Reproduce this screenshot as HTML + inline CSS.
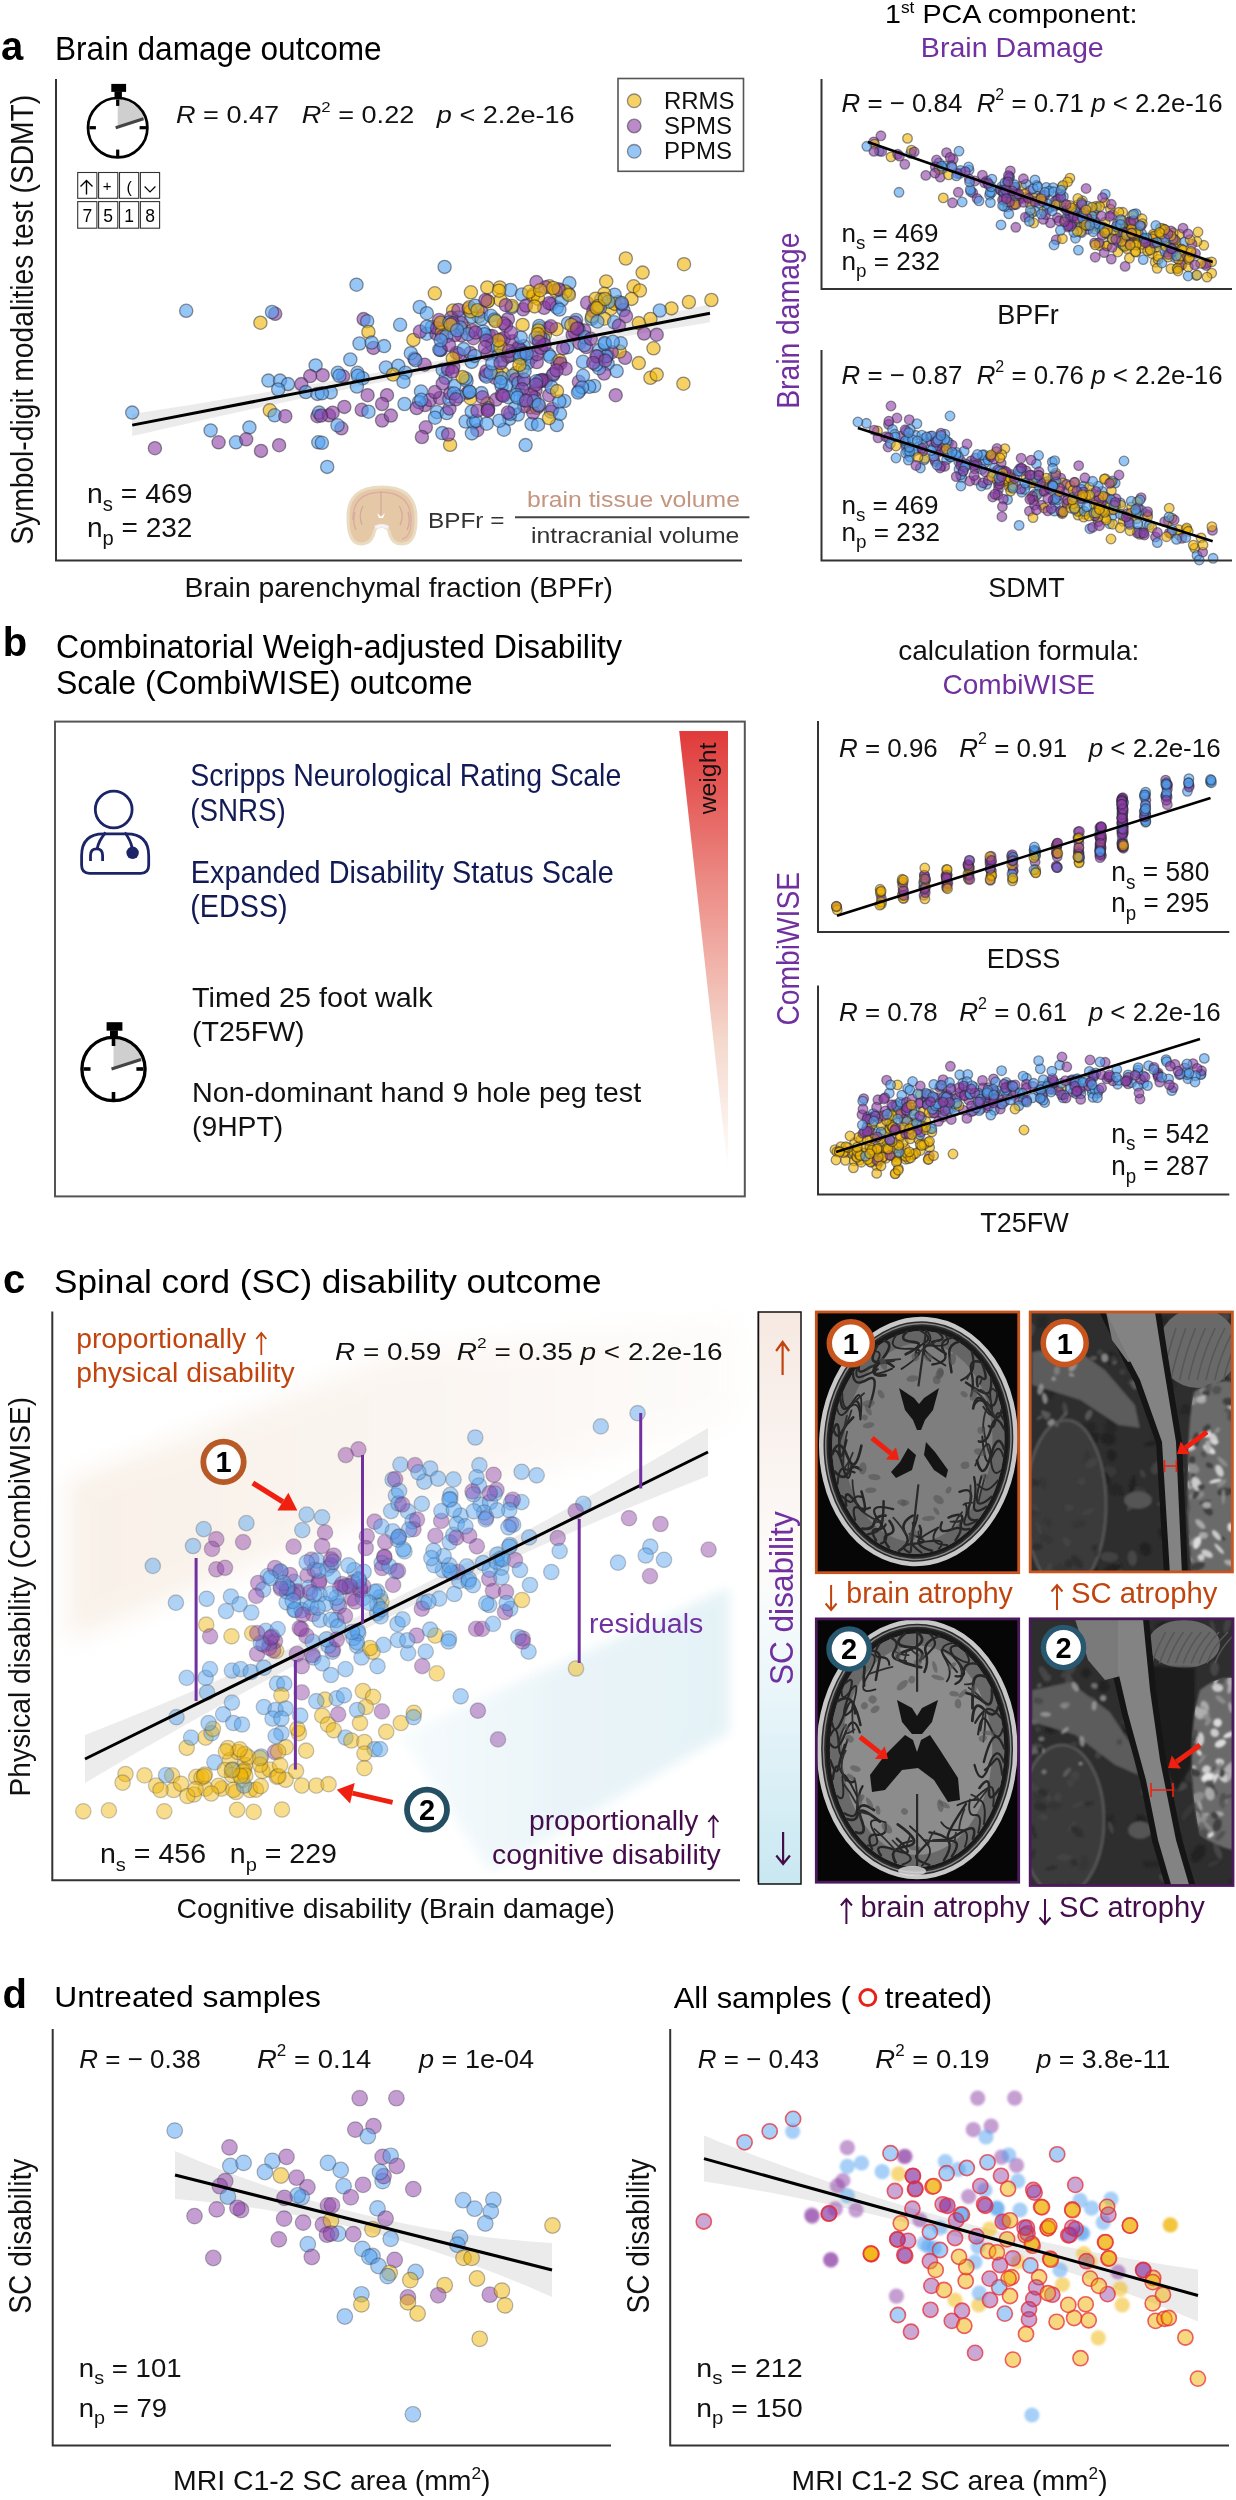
<!DOCTYPE html>
<html><head><meta charset="utf-8"><style>
html,body{margin:0;padding:0;background:#fff;}
svg{display:block;font-family:"Liberation Sans", sans-serif;}
text{white-space:pre;}
.dy{fill:rgba(240,180,0,.6);stroke:rgba(40,40,50,.5);stroke-width:1.3}
.dp{fill:rgba(140,60,165,.6);stroke:rgba(40,40,50,.5);stroke-width:1.3}
.db{fill:rgba(80,160,240,.6);stroke:rgba(40,40,50,.5);stroke-width:1.3}
.cy{fill:rgba(240,180,0,.45);stroke:rgba(60,60,70,.28);stroke-width:1.3}
.cp{fill:rgba(140,60,165,.45);stroke:rgba(60,60,70,.28);stroke-width:1.3}
.cb{fill:rgba(80,160,240,.45);stroke:rgba(60,60,70,.28);stroke-width:1.3}
.ey{fill:rgba(240,180,0,.5);stroke:rgba(50,50,60,.36);stroke-width:1.2}
.ep{fill:rgba(140,60,165,.5);stroke:rgba(50,50,60,.36);stroke-width:1.2}
.eb{fill:rgba(80,160,240,.5);stroke:rgba(50,50,60,.36);stroke-width:1.2}
.uy{fill:rgba(240,180,0,.5)}
.up{fill:rgba(140,60,165,.5)}
.ub{fill:rgba(80,160,240,.5)}
.ty{fill:rgba(240,175,0,.5);stroke:rgba(230,45,55,.75);stroke-width:1.6}
.tp{fill:rgba(140,60,165,.45);stroke:rgba(230,45,55,.75);stroke-width:1.6}
.tb{fill:rgba(80,160,240,.5);stroke:rgba(230,45,55,.75);stroke-width:1.6}
</style></head><body>
<svg width="1236" height="2500" viewBox="0 0 1236 2500">
<defs>
<filter id="blur12" x="-20%" y="-20%" width="140%" height="140%"><feGaussianBlur stdDeviation="12"/></filter>
<filter id="blur6" x="-20%" y="-20%" width="140%" height="140%"><feGaussianBlur stdDeviation="6"/></filter>
<filter id="blur1" x="-50%" y="-50%" width="200%" height="200%"><feGaussianBlur stdDeviation="1.3"/></filter>
<linearGradient id="beigeG" x1="0" y1="0" x2="1" y2="0"><stop offset="0" stop-color="#F3E3D3"/><stop offset="0.6" stop-color="#F8EEE6"/><stop offset="1" stop-color="#FDFAF8"/></linearGradient>
<linearGradient id="blueG" x1="0" y1="0" x2="1" y2="0"><stop offset="0" stop-color="#F4FAFC"/><stop offset="0.5" stop-color="#E3F1F6"/><stop offset="1" stop-color="#DCEEF4"/></linearGradient>
<linearGradient id="weightG" x1="0" y1="0" x2="0" y2="1"><stop offset="0" stop-color="#E03A3A"/><stop offset="0.35" stop-color="#EC8C86"/><stop offset="0.7" stop-color="#F5D8CC"/><stop offset="1" stop-color="#FFFFFF"/></linearGradient>
<linearGradient id="scbarG" x1="0" y1="0" x2="0" y2="1"><stop offset="0" stop-color="#F6E9E2"/><stop offset="0.45" stop-color="#FDFBFA"/><stop offset="0.55" stop-color="#F4FAFC"/><stop offset="1" stop-color="#C9E8F2"/></linearGradient>
</defs>
<path d="M68 1482 L400 1352 L740 1318 L740 1420 L400 1508 L68 1640 Z" fill="url(#beigeG)" filter="url(#blur12)" opacity="0.5"/>
<path d="M400 1735 L729 1588 L729 1732 L490 1872 Z" fill="url(#blueG)" filter="url(#blur6)" opacity="0.75"/>
<path d="M132.2 414.1 L151.5 411.1 L170.7 408.0 L190.0 404.9 L209.2 401.8 L228.5 398.6 L247.8 395.3 L267.0 392.0 L286.3 388.7 L305.5 385.3 L324.8 381.9 L344.1 378.4 L363.3 374.9 L382.6 371.4 L401.8 367.8 L421.1 364.1 L440.4 360.5 L459.6 356.7 L478.9 353.0 L498.1 349.1 L517.4 345.3 L536.7 341.4 L555.9 337.4 L575.2 333.4 L594.4 329.4 L613.7 325.3 L633.0 321.2 L652.2 317.0 L671.5 312.8 L690.7 308.5 L710.0 304.2 L710.0 322.2 L690.7 325.4 L671.5 328.5 L652.2 331.8 L633.0 335.1 L613.7 338.4 L594.4 341.8 L575.2 345.2 L555.9 348.7 L536.7 352.2 L517.4 355.7 L498.1 359.3 L478.9 363.0 L459.6 366.6 L440.4 370.4 L421.1 374.1 L401.8 378.0 L382.6 381.8 L363.3 385.7 L344.1 389.7 L324.8 393.7 L305.5 397.7 L286.3 401.8 L267.0 405.9 L247.8 410.1 L228.5 414.3 L209.2 418.6 L190.0 422.9 L170.7 427.3 L151.5 431.7 L132.2 436.1Z" fill="#e2e2e2" fill-opacity="0.7"/>
<circle class="db" cx="186.2" cy="310.8" r="6.6"/><circle class="dy" cx="260.4" cy="322.7" r="6.6"/><circle class="dp" cx="275.2" cy="313.8" r="6.6"/><circle class="db" cx="272.0" cy="312.0" r="6.6"/><circle class="db" cx="132.2" cy="412.6" r="6.6"/><circle class="dp" cx="154.9" cy="448.2" r="6.6"/><circle class="db" cx="210.6" cy="430.4" r="6.6"/><circle class="dp" cx="218.6" cy="442.3" r="6.6"/><circle class="db" cx="236.0" cy="442.3" r="6.6"/><circle class="db" cx="249.4" cy="427.4" r="6.6"/><circle class="dp" cx="246.2" cy="439.3" r="6.6"/><circle class="dp" cx="261.0" cy="450.9" r="6.6"/><circle class="dp" cx="279.1" cy="445.2" r="6.6"/><circle class="db" cx="318.3" cy="442.3" r="6.6"/><circle class="db" cx="327.2" cy="466.9" r="6.6"/><circle class="db" cx="268.4" cy="380.6" r="6.6"/><circle class="db" cx="280.0" cy="380.6" r="6.6"/><circle class="db" cx="288.0" cy="384.1" r="6.6"/><circle class="db" cx="278.2" cy="389.5" r="6.6"/><circle class="dy" cx="269.8" cy="410.3" r="6.6"/><circle class="db" cx="274.6" cy="415.3" r="6.6"/><circle class="dp" cx="285.3" cy="416.2" r="6.6"/><circle class="db" cx="315.6" cy="365.4" r="6.6"/><circle class="dp" cx="310.2" cy="376.1" r="6.6"/><circle class="dp" cx="322.7" cy="375.2" r="6.6"/><circle class="dp" cx="301.3" cy="384.1" r="6.6"/><circle class="db" cx="305.8" cy="392.1" r="6.6"/><circle class="db" cx="317.4" cy="393.9" r="6.6"/><circle class="dp" cx="317.4" cy="416.2" r="6.6"/><circle class="db" cx="319.1" cy="412.6" r="6.6"/><circle class="dp" cx="329.0" cy="415.3" r="6.6"/><circle class="db" cx="444.6" cy="266.9" r="6.6"/><circle class="db" cx="356.5" cy="284.7" r="6.6"/><circle class="dy" cx="434.8" cy="293.3" r="6.6"/><circle class="db" cx="419.7" cy="307.0" r="6.6"/><circle class="db" cx="426.8" cy="313.2" r="6.6"/><circle class="dy" cx="453.1" cy="310.5" r="6.6"/><circle class="dp" cx="363.6" cy="319.1" r="6.6"/><circle class="db" cx="367.2" cy="321.2" r="6.6"/><circle class="dy" cx="368.4" cy="331.9" r="6.6"/><circle class="db" cx="400.1" cy="324.8" r="6.6"/><circle class="dy" cx="449.0" cy="324.8" r="6.6"/><circle class="db" cx="359.5" cy="343.5" r="6.6"/><circle class="dp" cx="373.4" cy="347.9" r="6.6"/><circle class="db" cx="384.1" cy="346.1" r="6.6"/><circle class="db" cx="371.6" cy="342.6" r="6.6"/><circle class="db" cx="350.3" cy="359.5" r="6.6"/><circle class="dy" cx="413.4" cy="339.9" r="6.6"/><circle class="db" cx="426.8" cy="333.7" r="6.6"/><circle class="dy" cx="464.2" cy="328.3" r="6.6"/><circle class="dy" cx="487.3" cy="287.4" r="6.6"/><circle class="dy" cx="499.8" cy="287.4" r="6.6"/><circle class="db" cx="510.5" cy="290.0" r="6.6"/><circle class="db" cx="522.0" cy="294.5" r="6.6"/><circle class="dy" cx="533.6" cy="294.5" r="6.6"/><circle class="dp" cx="343.1" cy="376.4" r="6.6"/><circle class="db" cx="337.8" cy="372.8" r="6.6"/><circle class="db" cx="357.4" cy="372.8" r="6.6"/><circle class="db" cx="362.7" cy="378.2" r="6.6"/><circle class="db" cx="330.7" cy="392.4" r="6.6"/><circle class="db" cx="385.9" cy="367.5" r="6.6"/><circle class="db" cx="398.3" cy="365.7" r="6.6"/><circle class="dy" cx="393.0" cy="374.6" r="6.6"/><circle class="db" cx="405.4" cy="372.8" r="6.6"/><circle class="dp" cx="414.3" cy="358.6" r="6.6"/><circle class="db" cx="410.8" cy="353.2" r="6.6"/><circle class="dy" cx="625.8" cy="258.5" r="6.6"/><circle class="dy" cx="684.0" cy="264.2" r="6.6"/><circle class="dy" cx="642.6" cy="272.6" r="6.6"/><circle class="dy" cx="606.2" cy="281.4" r="6.6"/><circle class="dy" cx="711.4" cy="300.0" r="6.6"/><circle class="dy" cx="688.9" cy="302.0" r="6.6"/><circle class="dy" cx="671.4" cy="308.4" r="6.6"/><circle class="db" cx="659.8" cy="310.5" r="6.6"/><circle class="dy" cx="650.4" cy="318.9" r="6.6"/><circle class="dy" cx="638.8" cy="323.1" r="6.6"/><circle class="dp" cx="656.7" cy="334.7" r="6.6"/><circle class="dp" cx="644.1" cy="333.6" r="6.6"/><circle class="dy" cx="653.5" cy="348.3" r="6.6"/><circle class="dy" cx="638.8" cy="363.1" r="6.6"/><circle class="dy" cx="650.4" cy="377.8" r="6.6"/><circle class="dy" cx="656.7" cy="374.6" r="6.6"/><circle class="dy" cx="683.4" cy="383.7" r="6.6"/><circle class="dp" cx="615.7" cy="395.2" r="6.6"/><circle class="dp" cx="625.1" cy="357.8" r="6.6"/><circle class="dy" cx="619.5" cy="351.5" r="6.6"/><circle class="db" cx="525.6" cy="445.1" r="6.6"/><circle class="db" cx="556.8" cy="425.1" r="6.6"/><circle class="db" cx="531.5" cy="424.0" r="6.6"/><circle class="db" cx="509.4" cy="418.8" r="6.6"/><circle class="dy" cx="530.5" cy="407.2" r="6.6"/><circle class="db" cx="517.9" cy="414.6" r="6.6"/><circle class="dy" cx="549.4" cy="286.3" r="6.6"/><circle class="db" cx="569.4" cy="283.1" r="6.6"/><circle class="db" cx="568.3" cy="293.6" r="6.6"/><circle class="dy" cx="633.6" cy="286.3" r="6.6"/><circle class="dy" cx="639.9" cy="290.5" r="6.6"/><circle class="dy" cx="631.5" cy="298.9" r="6.6"/><circle class="dy" cx="618.8" cy="302.1" r="6.6"/><circle class="db" cx="614.6" cy="294.7" r="6.6"/><circle class="db" cx="339.4" cy="375.8" r="6.6"/><circle class="db" cx="357.9" cy="375.8" r="6.6"/><circle class="db" cx="356.9" cy="386.5" r="6.6"/><circle class="db" cx="321.9" cy="393.3" r="6.6"/><circle class="dp" cx="367.6" cy="395.2" r="6.6"/><circle class="dp" cx="387.0" cy="395.2" r="6.6"/><circle class="dp" cx="382.1" cy="404.0" r="6.6"/><circle class="dp" cx="361.7" cy="409.8" r="6.6"/><circle class="db" cx="368.5" cy="411.7" r="6.6"/><circle class="dp" cx="344.3" cy="406.9" r="6.6"/><circle class="dp" cx="332.6" cy="412.7" r="6.6"/><circle class="dp" cx="321.0" cy="415.6" r="6.6"/><circle class="dp" cx="341.4" cy="428.3" r="6.6"/><circle class="db" cx="337.5" cy="425.3" r="6.6"/><circle class="dp" cx="382.1" cy="420.5" r="6.6"/><circle class="dp" cx="390.9" cy="415.6" r="6.6"/><circle class="db" cx="321.9" cy="442.8" r="6.6"/><circle class="db" cx="404.5" cy="404.0" r="6.6"/><circle class="db" cx="403.5" cy="381.7" r="6.6"/><circle class="db" cx="421.0" cy="391.4" r="6.6"/><circle class="dp" cx="425.8" cy="427.3" r="6.6"/><circle class="dp" cx="421.9" cy="437.0" r="6.6"/><circle class="db" cx="442.3" cy="433.1" r="6.6"/><circle class="dy" cx="450.1" cy="444.8" r="6.6"/><circle class="dp" cx="477.3" cy="430.2" r="6.6"/><circle class="db" cx="465.6" cy="421.5" r="6.6"/><circle class="db" cx="473.4" cy="422.4" r="6.6"/><circle class="dy" cx="470.5" cy="398.2" r="6.6"/><circle class="db" cx="501.6" cy="386.5" r="6.6"/><circle class="db" cx="508.3" cy="397.2" r="6.6"/><circle class="db" cx="518.1" cy="389.4" r="6.6"/><circle class="dp" cx="539.4" cy="381.7" r="6.6"/><circle class="dp" cx="549.1" cy="395.2" r="6.6"/><circle class="dp" cx="535.5" cy="390.4" r="6.6"/><circle class="db" cx="551.0" cy="411.7" r="6.6"/><circle class="dy" cx="502.5" cy="372.9" r="6.6"/><circle class="dy" cx="516.1" cy="372.9" r="6.6"/><circle class="dp" cx="425.0" cy="405.0" r="6.6"/><circle class="dp" cx="430.0" cy="400.0" r="6.6"/><circle class="dp" cx="440.0" cy="398.0" r="6.6"/><circle class="dp" cx="435.0" cy="392.0" r="6.6"/><circle class="db" cx="419.0" cy="402.0" r="6.6"/><circle class="db" cx="437.0" cy="412.0" r="6.6"/><circle class="dp" cx="453.3" cy="367.1" r="6.6"/><circle class="dp" cx="543.0" cy="380.1" r="6.6"/><circle class="db" cx="458.5" cy="317.5" r="6.6"/><circle class="db" cx="510.2" cy="413.8" r="6.6"/><circle class="dp" cx="551.6" cy="304.1" r="6.6"/><circle class="db" cx="607.7" cy="363.7" r="6.6"/><circle class="db" cx="559.5" cy="290.2" r="6.6"/><circle class="dy" cx="539.8" cy="328.2" r="6.6"/><circle class="db" cx="607.1" cy="355.6" r="6.6"/><circle class="db" cx="620.7" cy="343.2" r="6.6"/><circle class="db" cx="503.9" cy="429.7" r="6.6"/><circle class="dp" cx="448.2" cy="434.5" r="6.6"/><circle class="dp" cx="548.5" cy="328.2" r="6.6"/><circle class="dp" cx="489.5" cy="336.1" r="6.6"/><circle class="db" cx="538.1" cy="424.7" r="6.6"/><circle class="db" cx="435.0" cy="417.7" r="6.6"/><circle class="db" cx="616.7" cy="371.1" r="6.6"/><circle class="db" cx="446.7" cy="413.1" r="6.6"/><circle class="dp" cx="416.7" cy="408.1" r="6.6"/><circle class="db" cx="431.9" cy="327.0" r="6.6"/><circle class="dp" cx="545.6" cy="287.2" r="6.6"/><circle class="db" cx="476.1" cy="420.9" r="6.6"/><circle class="dy" cx="470.9" cy="292.3" r="6.6"/><circle class="dp" cx="494.9" cy="377.7" r="6.6"/><circle class="db" cx="471.9" cy="433.4" r="6.6"/><circle class="dp" cx="487.6" cy="353.7" r="6.6"/><circle class="db" cx="552.8" cy="375.3" r="6.6"/><circle class="db" cx="519.2" cy="349.0" r="6.6"/><circle class="db" cx="453.2" cy="328.2" r="6.6"/><circle class="dy" cx="522.7" cy="367.7" r="6.6"/><circle class="dy" cx="496.7" cy="372.8" r="6.6"/><circle class="dp" cx="545.9" cy="381.1" r="6.6"/><circle class="db" cx="548.7" cy="354.6" r="6.6"/><circle class="db" cx="481.4" cy="393.1" r="6.6"/><circle class="dp" cx="456.5" cy="353.0" r="6.6"/><circle class="dp" cx="473.4" cy="338.2" r="6.6"/><circle class="dp" cx="485.4" cy="375.3" r="6.6"/><circle class="dy" cx="487.4" cy="403.6" r="6.6"/><circle class="dp" cx="534.5" cy="397.6" r="6.6"/><circle class="dp" cx="449.5" cy="408.6" r="6.6"/><circle class="db" cx="440.9" cy="349.6" r="6.6"/><circle class="dp" cx="420.0" cy="331.5" r="6.6"/><circle class="db" cx="599.2" cy="350.1" r="6.6"/><circle class="dp" cx="436.5" cy="333.9" r="6.6"/><circle class="dp" cx="611.8" cy="352.2" r="6.6"/><circle class="dp" cx="424.6" cy="364.7" r="6.6"/><circle class="db" cx="440.0" cy="324.6" r="6.6"/><circle class="dp" cx="552.3" cy="409.0" r="6.6"/><circle class="db" cx="426.8" cy="326.7" r="6.6"/><circle class="dp" cx="461.4" cy="335.4" r="6.6"/><circle class="db" cx="497.8" cy="345.5" r="6.6"/><circle class="db" cx="449.4" cy="399.3" r="6.6"/><circle class="dp" cx="557.4" cy="363.0" r="6.6"/><circle class="dy" cx="478.6" cy="316.4" r="6.6"/><circle class="db" cx="539.2" cy="325.9" r="6.6"/><circle class="dp" cx="536.4" cy="282.1" r="6.6"/><circle class="dp" cx="437.1" cy="328.0" r="6.6"/><circle class="db" cx="523.6" cy="346.2" r="6.6"/><circle class="dy" cx="545.0" cy="334.6" r="6.6"/><circle class="db" cx="606.1" cy="356.4" r="6.6"/><circle class="dp" cx="481.2" cy="311.6" r="6.6"/><circle class="db" cx="595.1" cy="307.4" r="6.6"/><circle class="dy" cx="549.0" cy="418.0" r="6.6"/><circle class="dp" cx="461.5" cy="323.0" r="6.6"/><circle class="db" cx="498.6" cy="355.7" r="6.6"/><circle class="dy" cx="604.3" cy="293.8" r="6.6"/><circle class="dp" cx="472.4" cy="330.3" r="6.6"/><circle class="dp" cx="553.5" cy="373.9" r="6.6"/><circle class="dy" cx="441.8" cy="332.6" r="6.6"/><circle class="dp" cx="531.1" cy="394.6" r="6.6"/><circle class="db" cx="486.5" cy="376.7" r="6.6"/><circle class="db" cx="488.2" cy="408.2" r="6.6"/><circle class="dp" cx="500.7" cy="339.6" r="6.6"/><circle class="db" cx="567.2" cy="347.3" r="6.6"/><circle class="dp" cx="507.9" cy="319.2" r="6.6"/><circle class="dy" cx="565.3" cy="291.5" r="6.6"/><circle class="db" cx="499.3" cy="420.7" r="6.6"/><circle class="db" cx="486.7" cy="423.7" r="6.6"/><circle class="dp" cx="459.2" cy="354.3" r="6.6"/><circle class="db" cx="594.2" cy="386.0" r="6.6"/><circle class="db" cx="589.2" cy="386.8" r="6.6"/><circle class="dy" cx="533.1" cy="296.5" r="6.6"/><circle class="dy" cx="610.7" cy="308.7" r="6.6"/><circle class="db" cx="601.2" cy="299.4" r="6.6"/><circle class="db" cx="560.0" cy="413.8" r="6.6"/><circle class="dy" cx="536.9" cy="407.8" r="6.6"/><circle class="db" cx="583.0" cy="361.8" r="6.6"/><circle class="db" cx="421.2" cy="399.8" r="6.6"/><circle class="dp" cx="533.2" cy="412.5" r="6.6"/><circle class="dp" cx="439.0" cy="320.0" r="6.6"/><circle class="dp" cx="579.6" cy="343.0" r="6.6"/><circle class="dp" cx="492.2" cy="336.0" r="6.6"/><circle class="db" cx="415.4" cy="360.0" r="6.6"/><circle class="dp" cx="496.1" cy="399.6" r="6.6"/><circle class="db" cx="564.3" cy="401.0" r="6.6"/><circle class="db" cx="521.7" cy="357.4" r="6.6"/><circle class="dy" cx="614.9" cy="303.9" r="6.6"/><circle class="db" cx="521.7" cy="350.9" r="6.6"/><circle class="dy" cx="440.6" cy="322.8" r="6.6"/><circle class="dy" cx="538.5" cy="330.4" r="6.6"/><circle class="dp" cx="467.5" cy="392.9" r="6.6"/><circle class="dp" cx="604.1" cy="373.5" r="6.6"/><circle class="dp" cx="512.5" cy="341.2" r="6.6"/><circle class="db" cx="483.3" cy="331.5" r="6.6"/><circle class="db" cx="512.5" cy="375.8" r="6.6"/><circle class="db" cx="531.5" cy="357.0" r="6.6"/><circle class="db" cx="604.9" cy="344.0" r="6.6"/><circle class="dp" cx="451.3" cy="317.6" r="6.6"/><circle class="dy" cx="604.2" cy="318.7" r="6.6"/><circle class="dp" cx="458.4" cy="309.9" r="6.6"/><circle class="dp" cx="482.5" cy="397.3" r="6.6"/><circle class="dp" cx="515.8" cy="379.5" r="6.6"/><circle class="dp" cx="450.3" cy="393.2" r="6.6"/><circle class="db" cx="502.6" cy="360.0" r="6.6"/><circle class="dp" cx="518.4" cy="347.7" r="6.6"/><circle class="dy" cx="509.4" cy="355.3" r="6.6"/><circle class="dp" cx="486.4" cy="371.2" r="6.6"/><circle class="db" cx="506.1" cy="385.2" r="6.6"/><circle class="db" cx="490.5" cy="372.5" r="6.6"/><circle class="db" cx="591.6" cy="318.8" r="6.6"/><circle class="dy" cx="538.2" cy="298.8" r="6.6"/><circle class="db" cx="501.7" cy="378.1" r="6.6"/><circle class="dp" cx="544.1" cy="307.8" r="6.6"/><circle class="db" cx="556.9" cy="307.5" r="6.6"/><circle class="db" cx="561.8" cy="300.1" r="6.6"/><circle class="db" cx="460.0" cy="327.4" r="6.6"/><circle class="db" cx="550.3" cy="356.7" r="6.6"/><circle class="dy" cx="522.6" cy="324.9" r="6.6"/><circle class="db" cx="445.6" cy="377.8" r="6.6"/><circle class="dp" cx="539.5" cy="380.9" r="6.6"/><circle class="db" cx="484.6" cy="334.2" r="6.6"/><circle class="dp" cx="440.3" cy="350.1" r="6.6"/><circle class="dp" cx="584.2" cy="330.4" r="6.6"/><circle class="db" cx="511.9" cy="354.9" r="6.6"/><circle class="dp" cx="501.9" cy="394.9" r="6.6"/><circle class="db" cx="454.3" cy="386.0" r="6.6"/><circle class="dp" cx="468.6" cy="308.8" r="6.6"/><circle class="db" cx="579.2" cy="390.9" r="6.6"/><circle class="dp" cx="549.2" cy="303.2" r="6.6"/><circle class="dp" cx="470.3" cy="353.1" r="6.6"/><circle class="db" cx="472.0" cy="316.8" r="6.6"/><circle class="dp" cx="507.9" cy="356.4" r="6.6"/><circle class="db" cx="568.0" cy="323.2" r="6.6"/><circle class="db" cx="527.8" cy="362.8" r="6.6"/><circle class="dp" cx="563.1" cy="348.4" r="6.6"/><circle class="dp" cx="523.2" cy="309.3" r="6.6"/><circle class="db" cx="439.3" cy="349.6" r="6.6"/><circle class="db" cx="520.0" cy="358.1" r="6.6"/><circle class="db" cx="608.6" cy="301.8" r="6.6"/><circle class="dy" cx="555.4" cy="290.6" r="6.6"/><circle class="dp" cx="538.7" cy="405.8" r="6.6"/><circle class="db" cx="458.6" cy="396.4" r="6.6"/><circle class="db" cx="578.5" cy="329.0" r="6.6"/><circle class="db" cx="518.5" cy="383.1" r="6.6"/><circle class="db" cx="463.8" cy="349.1" r="6.6"/><circle class="db" cx="538.4" cy="339.3" r="6.6"/><circle class="db" cx="492.3" cy="344.8" r="6.6"/><circle class="db" cx="511.5" cy="307.7" r="6.6"/><circle class="dp" cx="574.5" cy="332.1" r="6.6"/><circle class="dp" cx="536.8" cy="362.1" r="6.6"/><circle class="dp" cx="587.1" cy="302.8" r="6.6"/><circle class="dy" cx="470.7" cy="311.4" r="6.6"/><circle class="dy" cx="511.9" cy="306.0" r="6.6"/><circle class="dy" cx="529.1" cy="291.8" r="6.6"/><circle class="db" cx="520.7" cy="337.4" r="6.6"/><circle class="dp" cx="442.1" cy="336.8" r="6.6"/><circle class="dp" cx="526.0" cy="305.6" r="6.6"/><circle class="dy" cx="500.6" cy="300.2" r="6.6"/><circle class="db" cx="576.1" cy="320.0" r="6.6"/><circle class="dp" cx="524.1" cy="406.2" r="6.6"/><circle class="db" cx="481.5" cy="318.8" r="6.6"/><circle class="dy" cx="556.6" cy="329.2" r="6.6"/><circle class="db" cx="442.7" cy="369.7" r="6.6"/><circle class="db" cx="471.7" cy="411.6" r="6.6"/><circle class="db" cx="492.3" cy="363.5" r="6.6"/><circle class="db" cx="449.4" cy="322.4" r="6.6"/><circle class="dp" cx="454.7" cy="335.1" r="6.6"/><circle class="db" cx="466.6" cy="380.9" r="6.6"/><circle class="db" cx="597.5" cy="356.5" r="6.6"/><circle class="dp" cx="503.8" cy="338.3" r="6.6"/><circle class="dp" cx="586.3" cy="347.0" r="6.6"/><circle class="db" cx="465.6" cy="378.4" r="6.6"/><circle class="dp" cx="572.7" cy="334.7" r="6.6"/><circle class="dy" cx="462.5" cy="377.1" r="6.6"/><circle class="db" cx="524.5" cy="383.4" r="6.6"/><circle class="db" cx="599.0" cy="368.2" r="6.6"/><circle class="db" cx="604.7" cy="342.9" r="6.6"/><circle class="dp" cx="577.1" cy="327.7" r="6.6"/><circle class="db" cx="446.3" cy="336.3" r="6.6"/><circle class="dy" cx="452.8" cy="358.5" r="6.6"/><circle class="dp" cx="448.0" cy="369.0" r="6.6"/><circle class="dy" cx="559.6" cy="360.7" r="6.6"/><circle class="dp" cx="477.5" cy="410.7" r="6.6"/><circle class="db" cx="543.4" cy="339.0" r="6.6"/><circle class="db" cx="551.7" cy="387.3" r="6.6"/><circle class="dy" cx="469.3" cy="307.3" r="6.6"/><circle class="dy" cx="595.5" cy="298.7" r="6.6"/><circle class="db" cx="623.4" cy="310.1" r="6.6"/><circle class="dp" cx="449.0" cy="344.9" r="6.6"/><circle class="db" cx="596.2" cy="364.6" r="6.6"/><circle class="dp" cx="500.5" cy="363.0" r="6.6"/><circle class="db" cx="454.0" cy="393.4" r="6.6"/><circle class="dp" cx="593.3" cy="311.0" r="6.6"/><circle class="dp" cx="523.9" cy="379.4" r="6.6"/><circle class="dy" cx="500.5" cy="347.5" r="6.6"/><circle class="dp" cx="541.4" cy="380.3" r="6.6"/><circle class="dp" cx="560.4" cy="363.4" r="6.6"/><circle class="dy" cx="498.4" cy="340.4" r="6.6"/><circle class="db" cx="475.1" cy="305.7" r="6.6"/><circle class="db" cx="514.9" cy="408.2" r="6.6"/><circle class="db" cx="585.1" cy="337.3" r="6.6"/><circle class="db" cx="614.2" cy="322.3" r="6.6"/><circle class="dp" cx="575.0" cy="322.6" r="6.6"/><circle class="dp" cx="558.6" cy="289.3" r="6.6"/><circle class="dp" cx="486.6" cy="340.6" r="6.6"/><circle class="dp" cx="578.9" cy="381.8" r="6.6"/><circle class="dp" cx="452.5" cy="323.2" r="6.6"/><circle class="db" cx="583.0" cy="375.8" r="6.6"/><circle class="dp" cx="505.8" cy="305.1" r="6.6"/><circle class="dp" cx="523.7" cy="352.9" r="6.6"/><circle class="dp" cx="503.2" cy="395.7" r="6.6"/><circle class="db" cx="523.7" cy="400.2" r="6.6"/><circle class="db" cx="490.9" cy="315.8" r="6.6"/><circle class="dp" cx="537.1" cy="354.2" r="6.6"/><circle class="db" cx="584.5" cy="345.0" r="6.6"/><circle class="dy" cx="499.0" cy="290.7" r="6.6"/><circle class="dy" cx="450.6" cy="324.8" r="6.6"/><circle class="dp" cx="590.8" cy="338.8" r="6.6"/><circle class="db" cx="440.7" cy="340.3" r="6.6"/><circle class="dy" cx="592.1" cy="316.4" r="6.6"/><circle class="db" cx="582.1" cy="387.4" r="6.6"/><circle class="dp" cx="596.5" cy="356.3" r="6.6"/><circle class="db" cx="559.3" cy="401.5" r="6.6"/><circle class="db" cx="524.6" cy="371.2" r="6.6"/><circle class="dp" cx="593.2" cy="362.9" r="6.6"/><circle class="dy" cx="534.6" cy="306.4" r="6.6"/><circle class="dp" cx="540.3" cy="337.5" r="6.6"/><circle class="dp" cx="522.1" cy="389.2" r="6.6"/><circle class="dp" cx="621.9" cy="304.3" r="6.6"/><circle class="db" cx="535.4" cy="338.0" r="6.6"/><circle class="dy" cx="553.3" cy="288.0" r="6.6"/><circle class="dp" cx="540.9" cy="347.9" r="6.6"/><circle class="dp" cx="452.3" cy="371.6" r="6.6"/><circle class="db" cx="533.9" cy="401.3" r="6.6"/><circle class="db" cx="559.4" cy="309.6" r="6.6"/><circle class="db" cx="467.9" cy="334.2" r="6.6"/><circle class="db" cx="494.6" cy="319.5" r="6.6"/><circle class="dp" cx="618.9" cy="325.6" r="6.6"/><circle class="dy" cx="487.8" cy="301.2" r="6.6"/><circle class="dy" cx="477.5" cy="310.2" r="6.6"/><circle class="db" cx="536.2" cy="381.3" r="6.6"/><circle class="dy" cx="557.0" cy="391.1" r="6.6"/><circle class="dp" cx="487.9" cy="409.9" r="6.6"/><circle class="dp" cx="485.0" cy="347.3" r="6.6"/><circle class="dy" cx="540.1" cy="290.2" r="6.6"/><circle class="db" cx="621.6" cy="302.9" r="6.6"/><circle class="dp" cx="565.6" cy="368.7" r="6.6"/><circle class="dp" cx="442.8" cy="383.5" r="6.6"/><circle class="db" cx="469.5" cy="391.8" r="6.6"/><circle class="dy" cx="537.9" cy="334.1" r="6.6"/><circle class="dy" cx="487.6" cy="301.2" r="6.6"/><circle class="db" cx="457.1" cy="330.2" r="6.6"/><circle class="dp" cx="626.0" cy="316.2" r="6.6"/><circle class="dy" cx="571.3" cy="325.0" r="6.6"/><circle class="db" cx="500.4" cy="382.0" r="6.6"/><circle class="dp" cx="544.6" cy="344.8" r="6.6"/><circle class="db" cx="519.6" cy="354.0" r="6.6"/><circle class="db" cx="471.7" cy="361.9" r="6.6"/><circle class="db" cx="600.0" cy="307.5" r="6.6"/><circle class="dy" cx="598.3" cy="306.0" r="6.6"/><circle class="dy" cx="604.8" cy="299.0" r="6.6"/><circle class="dp" cx="536.0" cy="384.4" r="6.6"/><circle class="dp" cx="539.0" cy="341.8" r="6.6"/><circle class="dp" cx="550.9" cy="326.3" r="6.6"/><circle class="dp" cx="506.0" cy="325.7" r="6.6"/><circle class="db" cx="597.4" cy="321.6" r="6.6"/><circle class="dp" cx="485.4" cy="300.1" r="6.6"/><circle class="dp" cx="577.0" cy="328.7" r="6.6"/><circle class="dp" cx="487.9" cy="410.7" r="6.6"/><circle class="db" cx="526.6" cy="353.6" r="6.6"/><circle class="dy" cx="519.4" cy="364.9" r="6.6"/><circle class="db" cx="516.2" cy="395.0" r="6.6"/><circle class="dp" cx="508.0" cy="412.5" r="6.6"/><circle class="db" cx="474.5" cy="355.9" r="6.6"/><circle class="db" cx="517.4" cy="397.6" r="6.6"/><circle class="dp" cx="503.6" cy="323.4" r="6.6"/><circle class="dp" cx="511.0" cy="332.8" r="6.6"/><circle class="dp" cx="605.3" cy="360.6" r="6.6"/><circle class="dp" cx="475.5" cy="332.6" r="6.6"/><circle class="dy" cx="495.5" cy="321.1" r="6.6"/><circle class="db" cx="538.7" cy="404.7" r="6.6"/><circle class="db" cx="578.0" cy="392.5" r="6.6"/><circle class="db" cx="612.8" cy="341.8" r="6.6"/><circle class="dp" cx="455.9" cy="399.3" r="6.6"/><circle class="dp" cx="526.1" cy="400.6" r="6.6"/><circle class="db" cx="469.6" cy="391.9" r="6.6"/><circle class="dy" cx="596.8" cy="308.1" r="6.6"/><circle class="dp" cx="509.0" cy="351.0" r="6.6"/><circle class="dp" cx="556.5" cy="370.4" r="6.6"/><circle class="dy" cx="568.9" cy="294.9" r="6.6"/>
<line x1="132.2" y1="425.1" x2="710" y2="313.2" stroke="#000" stroke-width="3"/>
<circle class="dy" cx="891.0" cy="156.9" r="4.8"/><circle class="dp" cx="904.8" cy="164.3" r="4.8"/><circle class="dp" cx="873.8" cy="141.9" r="4.8"/><circle class="dy" cx="874.5" cy="144.2" r="4.8"/><circle class="dp" cx="897.6" cy="154.3" r="4.8"/><circle class="db" cx="910.8" cy="153.3" r="4.8"/><circle class="dy" cx="907.5" cy="138.4" r="4.8"/><circle class="dp" cx="925.8" cy="175.4" r="4.8"/><circle class="db" cx="879.4" cy="151.1" r="4.8"/><circle class="dp" cx="881.7" cy="151.5" r="4.8"/><circle class="dy" cx="911.5" cy="150.2" r="4.8"/><circle class="dp" cx="873.9" cy="151.4" r="4.8"/><circle class="dp" cx="914.2" cy="151.9" r="4.8"/><circle class="dp" cx="899.5" cy="156.1" r="4.8"/><circle class="dp" cx="986.6" cy="181.0" r="4.8"/><circle class="db" cx="969.1" cy="170.1" r="4.8"/><circle class="dp" cx="982.4" cy="175.2" r="4.8"/><circle class="db" cx="962.2" cy="202.0" r="4.8"/><circle class="db" cx="944.9" cy="166.0" r="4.8"/><circle class="dp" cx="984.7" cy="182.8" r="4.8"/><circle class="db" cx="991.9" cy="179.1" r="4.8"/><circle class="dp" cx="972.7" cy="192.7" r="4.8"/><circle class="db" cx="989.6" cy="195.0" r="4.8"/><circle class="db" cx="938.9" cy="162.9" r="4.8"/><circle class="dp" cx="977.1" cy="198.5" r="4.8"/><circle class="db" cx="960.1" cy="173.3" r="4.8"/><circle class="dp" cx="936.5" cy="160.0" r="4.8"/><circle class="db" cx="938.8" cy="168.1" r="4.8"/><circle class="db" cx="943.4" cy="168.4" r="4.8"/><circle class="dp" cx="940.2" cy="177.1" r="4.8"/><circle class="db" cx="970.7" cy="191.5" r="4.8"/><circle class="dp" cx="953.1" cy="159.3" r="4.8"/><circle class="dp" cx="958.3" cy="192.3" r="4.8"/><circle class="dp" cx="946.5" cy="152.6" r="4.8"/><circle class="dp" cx="950.2" cy="157.4" r="4.8"/><circle class="dp" cx="935.3" cy="166.7" r="4.8"/><circle class="db" cx="959.0" cy="151.1" r="4.8"/><circle class="db" cx="968.5" cy="167.0" r="4.8"/><circle class="db" cx="979.0" cy="200.9" r="4.8"/><circle class="db" cx="991.8" cy="192.3" r="4.8"/><circle class="db" cx="960.5" cy="170.5" r="4.8"/><circle class="dy" cx="939.0" cy="169.5" r="4.8"/><circle class="dy" cx="948.6" cy="174.9" r="4.8"/><circle class="dp" cx="935.0" cy="173.1" r="4.8"/><circle class="db" cx="941.6" cy="166.2" r="4.8"/><circle class="dp" cx="974.9" cy="181.0" r="4.8"/><circle class="dp" cx="951.4" cy="165.6" r="4.8"/><circle class="db" cx="990.2" cy="192.3" r="4.8"/><circle class="dp" cx="965.3" cy="171.7" r="4.8"/><circle class="dp" cx="957.3" cy="173.5" r="4.8"/><circle class="db" cx="988.9" cy="185.2" r="4.8"/><circle class="dp" cx="969.3" cy="179.1" r="4.8"/><circle class="db" cx="970.3" cy="189.7" r="4.8"/><circle class="db" cx="991.1" cy="186.9" r="4.8"/><circle class="db" cx="952.0" cy="167.2" r="4.8"/><circle class="db" cx="969.6" cy="181.9" r="4.8"/><circle class="db" cx="956.4" cy="175.9" r="4.8"/><circle class="db" cx="990.4" cy="202.6" r="4.8"/><circle class="dp" cx="988.2" cy="183.4" r="4.8"/><circle class="dy" cx="1021.3" cy="186.1" r="4.8"/><circle class="db" cx="1001.7" cy="186.7" r="4.8"/><circle class="dp" cx="1057.4" cy="217.8" r="4.8"/><circle class="dp" cx="1056.2" cy="239.8" r="4.8"/><circle class="dp" cx="1013.2" cy="190.1" r="4.8"/><circle class="db" cx="1011.8" cy="197.2" r="4.8"/><circle class="dp" cx="1050.4" cy="222.9" r="4.8"/><circle class="db" cx="1039.2" cy="203.3" r="4.8"/><circle class="db" cx="1054.6" cy="201.7" r="4.8"/><circle class="db" cx="1045.0" cy="195.5" r="4.8"/><circle class="db" cx="1020.0" cy="196.0" r="4.8"/><circle class="db" cx="1058.3" cy="197.8" r="4.8"/><circle class="dy" cx="1043.5" cy="211.1" r="4.8"/><circle class="db" cx="1007.6" cy="207.0" r="4.8"/><circle class="db" cx="1008.8" cy="213.9" r="4.8"/><circle class="dp" cx="1058.8" cy="201.8" r="4.8"/><circle class="dy" cx="1007.9" cy="180.6" r="4.8"/><circle class="db" cx="1058.3" cy="198.8" r="4.8"/><circle class="db" cx="1026.0" cy="184.2" r="4.8"/><circle class="dp" cx="1049.6" cy="207.6" r="4.8"/><circle class="dp" cx="1014.4" cy="202.6" r="4.8"/><circle class="db" cx="1015.6" cy="187.3" r="4.8"/><circle class="dp" cx="1021.2" cy="198.7" r="4.8"/><circle class="db" cx="1035.0" cy="211.3" r="4.8"/><circle class="dp" cx="1030.1" cy="190.7" r="4.8"/><circle class="dy" cx="1031.4" cy="212.8" r="4.8"/><circle class="db" cx="1000.2" cy="189.7" r="4.8"/><circle class="dp" cx="1010.3" cy="170.9" r="4.8"/><circle class="dp" cx="1019.6" cy="198.2" r="4.8"/><circle class="dp" cx="1033.3" cy="200.9" r="4.8"/><circle class="dp" cx="1014.9" cy="187.1" r="4.8"/><circle class="db" cx="1046.3" cy="187.4" r="4.8"/><circle class="dp" cx="1054.7" cy="206.2" r="4.8"/><circle class="db" cx="1036.8" cy="185.2" r="4.8"/><circle class="dp" cx="1027.1" cy="196.8" r="4.8"/><circle class="db" cx="1028.7" cy="216.7" r="4.8"/><circle class="dp" cx="1056.5" cy="200.4" r="4.8"/><circle class="dy" cx="1033.6" cy="223.0" r="4.8"/><circle class="dp" cx="1007.3" cy="181.8" r="4.8"/><circle class="db" cx="1004.4" cy="189.8" r="4.8"/><circle class="db" cx="1047.0" cy="209.4" r="4.8"/><circle class="dy" cx="1009.3" cy="187.1" r="4.8"/><circle class="db" cx="1053.0" cy="187.7" r="4.8"/><circle class="dp" cx="1013.2" cy="205.1" r="4.8"/><circle class="db" cx="1059.4" cy="204.8" r="4.8"/><circle class="dp" cx="1009.7" cy="177.1" r="4.8"/><circle class="dp" cx="1011.7" cy="198.6" r="4.8"/><circle class="dp" cx="1043.3" cy="219.4" r="4.8"/><circle class="dp" cx="1001.1" cy="190.4" r="4.8"/><circle class="db" cx="1037.4" cy="196.2" r="4.8"/><circle class="db" cx="1047.3" cy="204.0" r="4.8"/><circle class="db" cx="1006.3" cy="189.8" r="4.8"/><circle class="dy" cx="1016.2" cy="197.3" r="4.8"/><circle class="dp" cx="1025.3" cy="217.2" r="4.8"/><circle class="db" cx="1009.0" cy="178.4" r="4.8"/><circle class="dy" cx="1034.2" cy="198.1" r="4.8"/><circle class="dp" cx="1041.3" cy="197.0" r="4.8"/><circle class="db" cx="1004.3" cy="206.5" r="4.8"/><circle class="db" cx="1005.0" cy="182.7" r="4.8"/><circle class="dp" cx="1004.0" cy="198.7" r="4.8"/><circle class="db" cx="1033.2" cy="188.6" r="4.8"/><circle class="dp" cx="1016.1" cy="204.5" r="4.8"/><circle class="dy" cx="1006.6" cy="201.8" r="4.8"/><circle class="dp" cx="1003.0" cy="192.4" r="4.8"/><circle class="dp" cx="1045.6" cy="214.5" r="4.8"/><circle class="dy" cx="1030.0" cy="203.6" r="4.8"/><circle class="dy" cx="1015.0" cy="204.0" r="4.8"/><circle class="dp" cx="1044.0" cy="195.3" r="4.8"/><circle class="dy" cx="1056.1" cy="204.8" r="4.8"/><circle class="db" cx="1049.1" cy="191.2" r="4.8"/><circle class="dp" cx="1023.6" cy="202.4" r="4.8"/><circle class="db" cx="1041.3" cy="214.1" r="4.8"/><circle class="dp" cx="1042.4" cy="201.4" r="4.8"/><circle class="dy" cx="1024.3" cy="193.9" r="4.8"/><circle class="db" cx="1004.2" cy="193.0" r="4.8"/><circle class="db" cx="1015.3" cy="196.1" r="4.8"/><circle class="db" cx="1052.2" cy="210.8" r="4.8"/><circle class="dp" cx="1016.9" cy="194.4" r="4.8"/><circle class="dp" cx="1009.5" cy="202.1" r="4.8"/><circle class="dp" cx="1015.8" cy="227.3" r="4.8"/><circle class="db" cx="1014.7" cy="184.8" r="4.8"/><circle class="dp" cx="1018.6" cy="194.0" r="4.8"/><circle class="dp" cx="1028.5" cy="198.3" r="4.8"/><circle class="dp" cx="1012.1" cy="190.9" r="4.8"/><circle class="dp" cx="1005.4" cy="189.8" r="4.8"/><circle class="dp" cx="1002.5" cy="199.8" r="4.8"/><circle class="dp" cx="1035.1" cy="201.7" r="4.8"/><circle class="db" cx="1045.0" cy="192.3" r="4.8"/><circle class="dp" cx="1023.4" cy="178.8" r="4.8"/><circle class="dp" cx="1059.1" cy="220.8" r="4.8"/><circle class="db" cx="1002.6" cy="205.7" r="4.8"/><circle class="db" cx="1053.5" cy="191.8" r="4.8"/><circle class="dp" cx="1008.4" cy="175.7" r="4.8"/><circle class="db" cx="1030.3" cy="210.4" r="4.8"/><circle class="db" cx="1035.0" cy="179.9" r="4.8"/><circle class="dy" cx="1041.0" cy="198.9" r="4.8"/><circle class="dp" cx="1008.0" cy="181.9" r="4.8"/><circle class="dp" cx="1006.3" cy="198.7" r="4.8"/><circle class="db" cx="1037.6" cy="186.8" r="4.8"/><circle class="db" cx="1029.4" cy="221.4" r="4.8"/><circle class="dp" cx="1095.2" cy="221.6" r="4.8"/><circle class="dy" cx="1106.2" cy="245.8" r="4.8"/><circle class="dy" cx="1065.2" cy="219.9" r="4.8"/><circle class="db" cx="1111.1" cy="232.9" r="4.8"/><circle class="dp" cx="1094.6" cy="242.9" r="4.8"/><circle class="dp" cx="1093.5" cy="210.8" r="4.8"/><circle class="dy" cx="1105.0" cy="202.6" r="4.8"/><circle class="dp" cx="1070.3" cy="211.8" r="4.8"/><circle class="dy" cx="1099.7" cy="245.7" r="4.8"/><circle class="db" cx="1064.2" cy="207.8" r="4.8"/><circle class="dy" cx="1107.3" cy="246.0" r="4.8"/><circle class="dy" cx="1096.2" cy="206.1" r="4.8"/><circle class="dy" cx="1122.6" cy="234.0" r="4.8"/><circle class="dp" cx="1128.5" cy="235.0" r="4.8"/><circle class="db" cx="1117.4" cy="227.7" r="4.8"/><circle class="db" cx="1091.5" cy="218.6" r="4.8"/><circle class="dp" cx="1074.7" cy="223.5" r="4.8"/><circle class="dy" cx="1069.9" cy="178.1" r="4.8"/><circle class="dp" cx="1117.4" cy="223.6" r="4.8"/><circle class="db" cx="1122.1" cy="227.5" r="4.8"/><circle class="dy" cx="1094.0" cy="210.9" r="4.8"/><circle class="dp" cx="1060.3" cy="193.6" r="4.8"/><circle class="dp" cx="1069.8" cy="213.0" r="4.8"/><circle class="db" cx="1082.1" cy="217.0" r="4.8"/><circle class="dy" cx="1118.7" cy="228.5" r="4.8"/><circle class="dy" cx="1124.8" cy="224.4" r="4.8"/><circle class="dp" cx="1086.1" cy="188.5" r="4.8"/><circle class="dp" cx="1129.9" cy="221.9" r="4.8"/><circle class="dy" cx="1079.3" cy="208.5" r="4.8"/><circle class="db" cx="1067.1" cy="217.1" r="4.8"/><circle class="dy" cx="1077.5" cy="205.0" r="4.8"/><circle class="db" cx="1095.8" cy="226.2" r="4.8"/><circle class="db" cx="1121.9" cy="242.9" r="4.8"/><circle class="dp" cx="1104.2" cy="252.6" r="4.8"/><circle class="dy" cx="1110.4" cy="209.1" r="4.8"/><circle class="dp" cx="1111.3" cy="204.3" r="4.8"/><circle class="dy" cx="1080.0" cy="222.9" r="4.8"/><circle class="dp" cx="1124.9" cy="242.4" r="4.8"/><circle class="db" cx="1080.8" cy="227.4" r="4.8"/><circle class="dp" cx="1128.3" cy="231.3" r="4.8"/><circle class="dp" cx="1099.0" cy="242.8" r="4.8"/><circle class="db" cx="1071.7" cy="217.9" r="4.8"/><circle class="dy" cx="1094.8" cy="229.0" r="4.8"/><circle class="dy" cx="1123.4" cy="246.2" r="4.8"/><circle class="dy" cx="1073.5" cy="213.2" r="4.8"/><circle class="dy" cx="1083.9" cy="225.8" r="4.8"/><circle class="db" cx="1099.9" cy="228.3" r="4.8"/><circle class="dp" cx="1112.5" cy="214.7" r="4.8"/><circle class="dp" cx="1086.4" cy="225.5" r="4.8"/><circle class="dy" cx="1064.3" cy="204.0" r="4.8"/><circle class="dp" cx="1095.2" cy="257.2" r="4.8"/><circle class="dy" cx="1120.4" cy="232.2" r="4.8"/><circle class="dp" cx="1088.0" cy="229.4" r="4.8"/><circle class="dy" cx="1126.8" cy="248.6" r="4.8"/><circle class="db" cx="1062.3" cy="186.5" r="4.8"/><circle class="dy" cx="1122.7" cy="212.3" r="4.8"/><circle class="db" cx="1087.4" cy="221.5" r="4.8"/><circle class="dy" cx="1117.8" cy="252.0" r="4.8"/><circle class="dy" cx="1067.6" cy="181.9" r="4.8"/><circle class="db" cx="1096.6" cy="207.7" r="4.8"/><circle class="db" cx="1105.3" cy="194.2" r="4.8"/><circle class="db" cx="1092.0" cy="216.2" r="4.8"/><circle class="db" cx="1076.3" cy="213.2" r="4.8"/><circle class="dy" cx="1105.2" cy="222.1" r="4.8"/><circle class="db" cx="1104.5" cy="231.2" r="4.8"/><circle class="dp" cx="1067.8" cy="227.0" r="4.8"/><circle class="dy" cx="1087.2" cy="225.6" r="4.8"/><circle class="dp" cx="1102.1" cy="235.3" r="4.8"/><circle class="dp" cx="1127.1" cy="232.9" r="4.8"/><circle class="dy" cx="1121.9" cy="220.2" r="4.8"/><circle class="db" cx="1127.2" cy="233.8" r="4.8"/><circle class="db" cx="1081.5" cy="232.6" r="4.8"/><circle class="dy" cx="1089.4" cy="221.3" r="4.8"/><circle class="dy" cx="1106.7" cy="234.0" r="4.8"/><circle class="dp" cx="1083.7" cy="212.5" r="4.8"/><circle class="db" cx="1107.8" cy="233.4" r="4.8"/><circle class="dy" cx="1095.3" cy="244.8" r="4.8"/><circle class="dy" cx="1127.9" cy="222.6" r="4.8"/><circle class="db" cx="1075.5" cy="238.2" r="4.8"/><circle class="dy" cx="1080.6" cy="231.6" r="4.8"/><circle class="dp" cx="1075.6" cy="209.4" r="4.8"/><circle class="dp" cx="1106.6" cy="232.5" r="4.8"/><circle class="db" cx="1074.9" cy="211.5" r="4.8"/><circle class="dp" cx="1069.9" cy="216.9" r="4.8"/><circle class="db" cx="1122.9" cy="232.3" r="4.8"/><circle class="dp" cx="1111.3" cy="259.1" r="4.8"/><circle class="db" cx="1073.0" cy="212.8" r="4.8"/><circle class="dp" cx="1112.2" cy="247.3" r="4.8"/><circle class="dp" cx="1086.2" cy="222.0" r="4.8"/><circle class="dp" cx="1071.8" cy="224.3" r="4.8"/><circle class="dy" cx="1126.9" cy="232.3" r="4.8"/><circle class="db" cx="1127.5" cy="235.8" r="4.8"/><circle class="dp" cx="1117.5" cy="241.5" r="4.8"/><circle class="db" cx="1063.4" cy="196.7" r="4.8"/><circle class="dp" cx="1073.5" cy="215.8" r="4.8"/><circle class="db" cx="1122.8" cy="244.8" r="4.8"/><circle class="dy" cx="1113.7" cy="230.2" r="4.8"/><circle class="dy" cx="1062.4" cy="238.7" r="4.8"/><circle class="db" cx="1112.3" cy="239.1" r="4.8"/><circle class="dp" cx="1083.7" cy="212.1" r="4.8"/><circle class="db" cx="1078.4" cy="250.1" r="4.8"/><circle class="db" cx="1082.2" cy="216.3" r="4.8"/><circle class="dp" cx="1124.2" cy="232.3" r="4.8"/><circle class="dp" cx="1126.0" cy="241.9" r="4.8"/><circle class="db" cx="1127.0" cy="233.7" r="4.8"/><circle class="dp" cx="1087.1" cy="218.1" r="4.8"/><circle class="dy" cx="1125.0" cy="246.2" r="4.8"/><circle class="db" cx="1116.2" cy="226.5" r="4.8"/><circle class="dp" cx="1102.5" cy="197.6" r="4.8"/><circle class="dy" cx="1082.4" cy="200.8" r="4.8"/><circle class="db" cx="1073.8" cy="232.3" r="4.8"/><circle class="dp" cx="1077.3" cy="218.2" r="4.8"/><circle class="db" cx="1082.8" cy="218.2" r="4.8"/><circle class="dy" cx="1121.8" cy="241.3" r="4.8"/><circle class="dp" cx="1066.7" cy="210.3" r="4.8"/><circle class="dp" cx="1109.7" cy="216.4" r="4.8"/><circle class="db" cx="1103.4" cy="227.3" r="4.8"/><circle class="dy" cx="1112.4" cy="238.9" r="4.8"/><circle class="dy" cx="1118.9" cy="212.3" r="4.8"/><circle class="dy" cx="1099.7" cy="206.6" r="4.8"/><circle class="dy" cx="1077.3" cy="231.2" r="4.8"/><circle class="dp" cx="1070.7" cy="226.3" r="4.8"/><circle class="db" cx="1087.7" cy="206.2" r="4.8"/><circle class="db" cx="1095.5" cy="224.1" r="4.8"/><circle class="dy" cx="1129.4" cy="258.2" r="4.8"/><circle class="db" cx="1093.2" cy="231.7" r="4.8"/><circle class="dy" cx="1062.8" cy="185.5" r="4.8"/><circle class="dp" cx="1068.3" cy="225.7" r="4.8"/><circle class="dp" cx="1125.1" cy="266.4" r="4.8"/><circle class="db" cx="1120.6" cy="219.6" r="4.8"/><circle class="dy" cx="1126.2" cy="235.2" r="4.8"/><circle class="dp" cx="1101.7" cy="216.2" r="4.8"/><circle class="dy" cx="1069.9" cy="205.5" r="4.8"/><circle class="dy" cx="1077.8" cy="198.5" r="4.8"/><circle class="dp" cx="1060.8" cy="197.2" r="4.8"/><circle class="dy" cx="1107.5" cy="230.1" r="4.8"/><circle class="dp" cx="1115.7" cy="239.3" r="4.8"/><circle class="dp" cx="1064.4" cy="221.6" r="4.8"/><circle class="dy" cx="1104.7" cy="232.7" r="4.8"/><circle class="dy" cx="1071.5" cy="208.0" r="4.8"/><circle class="db" cx="1081.5" cy="202.8" r="4.8"/><circle class="dp" cx="1081.9" cy="204.4" r="4.8"/><circle class="db" cx="1120.5" cy="224.5" r="4.8"/><circle class="dy" cx="1085.5" cy="225.0" r="4.8"/><circle class="db" cx="1060.4" cy="230.3" r="4.8"/><circle class="db" cx="1089.7" cy="225.2" r="4.8"/><circle class="dy" cx="1092.3" cy="207.1" r="4.8"/><circle class="db" cx="1061.0" cy="190.2" r="4.8"/><circle class="dp" cx="1066.2" cy="204.6" r="4.8"/><circle class="dy" cx="1086.0" cy="210.0" r="4.8"/><circle class="db" cx="1158.7" cy="242.9" r="4.8"/><circle class="db" cx="1136.0" cy="213.6" r="4.8"/><circle class="dy" cx="1140.9" cy="238.2" r="4.8"/><circle class="dy" cx="1181.9" cy="264.8" r="4.8"/><circle class="dy" cx="1180.9" cy="248.8" r="4.8"/><circle class="dy" cx="1179.7" cy="234.2" r="4.8"/><circle class="dy" cx="1173.2" cy="232.8" r="4.8"/><circle class="dy" cx="1152.2" cy="253.7" r="4.8"/><circle class="dy" cx="1142.0" cy="218.8" r="4.8"/><circle class="dy" cx="1158.5" cy="238.5" r="4.8"/><circle class="db" cx="1169.9" cy="251.1" r="4.8"/><circle class="dy" cx="1132.3" cy="215.3" r="4.8"/><circle class="dy" cx="1176.1" cy="241.5" r="4.8"/><circle class="dy" cx="1163.0" cy="228.6" r="4.8"/><circle class="dp" cx="1153.1" cy="236.0" r="4.8"/><circle class="dy" cx="1153.4" cy="234.2" r="4.8"/><circle class="dp" cx="1131.3" cy="222.6" r="4.8"/><circle class="db" cx="1156.9" cy="244.4" r="4.8"/><circle class="dy" cx="1155.2" cy="262.2" r="4.8"/><circle class="dy" cx="1156.0" cy="247.1" r="4.8"/><circle class="dy" cx="1135.0" cy="238.8" r="4.8"/><circle class="dy" cx="1158.1" cy="259.4" r="4.8"/><circle class="db" cx="1170.3" cy="251.5" r="4.8"/><circle class="dy" cx="1158.1" cy="256.3" r="4.8"/><circle class="dy" cx="1182.3" cy="256.1" r="4.8"/><circle class="db" cx="1177.1" cy="269.0" r="4.8"/><circle class="db" cx="1140.7" cy="236.4" r="4.8"/><circle class="dy" cx="1157.1" cy="268.3" r="4.8"/><circle class="db" cx="1173.4" cy="241.0" r="4.8"/><circle class="dy" cx="1133.6" cy="222.5" r="4.8"/><circle class="dy" cx="1179.3" cy="266.5" r="4.8"/><circle class="db" cx="1174.9" cy="257.5" r="4.8"/><circle class="dy" cx="1141.5" cy="248.3" r="4.8"/><circle class="dy" cx="1157.8" cy="241.4" r="4.8"/><circle class="db" cx="1138.9" cy="239.2" r="4.8"/><circle class="db" cx="1167.4" cy="251.9" r="4.8"/><circle class="dp" cx="1136.3" cy="230.9" r="4.8"/><circle class="dp" cx="1165.0" cy="229.8" r="4.8"/><circle class="db" cx="1161.9" cy="263.0" r="4.8"/><circle class="dy" cx="1135.8" cy="252.1" r="4.8"/><circle class="dy" cx="1173.9" cy="247.7" r="4.8"/><circle class="db" cx="1184.5" cy="242.1" r="4.8"/><circle class="dy" cx="1154.3" cy="236.3" r="4.8"/><circle class="dy" cx="1170.9" cy="268.6" r="4.8"/><circle class="db" cx="1165.2" cy="252.0" r="4.8"/><circle class="dy" cx="1162.2" cy="239.0" r="4.8"/><circle class="dy" cx="1131.9" cy="224.9" r="4.8"/><circle class="db" cx="1163.9" cy="231.8" r="4.8"/><circle class="dy" cx="1137.3" cy="241.6" r="4.8"/><circle class="dy" cx="1165.9" cy="246.5" r="4.8"/><circle class="dy" cx="1135.8" cy="235.3" r="4.8"/><circle class="dy" cx="1142.3" cy="223.6" r="4.8"/><circle class="dp" cx="1164.3" cy="237.1" r="4.8"/><circle class="dy" cx="1137.4" cy="244.0" r="4.8"/><circle class="dp" cx="1135.3" cy="231.5" r="4.8"/><circle class="dy" cx="1177.9" cy="252.3" r="4.8"/><circle class="dp" cx="1130.6" cy="221.4" r="4.8"/><circle class="dy" cx="1160.9" cy="233.7" r="4.8"/><circle class="dp" cx="1181.5" cy="265.0" r="4.8"/><circle class="dp" cx="1143.7" cy="240.9" r="4.8"/><circle class="dy" cx="1152.3" cy="238.9" r="4.8"/><circle class="dp" cx="1133.2" cy="234.6" r="4.8"/><circle class="dy" cx="1181.8" cy="249.3" r="4.8"/><circle class="dp" cx="1141.0" cy="225.9" r="4.8"/><circle class="dy" cx="1174.7" cy="239.7" r="4.8"/><circle class="db" cx="1147.0" cy="237.9" r="4.8"/><circle class="dp" cx="1173.1" cy="251.7" r="4.8"/><circle class="dp" cx="1130.3" cy="244.4" r="4.8"/><circle class="dp" cx="1170.8" cy="230.9" r="4.8"/><circle class="dy" cx="1142.4" cy="244.4" r="4.8"/><circle class="dp" cx="1148.5" cy="244.9" r="4.8"/><circle class="dy" cx="1168.2" cy="257.1" r="4.8"/><circle class="dy" cx="1160.5" cy="228.1" r="4.8"/><circle class="dp" cx="1173.4" cy="238.9" r="4.8"/><circle class="dy" cx="1183.1" cy="250.2" r="4.8"/><circle class="dy" cx="1178.4" cy="259.3" r="4.8"/><circle class="db" cx="1170.9" cy="248.3" r="4.8"/><circle class="dy" cx="1171.0" cy="235.9" r="4.8"/><circle class="db" cx="1143.2" cy="259.6" r="4.8"/><circle class="db" cx="1164.7" cy="239.0" r="4.8"/><circle class="db" cx="1155.8" cy="225.5" r="4.8"/><circle class="dp" cx="1168.4" cy="254.5" r="4.8"/><circle class="dy" cx="1161.4" cy="234.0" r="4.8"/><circle class="db" cx="1141.7" cy="233.7" r="4.8"/><circle class="dy" cx="1138.0" cy="232.6" r="4.8"/><circle class="dy" cx="1135.9" cy="245.1" r="4.8"/><circle class="dy" cx="1131.6" cy="228.9" r="4.8"/><circle class="dp" cx="1168.1" cy="234.0" r="4.8"/><circle class="dp" cx="1133.6" cy="220.6" r="4.8"/><circle class="db" cx="1150.0" cy="249.2" r="4.8"/><circle class="db" cx="1133.6" cy="214.2" r="4.8"/><circle class="dy" cx="1180.3" cy="256.0" r="4.8"/><circle class="dy" cx="1136.2" cy="233.3" r="4.8"/><circle class="db" cx="1176.6" cy="255.8" r="4.8"/><circle class="dy" cx="1164.7" cy="229.5" r="4.8"/><circle class="dy" cx="1135.5" cy="251.6" r="4.8"/><circle class="dy" cx="1147.6" cy="250.9" r="4.8"/><circle class="dp" cx="1131.2" cy="233.1" r="4.8"/><circle class="dy" cx="1150.2" cy="250.0" r="4.8"/><circle class="dp" cx="1183.0" cy="228.2" r="4.8"/><circle class="dy" cx="1131.7" cy="233.2" r="4.8"/><circle class="dp" cx="1154.0" cy="243.1" r="4.8"/><circle class="dy" cx="1159.6" cy="232.5" r="4.8"/><circle class="dy" cx="1177.4" cy="268.3" r="4.8"/><circle class="dy" cx="1130.1" cy="245.2" r="4.8"/><circle class="dp" cx="1171.9" cy="248.8" r="4.8"/><circle class="db" cx="1157.0" cy="242.4" r="4.8"/><circle class="db" cx="1140.1" cy="225.6" r="4.8"/><circle class="db" cx="1144.3" cy="238.5" r="4.8"/><circle class="dp" cx="1145.6" cy="242.7" r="4.8"/><circle class="dy" cx="1188.3" cy="267.0" r="4.8"/><circle class="dp" cx="1187.4" cy="256.4" r="4.8"/><circle class="dy" cx="1203.8" cy="245.3" r="4.8"/><circle class="dy" cx="1197.0" cy="241.5" r="4.8"/><circle class="dy" cx="1211.7" cy="273.2" r="4.8"/><circle class="dy" cx="1191.2" cy="252.8" r="4.8"/><circle class="db" cx="1196.4" cy="275.5" r="4.8"/><circle class="dp" cx="1192.0" cy="244.0" r="4.8"/><circle class="dy" cx="1207.6" cy="262.8" r="4.8"/><circle class="dp" cx="1195.5" cy="253.5" r="4.8"/><circle class="dp" cx="1204.9" cy="263.8" r="4.8"/><circle class="dy" cx="1190.1" cy="239.7" r="4.8"/><circle class="dy" cx="1188.8" cy="259.4" r="4.8"/><circle class="dy" cx="1211.6" cy="261.9" r="4.8"/><circle class="dp" cx="1206.1" cy="265.5" r="4.8"/><circle class="dy" cx="1189.6" cy="257.7" r="4.8"/><circle class="dy" cx="1200.7" cy="263.4" r="4.8"/><circle class="dp" cx="1194.8" cy="264.8" r="4.8"/><circle class="db" cx="1188.1" cy="276.0" r="4.8"/><circle class="dp" cx="1188.0" cy="234.0" r="4.8"/><circle class="dy" cx="1207.0" cy="277.1" r="4.8"/><circle class="dy" cx="1190.9" cy="251.5" r="4.8"/><circle class="dp" cx="880.9" cy="135.8" r="4.8"/><circle class="db" cx="866.8" cy="146.3" r="4.8"/><circle class="db" cx="899.0" cy="192.3" r="4.8"/><circle class="dy" cx="943.3" cy="197.9" r="4.8"/><circle class="dp" cx="952.5" cy="202.8" r="4.8"/><circle class="db" cx="1001.0" cy="224.9" r="4.8"/><circle class="db" cx="1054.0" cy="245.0" r="4.8"/><circle class="dy" cx="1198.0" cy="232.0" r="4.8"/><circle class="dy" cx="1197.0" cy="275.0" r="4.8"/><circle class="dy" cx="1178.0" cy="271.0" r="4.8"/>
<line x1="867.8" y1="142" x2="1212.7" y2="261.9" stroke="#000" stroke-width="2.6"/>
<circle class="dy" cx="877.5" cy="430.9" r="4.8"/><circle class="dp" cx="878.0" cy="437.8" r="4.8"/><circle class="dp" cx="888.5" cy="424.3" r="4.8"/><circle class="db" cx="866.4" cy="423.3" r="4.8"/><circle class="dp" cx="900.9" cy="436.1" r="4.8"/><circle class="dp" cx="885.8" cy="436.8" r="4.8"/><circle class="db" cx="892.5" cy="429.5" r="4.8"/><circle class="db" cx="894.8" cy="434.3" r="4.8"/><circle class="dp" cx="888.9" cy="421.1" r="4.8"/><circle class="dp" cx="874.1" cy="430.2" r="4.8"/><circle class="db" cx="895.2" cy="436.9" r="4.8"/><circle class="dp" cx="888.3" cy="437.6" r="4.8"/><circle class="dp" cx="888.0" cy="447.0" r="4.8"/><circle class="db" cx="890.4" cy="443.5" r="4.8"/><circle class="dp" cx="971.1" cy="460.9" r="4.8"/><circle class="db" cx="946.6" cy="459.6" r="4.8"/><circle class="db" cx="918.7" cy="446.8" r="4.8"/><circle class="db" cx="984.9" cy="463.0" r="4.8"/><circle class="db" cx="951.0" cy="457.0" r="4.8"/><circle class="db" cx="948.5" cy="442.4" r="4.8"/><circle class="db" cx="939.9" cy="436.8" r="4.8"/><circle class="db" cx="922.9" cy="443.9" r="4.8"/><circle class="db" cx="915.4" cy="435.3" r="4.8"/><circle class="dp" cx="935.2" cy="461.6" r="4.8"/><circle class="dp" cx="906.1" cy="446.7" r="4.8"/><circle class="dp" cx="940.7" cy="450.8" r="4.8"/><circle class="db" cx="924.1" cy="438.5" r="4.8"/><circle class="db" cx="984.9" cy="460.2" r="4.8"/><circle class="dp" cx="938.3" cy="452.2" r="4.8"/><circle class="db" cx="916.0" cy="450.1" r="4.8"/><circle class="db" cx="944.9" cy="434.1" r="4.8"/><circle class="db" cx="924.2" cy="460.0" r="4.8"/><circle class="db" cx="974.6" cy="462.7" r="4.8"/><circle class="dp" cx="944.8" cy="451.5" r="4.8"/><circle class="dp" cx="975.9" cy="480.1" r="4.8"/><circle class="dp" cx="977.3" cy="464.8" r="4.8"/><circle class="dp" cx="941.2" cy="466.1" r="4.8"/><circle class="dp" cx="905.2" cy="441.3" r="4.8"/><circle class="dp" cx="930.7" cy="441.6" r="4.8"/><circle class="dp" cx="941.4" cy="443.1" r="4.8"/><circle class="db" cx="983.9" cy="454.8" r="4.8"/><circle class="db" cx="909.9" cy="456.8" r="4.8"/><circle class="db" cx="916.9" cy="423.7" r="4.8"/><circle class="db" cx="958.8" cy="462.0" r="4.8"/><circle class="dp" cx="960.8" cy="460.9" r="4.8"/><circle class="db" cx="913.6" cy="451.2" r="4.8"/><circle class="dp" cx="934.4" cy="459.2" r="4.8"/><circle class="db" cx="981.8" cy="469.4" r="4.8"/><circle class="db" cx="956.7" cy="452.5" r="4.8"/><circle class="db" cx="961.8" cy="477.7" r="4.8"/><circle class="db" cx="921.8" cy="435.2" r="4.8"/><circle class="db" cx="950.1" cy="456.7" r="4.8"/><circle class="dp" cx="952.2" cy="445.2" r="4.8"/><circle class="dy" cx="924.9" cy="458.3" r="4.8"/><circle class="dp" cx="944.7" cy="466.4" r="4.8"/><circle class="db" cx="946.8" cy="441.4" r="4.8"/><circle class="db" cx="905.6" cy="443.3" r="4.8"/><circle class="db" cx="944.8" cy="439.3" r="4.8"/><circle class="dp" cx="936.9" cy="446.3" r="4.8"/><circle class="db" cx="986.7" cy="484.3" r="4.8"/><circle class="db" cx="907.4" cy="451.5" r="4.8"/><circle class="db" cx="963.0" cy="471.3" r="4.8"/><circle class="dp" cx="948.4" cy="452.3" r="4.8"/><circle class="db" cx="981.3" cy="486.0" r="4.8"/><circle class="db" cx="933.8" cy="456.2" r="4.8"/><circle class="db" cx="936.1" cy="438.4" r="4.8"/><circle class="dp" cx="922.9" cy="451.0" r="4.8"/><circle class="dp" cx="940.9" cy="433.2" r="4.8"/><circle class="dp" cx="975.4" cy="458.0" r="4.8"/><circle class="db" cx="947.8" cy="454.7" r="4.8"/><circle class="db" cx="960.6" cy="474.9" r="4.8"/><circle class="db" cx="933.1" cy="447.8" r="4.8"/><circle class="db" cx="959.0" cy="469.4" r="4.8"/><circle class="db" cx="908.4" cy="439.8" r="4.8"/><circle class="dp" cx="909.2" cy="419.7" r="4.8"/><circle class="db" cx="905.5" cy="453.1" r="4.8"/><circle class="db" cx="960.9" cy="486.0" r="4.8"/><circle class="db" cx="982.3" cy="455.0" r="4.8"/><circle class="db" cx="964.2" cy="451.1" r="4.8"/><circle class="dp" cx="962.9" cy="465.6" r="4.8"/><circle class="dp" cx="969.8" cy="481.0" r="4.8"/><circle class="db" cx="920.4" cy="468.0" r="4.8"/><circle class="dp" cx="960.7" cy="465.5" r="4.8"/><circle class="dp" cx="974.9" cy="468.8" r="4.8"/><circle class="dp" cx="930.7" cy="436.1" r="4.8"/><circle class="db" cx="932.1" cy="436.0" r="4.8"/><circle class="db" cx="909.6" cy="451.7" r="4.8"/><circle class="db" cx="908.3" cy="460.1" r="4.8"/><circle class="dp" cx="983.1" cy="482.8" r="4.8"/><circle class="db" cx="906.2" cy="431.1" r="4.8"/><circle class="dp" cx="988.4" cy="480.1" r="4.8"/><circle class="dp" cx="940.1" cy="468.0" r="4.8"/><circle class="dy" cx="917.9" cy="457.4" r="4.8"/><circle class="db" cx="905.4" cy="440.6" r="4.8"/><circle class="db" cx="912.5" cy="439.8" r="4.8"/><circle class="dp" cx="916.0" cy="465.5" r="4.8"/><circle class="dp" cx="967.4" cy="465.0" r="4.8"/><circle class="db" cx="909.3" cy="447.2" r="4.8"/><circle class="dp" cx="967.0" cy="444.0" r="4.8"/><circle class="db" cx="958.4" cy="456.7" r="4.8"/><circle class="db" cx="926.6" cy="437.0" r="4.8"/><circle class="db" cx="966.0" cy="464.5" r="4.8"/><circle class="dp" cx="974.5" cy="465.3" r="4.8"/><circle class="db" cx="931.4" cy="450.5" r="4.8"/><circle class="dy" cx="946.3" cy="449.0" r="4.8"/><circle class="db" cx="936.2" cy="441.4" r="4.8"/><circle class="db" cx="917.3" cy="441.0" r="4.8"/><circle class="dp" cx="935.9" cy="442.4" r="4.8"/><circle class="db" cx="937.8" cy="440.1" r="4.8"/><circle class="dp" cx="985.3" cy="472.0" r="4.8"/><circle class="db" cx="910.2" cy="429.4" r="4.8"/><circle class="db" cx="964.8" cy="467.1" r="4.8"/><circle class="db" cx="988.1" cy="460.0" r="4.8"/><circle class="db" cx="956.1" cy="454.7" r="4.8"/><circle class="db" cx="937.0" cy="465.0" r="4.8"/><circle class="dp" cx="956.2" cy="476.6" r="4.8"/><circle class="dp" cx="905.1" cy="429.8" r="4.8"/><circle class="db" cx="940.9" cy="435.5" r="4.8"/><circle class="db" cx="908.6" cy="432.7" r="4.8"/><circle class="dp" cx="974.0" cy="475.5" r="4.8"/><circle class="db" cx="977.4" cy="454.5" r="4.8"/><circle class="dp" cx="963.2" cy="471.0" r="4.8"/><circle class="db" cx="952.1" cy="452.3" r="4.8"/><circle class="dp" cx="922.0" cy="448.4" r="4.8"/><circle class="db" cx="1038.6" cy="455.5" r="4.8"/><circle class="db" cx="1027.2" cy="484.7" r="4.8"/><circle class="dp" cx="1053.3" cy="500.0" r="4.8"/><circle class="dy" cx="997.0" cy="480.1" r="4.8"/><circle class="db" cx="1036.4" cy="464.0" r="4.8"/><circle class="dp" cx="1060.8" cy="478.1" r="4.8"/><circle class="dy" cx="1005.1" cy="472.9" r="4.8"/><circle class="dp" cx="1004.5" cy="471.0" r="4.8"/><circle class="dp" cx="1022.2" cy="468.6" r="4.8"/><circle class="dp" cx="1001.9" cy="516.7" r="4.8"/><circle class="dp" cx="998.5" cy="485.1" r="4.8"/><circle class="dp" cx="1053.0" cy="500.0" r="4.8"/><circle class="dy" cx="1031.6" cy="498.0" r="4.8"/><circle class="dp" cx="992.7" cy="497.0" r="4.8"/><circle class="dp" cx="1035.4" cy="483.1" r="4.8"/><circle class="db" cx="1052.3" cy="461.9" r="4.8"/><circle class="db" cx="1055.5" cy="505.2" r="4.8"/><circle class="dy" cx="1010.3" cy="485.1" r="4.8"/><circle class="dy" cx="996.7" cy="474.3" r="4.8"/><circle class="db" cx="1034.6" cy="494.3" r="4.8"/><circle class="dy" cx="1062.8" cy="482.9" r="4.8"/><circle class="db" cx="1037.8" cy="480.2" r="4.8"/><circle class="dp" cx="1010.6" cy="480.6" r="4.8"/><circle class="dp" cx="1041.3" cy="505.1" r="4.8"/><circle class="dy" cx="1025.9" cy="476.4" r="4.8"/><circle class="dy" cx="1067.3" cy="504.0" r="4.8"/><circle class="dp" cx="1010.5" cy="476.2" r="4.8"/><circle class="dy" cx="1062.2" cy="513.7" r="4.8"/><circle class="db" cx="1052.9" cy="476.3" r="4.8"/><circle class="dy" cx="1041.7" cy="491.0" r="4.8"/><circle class="db" cx="1050.4" cy="489.0" r="4.8"/><circle class="db" cx="1044.2" cy="482.2" r="4.8"/><circle class="dp" cx="998.4" cy="489.4" r="4.8"/><circle class="dy" cx="1010.6" cy="487.3" r="4.8"/><circle class="dy" cx="1009.1" cy="486.7" r="4.8"/><circle class="dy" cx="1044.2" cy="508.0" r="4.8"/><circle class="db" cx="992.9" cy="472.7" r="4.8"/><circle class="db" cx="1007.6" cy="499.6" r="4.8"/><circle class="dp" cx="1001.2" cy="463.2" r="4.8"/><circle class="dp" cx="997.8" cy="495.1" r="4.8"/><circle class="dp" cx="1026.2" cy="470.9" r="4.8"/><circle class="dy" cx="1055.8" cy="473.1" r="4.8"/><circle class="dy" cx="1007.7" cy="478.4" r="4.8"/><circle class="db" cx="1047.1" cy="481.5" r="4.8"/><circle class="dp" cx="1011.3" cy="474.5" r="4.8"/><circle class="dp" cx="1002.5" cy="470.8" r="4.8"/><circle class="dp" cx="1003.4" cy="499.1" r="4.8"/><circle class="db" cx="1015.4" cy="483.5" r="4.8"/><circle class="db" cx="994.5" cy="467.9" r="4.8"/><circle class="dp" cx="1043.5" cy="490.8" r="4.8"/><circle class="dy" cx="1010.6" cy="491.1" r="4.8"/><circle class="db" cx="1019.1" cy="525.4" r="4.8"/><circle class="dp" cx="997.8" cy="470.0" r="4.8"/><circle class="dp" cx="1061.7" cy="512.6" r="4.8"/><circle class="dy" cx="1068.3" cy="502.5" r="4.8"/><circle class="dy" cx="1054.6" cy="486.9" r="4.8"/><circle class="dp" cx="1056.6" cy="497.4" r="4.8"/><circle class="dy" cx="1004.9" cy="448.6" r="4.8"/><circle class="dy" cx="1035.7" cy="496.1" r="4.8"/><circle class="dy" cx="1004.4" cy="477.4" r="4.8"/><circle class="dy" cx="996.3" cy="451.8" r="4.8"/><circle class="dy" cx="1038.7" cy="475.3" r="4.8"/><circle class="db" cx="1039.0" cy="486.1" r="4.8"/><circle class="dy" cx="1054.9" cy="483.3" r="4.8"/><circle class="dp" cx="1048.6" cy="484.5" r="4.8"/><circle class="dp" cx="1047.7" cy="510.9" r="4.8"/><circle class="db" cx="1057.4" cy="499.7" r="4.8"/><circle class="dp" cx="1029.4" cy="511.1" r="4.8"/><circle class="dp" cx="1059.8" cy="495.2" r="4.8"/><circle class="dy" cx="1004.9" cy="481.0" r="4.8"/><circle class="dp" cx="1019.7" cy="468.8" r="4.8"/><circle class="dp" cx="990.4" cy="456.2" r="4.8"/><circle class="db" cx="999.7" cy="471.5" r="4.8"/><circle class="db" cx="1055.3" cy="498.6" r="4.8"/><circle class="db" cx="1020.5" cy="471.3" r="4.8"/><circle class="dp" cx="994.9" cy="494.2" r="4.8"/><circle class="dp" cx="1031.1" cy="460.1" r="4.8"/><circle class="dy" cx="1033.0" cy="517.6" r="4.8"/><circle class="dy" cx="1004.6" cy="479.2" r="4.8"/><circle class="dy" cx="1010.0" cy="477.8" r="4.8"/><circle class="dy" cx="1045.9" cy="485.1" r="4.8"/><circle class="dp" cx="991.4" cy="456.7" r="4.8"/><circle class="dy" cx="1046.2" cy="478.1" r="4.8"/><circle class="dy" cx="1059.6" cy="491.5" r="4.8"/><circle class="dp" cx="1029.5" cy="478.9" r="4.8"/><circle class="dy" cx="1012.4" cy="486.8" r="4.8"/><circle class="db" cx="1037.3" cy="494.5" r="4.8"/><circle class="dy" cx="1001.8" cy="454.6" r="4.8"/><circle class="db" cx="1056.1" cy="481.7" r="4.8"/><circle class="dp" cx="1021.1" cy="458.2" r="4.8"/><circle class="db" cx="1021.7" cy="492.2" r="4.8"/><circle class="dp" cx="1052.2" cy="484.9" r="4.8"/><circle class="db" cx="1024.8" cy="489.4" r="4.8"/><circle class="db" cx="1054.4" cy="511.1" r="4.8"/><circle class="dp" cx="994.3" cy="459.0" r="4.8"/><circle class="dp" cx="1066.6" cy="503.6" r="4.8"/><circle class="dp" cx="1040.6" cy="482.4" r="4.8"/><circle class="dp" cx="1032.5" cy="496.3" r="4.8"/><circle class="dy" cx="991.7" cy="476.5" r="4.8"/><circle class="dp" cx="1067.6" cy="500.0" r="4.8"/><circle class="db" cx="1054.7" cy="460.7" r="4.8"/><circle class="dp" cx="1060.8" cy="510.9" r="4.8"/><circle class="dp" cx="1044.3" cy="491.5" r="4.8"/><circle class="dp" cx="1033.4" cy="500.1" r="4.8"/><circle class="dp" cx="1031.6" cy="475.1" r="4.8"/><circle class="dp" cx="1066.1" cy="491.8" r="4.8"/><circle class="dp" cx="999.6" cy="484.0" r="4.8"/><circle class="dp" cx="1066.5" cy="484.3" r="4.8"/><circle class="dy" cx="1032.7" cy="482.9" r="4.8"/><circle class="dp" cx="999.9" cy="480.6" r="4.8"/><circle class="dy" cx="1013.1" cy="485.5" r="4.8"/><circle class="dp" cx="997.0" cy="448.5" r="4.8"/><circle class="db" cx="1035.6" cy="477.6" r="4.8"/><circle class="dp" cx="1006.1" cy="471.7" r="4.8"/><circle class="dp" cx="1039.0" cy="471.8" r="4.8"/><circle class="dp" cx="1014.8" cy="478.5" r="4.8"/><circle class="dp" cx="1020.7" cy="489.1" r="4.8"/><circle class="dy" cx="991.0" cy="454.9" r="4.8"/><circle class="dp" cx="1034.5" cy="505.0" r="4.8"/><circle class="db" cx="1012.8" cy="488.3" r="4.8"/><circle class="dy" cx="1002.7" cy="473.3" r="4.8"/><circle class="dp" cx="1059.7" cy="488.1" r="4.8"/><circle class="db" cx="1025.2" cy="483.1" r="4.8"/><circle class="db" cx="998.7" cy="478.0" r="4.8"/><circle class="dp" cx="1002.4" cy="506.6" r="4.8"/><circle class="db" cx="1018.2" cy="471.0" r="4.8"/><circle class="dp" cx="1055.7" cy="475.1" r="4.8"/><circle class="dp" cx="1049.1" cy="488.1" r="4.8"/><circle class="db" cx="1052.8" cy="468.3" r="4.8"/><circle class="dy" cx="1063.2" cy="511.8" r="4.8"/><circle class="dp" cx="1051.3" cy="508.6" r="4.8"/><circle class="dp" cx="1029.8" cy="499.3" r="4.8"/><circle class="db" cx="1052.7" cy="486.2" r="4.8"/><circle class="dp" cx="1038.6" cy="475.3" r="4.8"/><circle class="dp" cx="1047.8" cy="498.4" r="4.8"/><circle class="dp" cx="1021.3" cy="468.1" r="4.8"/><circle class="db" cx="1053.0" cy="485.9" r="4.8"/><circle class="dp" cx="1030.0" cy="475.1" r="4.8"/><circle class="dp" cx="1001.6" cy="476.7" r="4.8"/><circle class="dp" cx="1036.5" cy="509.9" r="4.8"/><circle class="db" cx="1137.5" cy="531.4" r="4.8"/><circle class="db" cx="1146.7" cy="523.8" r="4.8"/><circle class="dy" cx="1070.9" cy="508.1" r="4.8"/><circle class="db" cx="1115.2" cy="483.1" r="4.8"/><circle class="db" cx="1113.1" cy="509.9" r="4.8"/><circle class="dy" cx="1111.4" cy="490.8" r="4.8"/><circle class="dp" cx="1098.6" cy="502.9" r="4.8"/><circle class="dp" cx="1098.1" cy="521.7" r="4.8"/><circle class="dy" cx="1077.9" cy="492.4" r="4.8"/><circle class="db" cx="1102.1" cy="491.4" r="4.8"/><circle class="dp" cx="1147.2" cy="514.5" r="4.8"/><circle class="dy" cx="1105.2" cy="478.6" r="4.8"/><circle class="db" cx="1112.4" cy="481.0" r="4.8"/><circle class="db" cx="1083.7" cy="486.3" r="4.8"/><circle class="dy" cx="1111.0" cy="539.0" r="4.8"/><circle class="db" cx="1141.6" cy="510.4" r="4.8"/><circle class="dp" cx="1141.1" cy="497.7" r="4.8"/><circle class="dp" cx="1082.5" cy="496.1" r="4.8"/><circle class="dy" cx="1085.0" cy="514.4" r="4.8"/><circle class="db" cx="1120.4" cy="502.9" r="4.8"/><circle class="dy" cx="1120.9" cy="505.2" r="4.8"/><circle class="dp" cx="1102.9" cy="508.6" r="4.8"/><circle class="dy" cx="1070.3" cy="485.8" r="4.8"/><circle class="dy" cx="1137.4" cy="502.0" r="4.8"/><circle class="dp" cx="1109.8" cy="499.2" r="4.8"/><circle class="db" cx="1091.3" cy="493.6" r="4.8"/><circle class="dp" cx="1116.0" cy="498.6" r="4.8"/><circle class="dy" cx="1079.7" cy="510.0" r="4.8"/><circle class="dy" cx="1078.0" cy="515.1" r="4.8"/><circle class="db" cx="1111.8" cy="516.4" r="4.8"/><circle class="dy" cx="1075.0" cy="482.5" r="4.8"/><circle class="dy" cx="1131.6" cy="507.0" r="4.8"/><circle class="dy" cx="1083.6" cy="517.1" r="4.8"/><circle class="dy" cx="1078.0" cy="511.3" r="4.8"/><circle class="dy" cx="1106.0" cy="498.2" r="4.8"/><circle class="db" cx="1074.4" cy="509.3" r="4.8"/><circle class="dp" cx="1105.2" cy="496.9" r="4.8"/><circle class="db" cx="1089.9" cy="528.7" r="4.8"/><circle class="db" cx="1095.2" cy="511.3" r="4.8"/><circle class="db" cx="1135.3" cy="511.2" r="4.8"/><circle class="db" cx="1109.6" cy="523.7" r="4.8"/><circle class="dy" cx="1089.4" cy="487.2" r="4.8"/><circle class="db" cx="1094.7" cy="515.8" r="4.8"/><circle class="dy" cx="1108.8" cy="510.5" r="4.8"/><circle class="dy" cx="1098.7" cy="496.2" r="4.8"/><circle class="dy" cx="1147.7" cy="516.6" r="4.8"/><circle class="dy" cx="1112.7" cy="524.2" r="4.8"/><circle class="db" cx="1102.3" cy="511.6" r="4.8"/><circle class="dy" cx="1098.1" cy="507.1" r="4.8"/><circle class="dy" cx="1085.3" cy="498.7" r="4.8"/><circle class="dy" cx="1123.1" cy="521.3" r="4.8"/><circle class="dy" cx="1082.5" cy="498.2" r="4.8"/><circle class="dy" cx="1136.8" cy="512.0" r="4.8"/><circle class="dy" cx="1105.5" cy="518.2" r="4.8"/><circle class="db" cx="1098.2" cy="486.1" r="4.8"/><circle class="db" cx="1100.2" cy="513.2" r="4.8"/><circle class="dy" cx="1110.4" cy="506.5" r="4.8"/><circle class="dy" cx="1106.2" cy="520.0" r="4.8"/><circle class="dp" cx="1142.0" cy="532.5" r="4.8"/><circle class="dy" cx="1099.4" cy="505.5" r="4.8"/><circle class="dy" cx="1139.8" cy="534.4" r="4.8"/><circle class="db" cx="1111.0" cy="499.6" r="4.8"/><circle class="dp" cx="1100.8" cy="503.0" r="4.8"/><circle class="dy" cx="1115.4" cy="505.8" r="4.8"/><circle class="db" cx="1084.2" cy="511.3" r="4.8"/><circle class="dp" cx="1095.7" cy="500.9" r="4.8"/><circle class="dp" cx="1098.9" cy="500.0" r="4.8"/><circle class="dy" cx="1093.8" cy="512.8" r="4.8"/><circle class="db" cx="1080.1" cy="503.1" r="4.8"/><circle class="db" cx="1092.6" cy="481.3" r="4.8"/><circle class="db" cx="1140.6" cy="533.2" r="4.8"/><circle class="dp" cx="1080.6" cy="498.6" r="4.8"/><circle class="dy" cx="1123.1" cy="515.6" r="4.8"/><circle class="dy" cx="1103.0" cy="496.2" r="4.8"/><circle class="dy" cx="1137.7" cy="501.7" r="4.8"/><circle class="db" cx="1120.3" cy="514.2" r="4.8"/><circle class="db" cx="1128.7" cy="519.9" r="4.8"/><circle class="dy" cx="1073.2" cy="503.6" r="4.8"/><circle class="dy" cx="1094.2" cy="505.2" r="4.8"/><circle class="dy" cx="1073.1" cy="490.3" r="4.8"/><circle class="dp" cx="1137.2" cy="533.0" r="4.8"/><circle class="dp" cx="1127.3" cy="513.6" r="4.8"/><circle class="dy" cx="1097.9" cy="517.4" r="4.8"/><circle class="dy" cx="1136.7" cy="518.7" r="4.8"/><circle class="dp" cx="1138.3" cy="507.8" r="4.8"/><circle class="db" cx="1073.8" cy="497.1" r="4.8"/><circle class="db" cx="1086.8" cy="506.9" r="4.8"/><circle class="dy" cx="1130.0" cy="530.7" r="4.8"/><circle class="db" cx="1129.8" cy="524.3" r="4.8"/><circle class="dp" cx="1092.5" cy="527.4" r="4.8"/><circle class="dp" cx="1144.4" cy="535.0" r="4.8"/><circle class="dp" cx="1129.1" cy="522.7" r="4.8"/><circle class="dp" cx="1074.3" cy="482.3" r="4.8"/><circle class="dy" cx="1104.3" cy="479.2" r="4.8"/><circle class="dy" cx="1131.0" cy="513.1" r="4.8"/><circle class="dp" cx="1126.2" cy="516.9" r="4.8"/><circle class="dp" cx="1147.6" cy="511.7" r="4.8"/><circle class="dy" cx="1113.5" cy="509.6" r="4.8"/><circle class="dy" cx="1102.9" cy="510.4" r="4.8"/><circle class="dp" cx="1094.8" cy="515.9" r="4.8"/><circle class="dy" cx="1089.0" cy="516.0" r="4.8"/><circle class="dy" cx="1111.2" cy="482.4" r="4.8"/><circle class="db" cx="1093.9" cy="512.9" r="4.8"/><circle class="db" cx="1081.4" cy="489.4" r="4.8"/><circle class="db" cx="1113.9" cy="505.5" r="4.8"/><circle class="dp" cx="1083.5" cy="491.9" r="4.8"/><circle class="db" cx="1131.3" cy="501.2" r="4.8"/><circle class="dy" cx="1079.2" cy="495.8" r="4.8"/><circle class="dy" cx="1074.8" cy="508.2" r="4.8"/><circle class="dy" cx="1085.8" cy="496.8" r="4.8"/><circle class="dp" cx="1096.0" cy="491.5" r="4.8"/><circle class="dy" cx="1099.0" cy="507.3" r="4.8"/><circle class="db" cx="1149.4" cy="525.1" r="4.8"/><circle class="dp" cx="1076.7" cy="490.9" r="4.8"/><circle class="dp" cx="1078.7" cy="465.6" r="4.8"/><circle class="dy" cx="1104.7" cy="512.3" r="4.8"/><circle class="dp" cx="1143.6" cy="533.2" r="4.8"/><circle class="dy" cx="1120.2" cy="527.8" r="4.8"/><circle class="dy" cx="1089.7" cy="495.1" r="4.8"/><circle class="dy" cx="1072.2" cy="499.9" r="4.8"/><circle class="dp" cx="1084.9" cy="477.8" r="4.8"/><circle class="db" cx="1137.7" cy="523.8" r="4.8"/><circle class="db" cx="1136.4" cy="513.7" r="4.8"/><circle class="dy" cx="1096.1" cy="513.0" r="4.8"/><circle class="dp" cx="1099.5" cy="525.7" r="4.8"/><circle class="dy" cx="1099.5" cy="509.5" r="4.8"/><circle class="dp" cx="1115.3" cy="502.4" r="4.8"/><circle class="db" cx="1135.6" cy="509.5" r="4.8"/><circle class="dp" cx="1109.6" cy="483.3" r="4.8"/><circle class="dy" cx="1082.6" cy="494.9" r="4.8"/><circle class="dy" cx="1194.7" cy="548.1" r="4.8"/><circle class="dy" cx="1178.8" cy="534.7" r="4.8"/><circle class="dy" cx="1178.6" cy="529.6" r="4.8"/><circle class="db" cx="1197.0" cy="555.4" r="4.8"/><circle class="dy" cx="1201.1" cy="537.9" r="4.8"/><circle class="dy" cx="1168.4" cy="520.8" r="4.8"/><circle class="dy" cx="1172.0" cy="518.1" r="4.8"/><circle class="dy" cx="1193.3" cy="545.1" r="4.8"/><circle class="dy" cx="1169.2" cy="508.2" r="4.8"/><circle class="dy" cx="1186.6" cy="529.2" r="4.8"/><circle class="dy" cx="1171.0" cy="533.4" r="4.8"/><circle class="db" cx="1213.1" cy="558.3" r="4.8"/><circle class="dp" cx="1212.5" cy="530.4" r="4.8"/><circle class="dp" cx="1202.7" cy="552.1" r="4.8"/><circle class="dp" cx="1169.3" cy="533.0" r="4.8"/><circle class="dy" cx="1211.9" cy="526.7" r="4.8"/><circle class="db" cx="1172.3" cy="530.1" r="4.8"/><circle class="dy" cx="1151.8" cy="527.5" r="4.8"/><circle class="dp" cx="1155.5" cy="537.0" r="4.8"/><circle class="dp" cx="1174.2" cy="519.9" r="4.8"/><circle class="dy" cx="1186.7" cy="528.0" r="4.8"/><circle class="dp" cx="1157.4" cy="532.5" r="4.8"/><circle class="db" cx="1157.3" cy="542.6" r="4.8"/><circle class="dy" cx="1166.5" cy="536.7" r="4.8"/><circle class="dp" cx="1181.8" cy="538.3" r="4.8"/><circle class="dp" cx="1164.7" cy="521.6" r="4.8"/><circle class="dy" cx="1188.2" cy="531.3" r="4.8"/><circle class="db" cx="1176.5" cy="539.4" r="4.8"/><circle class="db" cx="1185.8" cy="537.5" r="4.8"/><circle class="db" cx="1199.2" cy="560.0" r="4.8"/><circle class="db" cx="857.9" cy="422.0" r="4.8"/><circle class="dp" cx="891.0" cy="406.0" r="4.8"/><circle class="dp" cx="897.0" cy="418.0" r="4.8"/><circle class="db" cx="950.0" cy="416.0" r="4.8"/><circle class="dy" cx="896.0" cy="446.0" r="4.8"/><circle class="db" cx="896.0" cy="458.0" r="4.8"/><circle class="dy" cx="1000.0" cy="458.0" r="4.8"/><circle class="db" cx="1124.0" cy="461.0" r="4.8"/><circle class="dp" cx="1119.0" cy="475.0" r="4.8"/><circle class="db" cx="1169.0" cy="517.0" r="4.8"/><circle class="dy" cx="1203.0" cy="545.0" r="4.8"/><circle class="db" cx="1140.0" cy="500.0" r="4.8"/>
<line x1="857.9" y1="427.9" x2="1212.7" y2="541.3" stroke="#000" stroke-width="2.6"/>
<circle class="dy" cx="836.4" cy="906.5" r="4.8"/><circle class="dp" cx="836.7" cy="906.9" r="4.8"/><circle class="dy" cx="837.2" cy="909.9" r="4.8"/><circle class="dy" cx="836.3" cy="906.3" r="4.8"/><circle class="dy" cx="880.1" cy="889.3" r="4.8"/><circle class="dy" cx="880.6" cy="894.1" r="4.8"/><circle class="dy" cx="881.4" cy="904.1" r="4.8"/><circle class="dp" cx="881.4" cy="898.6" r="4.8"/><circle class="dy" cx="880.4" cy="891.9" r="4.8"/><circle class="dy" cx="881.4" cy="902.0" r="4.8"/><circle class="dy" cx="881.2" cy="891.1" r="4.8"/><circle class="dy" cx="879.8" cy="905.1" r="4.8"/><circle class="dy" cx="903.0" cy="893.5" r="4.8"/><circle class="dy" cx="903.8" cy="898.3" r="4.8"/><circle class="dy" cx="902.3" cy="895.2" r="4.8"/><circle class="dp" cx="903.1" cy="889.7" r="4.8"/><circle class="dy" cx="902.1" cy="881.7" r="4.8"/><circle class="dy" cx="903.0" cy="898.2" r="4.8"/><circle class="dy" cx="902.7" cy="886.0" r="4.8"/><circle class="dp" cx="903.0" cy="882.5" r="4.8"/><circle class="dp" cx="903.8" cy="895.5" r="4.8"/><circle class="dy" cx="902.2" cy="879.3" r="4.8"/><circle class="dp" cx="903.5" cy="891.0" r="4.8"/><circle class="dy" cx="903.5" cy="879.9" r="4.8"/><circle class="dy" cx="924.8" cy="890.0" r="4.8"/><circle class="dp" cx="924.6" cy="875.4" r="4.8"/><circle class="dp" cx="924.0" cy="895.4" r="4.8"/><circle class="dy" cx="925.6" cy="880.2" r="4.8"/><circle class="dy" cx="924.1" cy="887.5" r="4.8"/><circle class="dy" cx="925.0" cy="881.1" r="4.8"/><circle class="dy" cx="923.8" cy="881.9" r="4.8"/><circle class="dy" cx="923.8" cy="887.2" r="4.8"/><circle class="db" cx="923.9" cy="883.9" r="4.8"/><circle class="dp" cx="924.3" cy="875.1" r="4.8"/><circle class="dy" cx="924.3" cy="878.7" r="4.8"/><circle class="dy" cx="925.7" cy="886.9" r="4.8"/><circle class="dy" cx="924.9" cy="898.8" r="4.8"/><circle class="dp" cx="925.3" cy="892.6" r="4.8"/><circle class="dp" cx="924.5" cy="888.7" r="4.8"/><circle class="dp" cx="925.5" cy="878.9" r="4.8"/><circle class="dp" cx="946.6" cy="887.7" r="4.8"/><circle class="dp" cx="947.0" cy="884.0" r="4.8"/><circle class="dy" cx="947.1" cy="881.3" r="4.8"/><circle class="dy" cx="946.7" cy="876.5" r="4.8"/><circle class="db" cx="947.0" cy="874.8" r="4.8"/><circle class="dy" cx="946.5" cy="875.7" r="4.8"/><circle class="dy" cx="946.0" cy="875.3" r="4.8"/><circle class="dp" cx="946.9" cy="886.3" r="4.8"/><circle class="dy" cx="946.3" cy="879.9" r="4.8"/><circle class="dy" cx="946.6" cy="869.4" r="4.8"/><circle class="dp" cx="947.9" cy="883.3" r="4.8"/><circle class="dp" cx="947.2" cy="875.1" r="4.8"/><circle class="dy" cx="947.2" cy="869.7" r="4.8"/><circle class="dy" cx="947.5" cy="888.7" r="4.8"/><circle class="dp" cx="946.1" cy="877.0" r="4.8"/><circle class="dp" cx="946.6" cy="878.2" r="4.8"/><circle class="dy" cx="968.2" cy="864.7" r="4.8"/><circle class="dp" cx="968.3" cy="864.9" r="4.8"/><circle class="dy" cx="969.1" cy="867.8" r="4.8"/><circle class="dp" cx="968.3" cy="878.0" r="4.8"/><circle class="db" cx="969.1" cy="875.1" r="4.8"/><circle class="db" cx="969.7" cy="860.7" r="4.8"/><circle class="dy" cx="968.3" cy="866.5" r="4.8"/><circle class="db" cx="969.2" cy="870.8" r="4.8"/><circle class="dy" cx="968.6" cy="879.3" r="4.8"/><circle class="dp" cx="968.7" cy="875.5" r="4.8"/><circle class="dy" cx="968.0" cy="873.9" r="4.8"/><circle class="dy" cx="969.2" cy="868.1" r="4.8"/><circle class="dp" cx="969.1" cy="866.4" r="4.8"/><circle class="dp" cx="967.9" cy="864.7" r="4.8"/><circle class="dp" cx="969.9" cy="879.4" r="4.8"/><circle class="dp" cx="969.3" cy="860.2" r="4.8"/><circle class="dy" cx="990.1" cy="864.2" r="4.8"/><circle class="dp" cx="990.0" cy="859.6" r="4.8"/><circle class="dy" cx="990.9" cy="876.4" r="4.8"/><circle class="dp" cx="991.1" cy="870.7" r="4.8"/><circle class="dy" cx="991.3" cy="871.0" r="4.8"/><circle class="dp" cx="991.3" cy="862.4" r="4.8"/><circle class="dy" cx="991.3" cy="875.4" r="4.8"/><circle class="dp" cx="990.4" cy="880.4" r="4.8"/><circle class="db" cx="990.1" cy="869.1" r="4.8"/><circle class="dp" cx="991.1" cy="856.2" r="4.8"/><circle class="dy" cx="991.8" cy="875.4" r="4.8"/><circle class="dp" cx="990.0" cy="861.7" r="4.8"/><circle class="dy" cx="989.9" cy="856.7" r="4.8"/><circle class="dp" cx="990.2" cy="868.5" r="4.8"/><circle class="dy" cx="990.1" cy="879.5" r="4.8"/><circle class="dp" cx="991.6" cy="860.4" r="4.8"/><circle class="dy" cx="1013.0" cy="857.5" r="4.8"/><circle class="db" cx="1012.4" cy="859.8" r="4.8"/><circle class="dp" cx="1013.0" cy="870.8" r="4.8"/><circle class="dp" cx="1013.2" cy="865.9" r="4.8"/><circle class="db" cx="1011.5" cy="856.0" r="4.8"/><circle class="dp" cx="1013.1" cy="871.1" r="4.8"/><circle class="dp" cx="1012.2" cy="854.7" r="4.8"/><circle class="db" cx="1012.7" cy="878.7" r="4.8"/><circle class="dy" cx="1011.9" cy="859.3" r="4.8"/><circle class="dy" cx="1011.8" cy="865.1" r="4.8"/><circle class="db" cx="1012.0" cy="874.3" r="4.8"/><circle class="dy" cx="1012.5" cy="880.8" r="4.8"/><circle class="db" cx="1013.1" cy="857.4" r="4.8"/><circle class="db" cx="1013.0" cy="860.5" r="4.8"/><circle class="dp" cx="1012.4" cy="860.9" r="4.8"/><circle class="dy" cx="1012.8" cy="877.9" r="4.8"/><circle class="dp" cx="1035.1" cy="862.1" r="4.8"/><circle class="dy" cx="1035.7" cy="869.8" r="4.8"/><circle class="db" cx="1035.6" cy="855.7" r="4.8"/><circle class="db" cx="1035.9" cy="850.9" r="4.8"/><circle class="dy" cx="1034.1" cy="854.0" r="4.8"/><circle class="dy" cx="1035.7" cy="872.3" r="4.8"/><circle class="db" cx="1034.1" cy="850.1" r="4.8"/><circle class="db" cx="1034.1" cy="850.6" r="4.8"/><circle class="db" cx="1035.3" cy="855.2" r="4.8"/><circle class="db" cx="1034.0" cy="869.8" r="4.8"/><circle class="db" cx="1035.3" cy="852.3" r="4.8"/><circle class="db" cx="1034.4" cy="847.0" r="4.8"/><circle class="dy" cx="1033.9" cy="857.6" r="4.8"/><circle class="dy" cx="1035.7" cy="872.8" r="4.8"/><circle class="dp" cx="1056.1" cy="846.0" r="4.8"/><circle class="dy" cx="1057.2" cy="853.7" r="4.8"/><circle class="dp" cx="1056.8" cy="846.7" r="4.8"/><circle class="dp" cx="1056.8" cy="845.8" r="4.8"/><circle class="dp" cx="1056.2" cy="866.0" r="4.8"/><circle class="db" cx="1057.3" cy="867.2" r="4.8"/><circle class="dy" cx="1056.3" cy="849.8" r="4.8"/><circle class="dy" cx="1056.8" cy="844.7" r="4.8"/><circle class="dp" cx="1056.5" cy="853.2" r="4.8"/><circle class="dp" cx="1057.1" cy="843.3" r="4.8"/><circle class="dp" cx="1057.2" cy="856.6" r="4.8"/><circle class="db" cx="1057.2" cy="867.6" r="4.8"/><circle class="dp" cx="1056.6" cy="853.0" r="4.8"/><circle class="dp" cx="1056.6" cy="867.3" r="4.8"/><circle class="dy" cx="1057.8" cy="853.2" r="4.8"/><circle class="dp" cx="1057.7" cy="843.1" r="4.8"/><circle class="dp" cx="1078.5" cy="838.4" r="4.8"/><circle class="dy" cx="1077.9" cy="837.9" r="4.8"/><circle class="db" cx="1079.5" cy="857.8" r="4.8"/><circle class="dp" cx="1078.3" cy="831.6" r="4.8"/><circle class="dp" cx="1078.3" cy="851.3" r="4.8"/><circle class="dy" cx="1079.2" cy="862.1" r="4.8"/><circle class="dp" cx="1078.9" cy="858.2" r="4.8"/><circle class="dy" cx="1079.0" cy="862.8" r="4.8"/><circle class="dp" cx="1079.1" cy="854.5" r="4.8"/><circle class="dp" cx="1078.9" cy="843.0" r="4.8"/><circle class="dp" cx="1079.0" cy="852.3" r="4.8"/><circle class="dy" cx="1078.9" cy="847.9" r="4.8"/><circle class="db" cx="1078.6" cy="838.7" r="4.8"/><circle class="dp" cx="1078.7" cy="853.8" r="4.8"/><circle class="dy" cx="1079.6" cy="837.3" r="4.8"/><circle class="dp" cx="1078.8" cy="847.4" r="4.8"/><circle class="dy" cx="1078.0" cy="856.8" r="4.8"/><circle class="dp" cx="1079.0" cy="857.1" r="4.8"/><circle class="db" cx="1079.4" cy="857.3" r="4.8"/><circle class="dp" cx="1079.4" cy="831.4" r="4.8"/><circle class="dy" cx="1078.0" cy="857.0" r="4.8"/><circle class="dy" cx="1078.4" cy="838.3" r="4.8"/><circle class="dp" cx="1100.5" cy="851.5" r="4.8"/><circle class="dp" cx="1101.6" cy="827.9" r="4.8"/><circle class="dp" cx="1100.6" cy="847.9" r="4.8"/><circle class="dp" cx="1099.9" cy="851.3" r="4.8"/><circle class="dp" cx="1100.6" cy="847.4" r="4.8"/><circle class="dp" cx="1100.3" cy="832.8" r="4.8"/><circle class="dy" cx="1100.0" cy="837.6" r="4.8"/><circle class="dy" cx="1100.0" cy="843.8" r="4.8"/><circle class="dp" cx="1100.2" cy="848.7" r="4.8"/><circle class="db" cx="1099.8" cy="833.0" r="4.8"/><circle class="db" cx="1100.0" cy="846.0" r="4.8"/><circle class="dp" cx="1100.8" cy="839.0" r="4.8"/><circle class="dy" cx="1100.5" cy="837.3" r="4.8"/><circle class="dp" cx="1100.2" cy="837.1" r="4.8"/><circle class="dp" cx="1101.2" cy="838.5" r="4.8"/><circle class="dp" cx="1100.8" cy="836.6" r="4.8"/><circle class="dp" cx="1101.5" cy="855.5" r="4.8"/><circle class="dp" cx="1100.9" cy="848.5" r="4.8"/><circle class="dy" cx="1101.1" cy="835.9" r="4.8"/><circle class="dp" cx="1100.6" cy="837.5" r="4.8"/><circle class="dp" cx="1099.7" cy="854.7" r="4.8"/><circle class="dp" cx="1100.5" cy="844.6" r="4.8"/><circle class="dp" cx="1100.5" cy="852.7" r="4.8"/><circle class="dp" cx="1100.6" cy="854.4" r="4.8"/><circle class="dp" cx="1100.9" cy="841.9" r="4.8"/><circle class="dp" cx="1099.7" cy="849.4" r="4.8"/><circle class="dp" cx="1101.1" cy="847.4" r="4.8"/><circle class="dp" cx="1100.0" cy="850.4" r="4.8"/><circle class="dp" cx="1099.8" cy="827.5" r="4.8"/><circle class="dp" cx="1100.7" cy="827.9" r="4.8"/><circle class="dp" cx="1101.0" cy="826.8" r="4.8"/><circle class="dy" cx="1101.0" cy="840.9" r="4.8"/><circle class="dp" cx="1101.6" cy="838.8" r="4.8"/><circle class="db" cx="1099.9" cy="852.0" r="4.8"/><circle class="dp" cx="1099.6" cy="836.0" r="4.8"/><circle class="dp" cx="1100.1" cy="857.6" r="4.8"/><circle class="dp" cx="1101.3" cy="835.3" r="4.8"/><circle class="dp" cx="1100.4" cy="843.3" r="4.8"/><circle class="dp" cx="1101.3" cy="826.7" r="4.8"/><circle class="db" cx="1100.1" cy="851.5" r="4.8"/><circle class="dp" cx="1122.6" cy="806.9" r="4.8"/><circle class="dp" cx="1122.5" cy="816.2" r="4.8"/><circle class="dp" cx="1123.1" cy="827.5" r="4.8"/><circle class="db" cx="1122.6" cy="806.8" r="4.8"/><circle class="dp" cx="1122.6" cy="798.8" r="4.8"/><circle class="dp" cx="1122.1" cy="818.1" r="4.8"/><circle class="dp" cx="1122.1" cy="810.8" r="4.8"/><circle class="dp" cx="1122.7" cy="834.4" r="4.8"/><circle class="db" cx="1122.4" cy="820.5" r="4.8"/><circle class="dp" cx="1122.4" cy="843.4" r="4.8"/><circle class="dp" cx="1123.2" cy="830.5" r="4.8"/><circle class="dp" cx="1121.9" cy="799.9" r="4.8"/><circle class="dp" cx="1123.1" cy="845.8" r="4.8"/><circle class="dp" cx="1122.8" cy="822.9" r="4.8"/><circle class="dp" cx="1123.2" cy="811.9" r="4.8"/><circle class="db" cx="1121.9" cy="803.9" r="4.8"/><circle class="dp" cx="1123.1" cy="801.4" r="4.8"/><circle class="dp" cx="1122.8" cy="847.3" r="4.8"/><circle class="db" cx="1122.9" cy="809.9" r="4.8"/><circle class="dp" cx="1122.9" cy="804.4" r="4.8"/><circle class="dp" cx="1122.1" cy="798.3" r="4.8"/><circle class="dp" cx="1122.1" cy="808.6" r="4.8"/><circle class="dp" cx="1123.3" cy="826.3" r="4.8"/><circle class="dp" cx="1121.8" cy="813.5" r="4.8"/><circle class="db" cx="1122.3" cy="839.2" r="4.8"/><circle class="dp" cx="1122.8" cy="797.8" r="4.8"/><circle class="dp" cx="1121.7" cy="808.1" r="4.8"/><circle class="dp" cx="1122.4" cy="821.1" r="4.8"/><circle class="dp" cx="1123.2" cy="832.7" r="4.8"/><circle class="db" cx="1123.5" cy="802.6" r="4.8"/><circle class="dp" cx="1122.1" cy="846.7" r="4.8"/><circle class="dp" cx="1122.5" cy="814.8" r="4.8"/><circle class="dp" cx="1122.5" cy="846.2" r="4.8"/><circle class="dp" cx="1122.6" cy="842.7" r="4.8"/><circle class="dp" cx="1122.0" cy="800.8" r="4.8"/><circle class="dp" cx="1122.0" cy="844.2" r="4.8"/><circle class="dy" cx="1122.7" cy="845.9" r="4.8"/><circle class="dp" cx="1123.4" cy="848.2" r="4.8"/><circle class="dp" cx="1122.2" cy="831.5" r="4.8"/><circle class="dp" cx="1123.0" cy="820.3" r="4.8"/><circle class="dp" cx="1122.1" cy="805.7" r="4.8"/><circle class="dp" cx="1121.7" cy="799.7" r="4.8"/><circle class="dp" cx="1122.7" cy="825.8" r="4.8"/><circle class="dy" cx="1122.5" cy="820.9" r="4.8"/><circle class="dp" cx="1121.8" cy="801.3" r="4.8"/><circle class="dp" cx="1122.2" cy="827.2" r="4.8"/><circle class="dp" cx="1121.8" cy="831.8" r="4.8"/><circle class="dp" cx="1123.2" cy="846.8" r="4.8"/><circle class="dp" cx="1121.8" cy="843.2" r="4.8"/><circle class="dp" cx="1121.7" cy="801.1" r="4.8"/><circle class="dp" cx="1121.7" cy="822.8" r="4.8"/><circle class="dp" cx="1122.6" cy="821.3" r="4.8"/><circle class="dp" cx="1121.9" cy="823.4" r="4.8"/><circle class="dp" cx="1121.8" cy="817.8" r="4.8"/><circle class="dp" cx="1122.5" cy="809.0" r="4.8"/><circle class="dy" cx="1123.4" cy="844.1" r="4.8"/><circle class="dp" cx="1122.6" cy="822.4" r="4.8"/><circle class="dp" cx="1123.0" cy="833.2" r="4.8"/><circle class="dp" cx="1121.6" cy="804.3" r="4.8"/><circle class="dp" cx="1122.1" cy="817.2" r="4.8"/><circle class="dp" cx="1122.7" cy="844.1" r="4.8"/><circle class="dp" cx="1123.1" cy="808.6" r="4.8"/><circle class="dp" cx="1122.0" cy="834.4" r="4.8"/><circle class="db" cx="1121.6" cy="828.4" r="4.8"/><circle class="dp" cx="1123.1" cy="829.4" r="4.8"/><circle class="dp" cx="1122.4" cy="814.5" r="4.8"/><circle class="dy" cx="1123.4" cy="845.7" r="4.8"/><circle class="dp" cx="1121.7" cy="818.2" r="4.8"/><circle class="dp" cx="1122.9" cy="809.2" r="4.8"/><circle class="dp" cx="1121.8" cy="804.2" r="4.8"/><circle class="dp" cx="1144.7" cy="794.9" r="4.8"/><circle class="db" cx="1145.6" cy="822.2" r="4.8"/><circle class="db" cx="1145.6" cy="804.8" r="4.8"/><circle class="db" cx="1145.3" cy="819.8" r="4.8"/><circle class="db" cx="1145.7" cy="795.0" r="4.8"/><circle class="dp" cx="1145.4" cy="815.5" r="4.8"/><circle class="dp" cx="1145.9" cy="800.2" r="4.8"/><circle class="db" cx="1144.3" cy="811.5" r="4.8"/><circle class="db" cx="1145.8" cy="817.0" r="4.8"/><circle class="db" cx="1145.6" cy="814.1" r="4.8"/><circle class="dp" cx="1145.7" cy="808.7" r="4.8"/><circle class="db" cx="1144.6" cy="815.5" r="4.8"/><circle class="db" cx="1145.9" cy="821.6" r="4.8"/><circle class="db" cx="1145.6" cy="792.1" r="4.8"/><circle class="db" cx="1144.5" cy="796.8" r="4.8"/><circle class="db" cx="1144.5" cy="794.9" r="4.8"/><circle class="db" cx="1145.4" cy="805.2" r="4.8"/><circle class="dp" cx="1145.6" cy="812.9" r="4.8"/><circle class="db" cx="1145.9" cy="815.8" r="4.8"/><circle class="dp" cx="1144.2" cy="816.9" r="4.8"/><circle class="db" cx="1144.7" cy="810.8" r="4.8"/><circle class="db" cx="1145.6" cy="808.8" r="4.8"/><circle class="dp" cx="1165.6" cy="780.1" r="4.8"/><circle class="db" cx="1166.4" cy="782.8" r="4.8"/><circle class="dp" cx="1166.3" cy="795.1" r="4.8"/><circle class="dp" cx="1167.3" cy="785.3" r="4.8"/><circle class="dp" cx="1165.8" cy="795.5" r="4.8"/><circle class="db" cx="1166.5" cy="786.8" r="4.8"/><circle class="db" cx="1165.8" cy="796.5" r="4.8"/><circle class="dp" cx="1167.2" cy="797.1" r="4.8"/><circle class="dp" cx="1167.5" cy="784.6" r="4.8"/><circle class="dp" cx="1167.4" cy="789.1" r="4.8"/><circle class="db" cx="1166.4" cy="795.3" r="4.8"/><circle class="db" cx="1166.6" cy="792.5" r="4.8"/><circle class="dp" cx="1167.3" cy="804.7" r="4.8"/><circle class="db" cx="1165.6" cy="784.1" r="4.8"/><circle class="db" cx="1166.5" cy="784.4" r="4.8"/><circle class="dp" cx="1166.3" cy="800.2" r="4.8"/><circle class="db" cx="1188.9" cy="778.6" r="4.8"/><circle class="dp" cx="1189.1" cy="785.2" r="4.8"/><circle class="db" cx="1187.4" cy="791.3" r="4.8"/><circle class="dp" cx="1189.1" cy="787.0" r="4.8"/><circle class="db" cx="1188.5" cy="782.8" r="4.8"/><circle class="db" cx="1188.6" cy="783.0" r="4.8"/><circle class="db" cx="1210.4" cy="782.0" r="4.8"/><circle class="db" cx="1211.4" cy="782.7" r="4.8"/><circle class="db" cx="1210.6" cy="779.5" r="4.8"/><circle class="db" cx="1211.2" cy="780.3" r="4.8"/><circle class="dy" cx="924.8" cy="868.0" r="4.8"/>
<line x1="837" y1="915.7" x2="1210.5" y2="797.9" stroke="#000" stroke-width="2.6"/>
<circle class="dp" cx="877.0" cy="1149.0" r="4.8"/><circle class="dy" cx="896.6" cy="1157.2" r="4.8"/><circle class="dy" cx="874.8" cy="1148.7" r="4.8"/><circle class="dy" cx="880.3" cy="1151.7" r="4.8"/><circle class="dy" cx="846.8" cy="1152.8" r="4.8"/><circle class="dy" cx="918.4" cy="1139.1" r="4.8"/><circle class="dy" cx="929.6" cy="1147.4" r="4.8"/><circle class="dy" cx="845.4" cy="1160.3" r="4.8"/><circle class="dy" cx="912.9" cy="1155.0" r="4.8"/><circle class="dy" cx="878.7" cy="1162.3" r="4.8"/><circle class="dy" cx="920.3" cy="1150.5" r="4.8"/><circle class="dp" cx="892.0" cy="1128.8" r="4.8"/><circle class="dp" cx="929.5" cy="1156.0" r="4.8"/><circle class="dy" cx="904.7" cy="1155.4" r="4.8"/><circle class="dy" cx="905.6" cy="1159.2" r="4.8"/><circle class="dy" cx="896.7" cy="1128.8" r="4.8"/><circle class="dy" cx="928.1" cy="1159.5" r="4.8"/><circle class="dy" cx="852.4" cy="1153.9" r="4.8"/><circle class="dy" cx="861.8" cy="1152.6" r="4.8"/><circle class="dy" cx="854.7" cy="1142.4" r="4.8"/><circle class="dy" cx="928.1" cy="1142.3" r="4.8"/><circle class="dy" cx="880.1" cy="1150.7" r="4.8"/><circle class="dy" cx="928.6" cy="1159.2" r="4.8"/><circle class="dy" cx="854.2" cy="1160.8" r="4.8"/><circle class="dy" cx="876.5" cy="1165.7" r="4.8"/><circle class="dy" cx="897.9" cy="1146.6" r="4.8"/><circle class="dy" cx="859.9" cy="1159.9" r="4.8"/><circle class="dy" cx="898.3" cy="1168.7" r="4.8"/><circle class="dp" cx="876.5" cy="1153.9" r="4.8"/><circle class="dy" cx="858.3" cy="1151.5" r="4.8"/><circle class="dy" cx="860.2" cy="1155.8" r="4.8"/><circle class="dy" cx="861.3" cy="1162.2" r="4.8"/><circle class="dy" cx="860.9" cy="1139.5" r="4.8"/><circle class="dy" cx="835.0" cy="1149.7" r="4.8"/><circle class="dy" cx="892.1" cy="1128.5" r="4.8"/><circle class="dy" cx="883.3" cy="1141.2" r="4.8"/><circle class="dy" cx="871.6" cy="1148.5" r="4.8"/><circle class="dy" cx="933.6" cy="1155.6" r="4.8"/><circle class="dy" cx="871.4" cy="1152.4" r="4.8"/><circle class="dy" cx="853.4" cy="1167.9" r="4.8"/><circle class="dy" cx="858.6" cy="1137.4" r="4.8"/><circle class="dy" cx="841.0" cy="1146.7" r="4.8"/><circle class="dy" cx="845.1" cy="1151.3" r="4.8"/><circle class="dy" cx="893.6" cy="1156.3" r="4.8"/><circle class="dy" cx="865.5" cy="1152.9" r="4.8"/><circle class="dy" cx="895.4" cy="1173.3" r="4.8"/><circle class="dy" cx="876.6" cy="1150.5" r="4.8"/><circle class="dy" cx="874.4" cy="1151.5" r="4.8"/><circle class="dy" cx="885.9" cy="1158.2" r="4.8"/><circle class="dy" cx="900.0" cy="1137.6" r="4.8"/><circle class="dy" cx="895.1" cy="1173.8" r="4.8"/><circle class="dy" cx="896.0" cy="1154.7" r="4.8"/><circle class="dy" cx="920.2" cy="1144.4" r="4.8"/><circle class="dy" cx="913.4" cy="1154.2" r="4.8"/><circle class="dy" cx="866.9" cy="1157.4" r="4.8"/><circle class="dy" cx="853.9" cy="1152.5" r="4.8"/><circle class="dy" cx="877.9" cy="1148.2" r="4.8"/><circle class="dy" cx="888.3" cy="1149.5" r="4.8"/><circle class="dy" cx="850.0" cy="1136.0" r="4.8"/><circle class="dy" cx="896.9" cy="1160.8" r="4.8"/><circle class="dy" cx="905.3" cy="1148.6" r="4.8"/><circle class="dy" cx="856.3" cy="1156.5" r="4.8"/><circle class="dy" cx="908.5" cy="1158.7" r="4.8"/><circle class="dy" cx="923.9" cy="1144.6" r="4.8"/><circle class="dy" cx="890.5" cy="1155.1" r="4.8"/><circle class="dy" cx="903.3" cy="1142.3" r="4.8"/><circle class="dy" cx="865.4" cy="1148.7" r="4.8"/><circle class="dy" cx="843.2" cy="1152.5" r="4.8"/><circle class="dy" cx="888.0" cy="1149.0" r="4.8"/><circle class="dy" cx="847.9" cy="1147.6" r="4.8"/><circle class="dy" cx="896.3" cy="1162.2" r="4.8"/><circle class="dy" cx="882.8" cy="1157.1" r="4.8"/><circle class="dy" cx="905.7" cy="1156.4" r="4.8"/><circle class="dy" cx="857.0" cy="1157.4" r="4.8"/><circle class="dy" cx="898.3" cy="1170.2" r="4.8"/><circle class="dy" cx="859.6" cy="1154.7" r="4.8"/><circle class="dy" cx="871.7" cy="1138.8" r="4.8"/><circle class="dy" cx="872.0" cy="1152.0" r="4.8"/><circle class="db" cx="889.4" cy="1144.8" r="4.8"/><circle class="dy" cx="900.3" cy="1135.6" r="4.8"/><circle class="dy" cx="915.6" cy="1153.3" r="4.8"/><circle class="dy" cx="887.1" cy="1141.9" r="4.8"/><circle class="dy" cx="871.0" cy="1162.2" r="4.8"/><circle class="dy" cx="898.6" cy="1147.5" r="4.8"/><circle class="dy" cx="881.9" cy="1134.3" r="4.8"/><circle class="dy" cx="845.8" cy="1146.8" r="4.8"/><circle class="dy" cx="870.4" cy="1161.8" r="4.8"/><circle class="dy" cx="869.8" cy="1146.8" r="4.8"/><circle class="dy" cx="876.7" cy="1136.7" r="4.8"/><circle class="dy" cx="893.3" cy="1148.6" r="4.8"/><circle class="dy" cx="857.0" cy="1151.4" r="4.8"/><circle class="dy" cx="875.5" cy="1137.5" r="4.8"/><circle class="dy" cx="906.8" cy="1153.1" r="4.8"/><circle class="dy" cx="921.6" cy="1145.5" r="4.8"/><circle class="dy" cx="886.5" cy="1148.5" r="4.8"/><circle class="dy" cx="878.5" cy="1160.6" r="4.8"/><circle class="dy" cx="882.5" cy="1157.3" r="4.8"/><circle class="dy" cx="836.9" cy="1151.8" r="4.8"/><circle class="dy" cx="876.7" cy="1173.4" r="4.8"/><circle class="dp" cx="877.0" cy="1160.5" r="4.8"/><circle class="dp" cx="889.8" cy="1155.4" r="4.8"/><circle class="dy" cx="839.4" cy="1151.4" r="4.8"/><circle class="db" cx="899.0" cy="1152.3" r="4.8"/><circle class="dy" cx="871.8" cy="1150.1" r="4.8"/><circle class="dy" cx="867.8" cy="1159.5" r="4.8"/><circle class="dy" cx="910.6" cy="1157.8" r="4.8"/><circle class="dy" cx="884.7" cy="1131.1" r="4.8"/><circle class="dy" cx="867.4" cy="1140.2" r="4.8"/><circle class="dy" cx="860.1" cy="1155.5" r="4.8"/><circle class="dy" cx="888.1" cy="1148.9" r="4.8"/><circle class="dy" cx="909.3" cy="1151.9" r="4.8"/><circle class="dy" cx="878.3" cy="1157.0" r="4.8"/><circle class="dy" cx="857.3" cy="1147.2" r="4.8"/><circle class="dy" cx="929.5" cy="1141.3" r="4.8"/><circle class="dy" cx="877.1" cy="1149.1" r="4.8"/><circle class="dy" cx="898.8" cy="1145.4" r="4.8"/><circle class="dy" cx="839.3" cy="1152.2" r="4.8"/><circle class="dy" cx="881.0" cy="1165.9" r="4.8"/><circle class="dy" cx="910.2" cy="1138.9" r="4.8"/><circle class="dy" cx="880.4" cy="1138.7" r="4.8"/><circle class="db" cx="889.2" cy="1122.9" r="4.8"/><circle class="dy" cx="874.8" cy="1134.1" r="4.8"/><circle class="dy" cx="882.0" cy="1116.0" r="4.8"/><circle class="db" cx="875.0" cy="1130.0" r="4.8"/><circle class="dy" cx="897.6" cy="1108.9" r="4.8"/><circle class="dy" cx="914.5" cy="1121.8" r="4.8"/><circle class="db" cx="920.0" cy="1134.9" r="4.8"/><circle class="db" cx="915.3" cy="1110.5" r="4.8"/><circle class="dy" cx="891.4" cy="1125.0" r="4.8"/><circle class="db" cx="922.5" cy="1127.8" r="4.8"/><circle class="db" cx="930.7" cy="1128.6" r="4.8"/><circle class="dp" cx="903.4" cy="1129.4" r="4.8"/><circle class="db" cx="891.9" cy="1115.8" r="4.8"/><circle class="dp" cx="920.6" cy="1132.2" r="4.8"/><circle class="dp" cx="895.4" cy="1104.6" r="4.8"/><circle class="dy" cx="925.7" cy="1129.7" r="4.8"/><circle class="dy" cx="903.5" cy="1119.4" r="4.8"/><circle class="dy" cx="931.9" cy="1131.8" r="4.8"/><circle class="dp" cx="904.3" cy="1118.5" r="4.8"/><circle class="dy" cx="881.0" cy="1125.2" r="4.8"/><circle class="dy" cx="892.2" cy="1141.6" r="4.8"/><circle class="dp" cx="909.5" cy="1123.3" r="4.8"/><circle class="dy" cx="891.5" cy="1111.2" r="4.8"/><circle class="dy" cx="889.9" cy="1128.8" r="4.8"/><circle class="dy" cx="907.5" cy="1121.1" r="4.8"/><circle class="db" cx="906.8" cy="1121.6" r="4.8"/><circle class="dy" cx="892.4" cy="1127.2" r="4.8"/><circle class="dy" cx="912.0" cy="1110.9" r="4.8"/><circle class="db" cx="919.1" cy="1124.3" r="4.8"/><circle class="dy" cx="897.5" cy="1113.6" r="4.8"/><circle class="db" cx="931.9" cy="1128.7" r="4.8"/><circle class="dy" cx="894.3" cy="1130.3" r="4.8"/><circle class="db" cx="881.0" cy="1132.1" r="4.8"/><circle class="dp" cx="905.7" cy="1133.8" r="4.8"/><circle class="dy" cx="925.9" cy="1121.3" r="4.8"/><circle class="dp" cx="932.7" cy="1113.1" r="4.8"/><circle class="dy" cx="921.6" cy="1125.7" r="4.8"/><circle class="db" cx="911.1" cy="1128.5" r="4.8"/><circle class="dy" cx="897.8" cy="1113.5" r="4.8"/><circle class="dy" cx="925.6" cy="1127.0" r="4.8"/><circle class="dy" cx="892.4" cy="1119.7" r="4.8"/><circle class="dy" cx="903.8" cy="1127.6" r="4.8"/><circle class="dy" cx="891.6" cy="1125.7" r="4.8"/><circle class="dy" cx="892.9" cy="1127.1" r="4.8"/><circle class="db" cx="921.4" cy="1117.2" r="4.8"/><circle class="db" cx="890.1" cy="1140.4" r="4.8"/><circle class="dy" cx="912.8" cy="1125.3" r="4.8"/><circle class="dp" cx="909.1" cy="1134.1" r="4.8"/><circle class="dp" cx="917.6" cy="1129.6" r="4.8"/><circle class="dy" cx="909.7" cy="1128.7" r="4.8"/><circle class="dy" cx="870.0" cy="1127.6" r="4.8"/><circle class="dp" cx="886.6" cy="1080.2" r="4.8"/><circle class="dp" cx="866.9" cy="1127.1" r="4.8"/><circle class="db" cx="912.6" cy="1081.5" r="4.8"/><circle class="dy" cx="920.3" cy="1094.4" r="4.8"/><circle class="dp" cx="926.2" cy="1094.4" r="4.8"/><circle class="dp" cx="920.8" cy="1102.7" r="4.8"/><circle class="dp" cx="867.6" cy="1116.7" r="4.8"/><circle class="dy" cx="911.7" cy="1134.6" r="4.8"/><circle class="db" cx="892.8" cy="1106.6" r="4.8"/><circle class="dy" cx="886.6" cy="1120.6" r="4.8"/><circle class="dy" cx="928.9" cy="1095.4" r="4.8"/><circle class="dp" cx="906.4" cy="1107.9" r="4.8"/><circle class="dp" cx="863.7" cy="1098.6" r="4.8"/><circle class="dp" cx="877.9" cy="1118.6" r="4.8"/><circle class="db" cx="903.1" cy="1103.5" r="4.8"/><circle class="db" cx="926.3" cy="1097.8" r="4.8"/><circle class="dp" cx="920.3" cy="1086.0" r="4.8"/><circle class="dp" cx="877.4" cy="1137.0" r="4.8"/><circle class="dy" cx="923.3" cy="1111.3" r="4.8"/><circle class="dy" cx="891.9" cy="1115.4" r="4.8"/><circle class="db" cx="875.0" cy="1114.9" r="4.8"/><circle class="db" cx="889.3" cy="1093.2" r="4.8"/><circle class="dp" cx="862.9" cy="1133.4" r="4.8"/><circle class="db" cx="896.8" cy="1106.3" r="4.8"/><circle class="dp" cx="895.5" cy="1128.5" r="4.8"/><circle class="dp" cx="918.7" cy="1103.5" r="4.8"/><circle class="db" cx="930.0" cy="1094.5" r="4.8"/><circle class="dp" cx="883.9" cy="1115.4" r="4.8"/><circle class="dp" cx="885.3" cy="1110.9" r="4.8"/><circle class="db" cx="873.0" cy="1113.6" r="4.8"/><circle class="dp" cx="862.0" cy="1114.7" r="4.8"/><circle class="db" cx="900.2" cy="1102.1" r="4.8"/><circle class="db" cx="871.4" cy="1117.9" r="4.8"/><circle class="dy" cx="872.1" cy="1124.2" r="4.8"/><circle class="dy" cx="897.5" cy="1084.9" r="4.8"/><circle class="dp" cx="877.9" cy="1099.8" r="4.8"/><circle class="db" cx="901.8" cy="1095.2" r="4.8"/><circle class="db" cx="907.0" cy="1110.7" r="4.8"/><circle class="dp" cx="927.1" cy="1099.8" r="4.8"/><circle class="db" cx="865.5" cy="1156.2" r="4.8"/><circle class="dp" cx="869.1" cy="1130.9" r="4.8"/><circle class="db" cx="927.7" cy="1104.3" r="4.8"/><circle class="db" cx="890.6" cy="1084.9" r="4.8"/><circle class="dp" cx="906.4" cy="1102.3" r="4.8"/><circle class="dp" cx="869.9" cy="1119.2" r="4.8"/><circle class="db" cx="916.5" cy="1123.2" r="4.8"/><circle class="db" cx="927.4" cy="1104.9" r="4.8"/><circle class="dp" cx="900.8" cy="1113.3" r="4.8"/><circle class="dp" cx="909.1" cy="1105.9" r="4.8"/><circle class="db" cx="897.6" cy="1119.0" r="4.8"/><circle class="dp" cx="867.0" cy="1119.2" r="4.8"/><circle class="db" cx="907.7" cy="1088.5" r="4.8"/><circle class="db" cx="862.7" cy="1101.1" r="4.8"/><circle class="dp" cx="906.0" cy="1110.1" r="4.8"/><circle class="dp" cx="927.2" cy="1105.2" r="4.8"/><circle class="dp" cx="927.1" cy="1094.6" r="4.8"/><circle class="dp" cx="889.8" cy="1139.7" r="4.8"/><circle class="dp" cx="912.0" cy="1098.9" r="4.8"/><circle class="dp" cx="907.1" cy="1107.5" r="4.8"/><circle class="dp" cx="876.6" cy="1107.2" r="4.8"/><circle class="dp" cx="864.4" cy="1132.0" r="4.8"/><circle class="dp" cx="867.3" cy="1131.4" r="4.8"/><circle class="db" cx="926.1" cy="1093.2" r="4.8"/><circle class="dp" cx="891.7" cy="1104.8" r="4.8"/><circle class="dp" cx="894.8" cy="1130.1" r="4.8"/><circle class="db" cx="887.1" cy="1114.2" r="4.8"/><circle class="db" cx="914.1" cy="1114.3" r="4.8"/><circle class="db" cx="909.9" cy="1090.1" r="4.8"/><circle class="dp" cx="875.3" cy="1116.1" r="4.8"/><circle class="db" cx="917.9" cy="1093.9" r="4.8"/><circle class="dp" cx="919.8" cy="1116.1" r="4.8"/><circle class="dp" cx="863.0" cy="1109.0" r="4.8"/><circle class="dy" cx="911.3" cy="1105.0" r="4.8"/><circle class="db" cx="873.8" cy="1121.2" r="4.8"/><circle class="db" cx="862.3" cy="1125.0" r="4.8"/><circle class="dy" cx="929.1" cy="1112.5" r="4.8"/><circle class="dy" cx="869.8" cy="1153.7" r="4.8"/><circle class="dp" cx="884.8" cy="1097.8" r="4.8"/><circle class="dp" cx="883.8" cy="1099.0" r="4.8"/><circle class="dp" cx="934.4" cy="1109.1" r="4.8"/><circle class="db" cx="943.0" cy="1114.8" r="4.8"/><circle class="db" cx="951.0" cy="1108.7" r="4.8"/><circle class="dp" cx="988.3" cy="1087.7" r="4.8"/><circle class="dp" cx="1004.3" cy="1101.9" r="4.8"/><circle class="dp" cx="934.1" cy="1112.8" r="4.8"/><circle class="dp" cx="987.4" cy="1107.9" r="4.8"/><circle class="db" cx="993.8" cy="1095.1" r="4.8"/><circle class="db" cx="945.3" cy="1096.0" r="4.8"/><circle class="dp" cx="994.3" cy="1095.4" r="4.8"/><circle class="dp" cx="983.1" cy="1087.8" r="4.8"/><circle class="dp" cx="941.1" cy="1106.9" r="4.8"/><circle class="dp" cx="980.7" cy="1108.8" r="4.8"/><circle class="db" cx="950.7" cy="1087.8" r="4.8"/><circle class="db" cx="932.5" cy="1109.4" r="4.8"/><circle class="db" cx="947.7" cy="1096.4" r="4.8"/><circle class="db" cx="979.2" cy="1110.6" r="4.8"/><circle class="dp" cx="946.4" cy="1094.4" r="4.8"/><circle class="dp" cx="942.6" cy="1117.1" r="4.8"/><circle class="db" cx="991.7" cy="1101.6" r="4.8"/><circle class="dp" cx="993.5" cy="1078.9" r="4.8"/><circle class="db" cx="955.2" cy="1098.8" r="4.8"/><circle class="dp" cx="937.1" cy="1098.0" r="4.8"/><circle class="db" cx="971.1" cy="1111.7" r="4.8"/><circle class="dp" cx="966.9" cy="1118.4" r="4.8"/><circle class="dp" cx="939.6" cy="1087.4" r="4.8"/><circle class="dp" cx="987.3" cy="1094.0" r="4.8"/><circle class="dp" cx="992.0" cy="1097.0" r="4.8"/><circle class="dp" cx="968.7" cy="1100.0" r="4.8"/><circle class="dp" cx="983.5" cy="1096.8" r="4.8"/><circle class="db" cx="987.0" cy="1103.7" r="4.8"/><circle class="db" cx="959.7" cy="1074.8" r="4.8"/><circle class="dp" cx="979.5" cy="1103.8" r="4.8"/><circle class="dp" cx="966.5" cy="1092.0" r="4.8"/><circle class="db" cx="1008.5" cy="1085.1" r="4.8"/><circle class="dp" cx="940.3" cy="1085.6" r="4.8"/><circle class="db" cx="935.5" cy="1105.7" r="4.8"/><circle class="dp" cx="991.7" cy="1089.8" r="4.8"/><circle class="db" cx="937.5" cy="1103.8" r="4.8"/><circle class="dp" cx="934.1" cy="1097.5" r="4.8"/><circle class="dp" cx="938.5" cy="1121.3" r="4.8"/><circle class="dp" cx="943.1" cy="1079.7" r="4.8"/><circle class="db" cx="943.9" cy="1096.7" r="4.8"/><circle class="dp" cx="964.1" cy="1095.2" r="4.8"/><circle class="dp" cx="1007.7" cy="1095.9" r="4.8"/><circle class="db" cx="950.8" cy="1098.8" r="4.8"/><circle class="db" cx="967.8" cy="1074.5" r="4.8"/><circle class="db" cx="978.3" cy="1093.1" r="4.8"/><circle class="dp" cx="988.7" cy="1105.8" r="4.8"/><circle class="db" cx="945.5" cy="1106.1" r="4.8"/><circle class="dp" cx="957.1" cy="1097.8" r="4.8"/><circle class="dp" cx="950.4" cy="1066.3" r="4.8"/><circle class="dp" cx="998.4" cy="1098.9" r="4.8"/><circle class="dp" cx="943.8" cy="1100.7" r="4.8"/><circle class="db" cx="963.5" cy="1088.2" r="4.8"/><circle class="db" cx="999.0" cy="1091.4" r="4.8"/><circle class="db" cx="978.5" cy="1095.2" r="4.8"/><circle class="db" cx="1006.2" cy="1082.4" r="4.8"/><circle class="dp" cx="951.3" cy="1119.5" r="4.8"/><circle class="dp" cx="960.0" cy="1092.3" r="4.8"/><circle class="db" cx="948.2" cy="1109.4" r="4.8"/><circle class="db" cx="962.8" cy="1083.2" r="4.8"/><circle class="db" cx="949.5" cy="1082.5" r="4.8"/><circle class="db" cx="994.3" cy="1110.3" r="4.8"/><circle class="dp" cx="995.0" cy="1092.4" r="4.8"/><circle class="dp" cx="982.5" cy="1080.4" r="4.8"/><circle class="dp" cx="973.1" cy="1110.9" r="4.8"/><circle class="db" cx="995.6" cy="1082.0" r="4.8"/><circle class="dp" cx="1000.3" cy="1109.0" r="4.8"/><circle class="db" cx="1005.1" cy="1091.3" r="4.8"/><circle class="db" cx="933.8" cy="1084.4" r="4.8"/><circle class="db" cx="973.8" cy="1087.2" r="4.8"/><circle class="db" cx="992.6" cy="1096.4" r="4.8"/><circle class="dp" cx="947.1" cy="1096.0" r="4.8"/><circle class="dy" cx="956.2" cy="1106.5" r="4.8"/><circle class="dp" cx="993.7" cy="1094.2" r="4.8"/><circle class="dp" cx="989.3" cy="1098.3" r="4.8"/><circle class="db" cx="967.0" cy="1081.6" r="4.8"/><circle class="db" cx="954.8" cy="1111.2" r="4.8"/><circle class="db" cx="1001.6" cy="1070.7" r="4.8"/><circle class="db" cx="954.9" cy="1104.0" r="4.8"/><circle class="db" cx="975.9" cy="1107.6" r="4.8"/><circle class="dp" cx="971.5" cy="1105.9" r="4.8"/><circle class="dp" cx="963.3" cy="1110.2" r="4.8"/><circle class="dp" cx="959.0" cy="1087.7" r="4.8"/><circle class="db" cx="1006.7" cy="1089.8" r="4.8"/><circle class="db" cx="932.8" cy="1096.7" r="4.8"/><circle class="dp" cx="964.6" cy="1095.7" r="4.8"/><circle class="db" cx="971.9" cy="1085.7" r="4.8"/><circle class="db" cx="993.1" cy="1089.1" r="4.8"/><circle class="dp" cx="994.1" cy="1099.3" r="4.8"/><circle class="dp" cx="1000.6" cy="1103.5" r="4.8"/><circle class="db" cx="986.8" cy="1094.1" r="4.8"/><circle class="db" cx="946.1" cy="1097.5" r="4.8"/><circle class="dp" cx="944.9" cy="1110.7" r="4.8"/><circle class="db" cx="970.0" cy="1094.3" r="4.8"/><circle class="dp" cx="1010.0" cy="1086.2" r="4.8"/><circle class="dp" cx="993.6" cy="1102.9" r="4.8"/><circle class="db" cx="990.8" cy="1115.1" r="4.8"/><circle class="dy" cx="958.9" cy="1105.7" r="4.8"/><circle class="db" cx="970.2" cy="1093.8" r="4.8"/><circle class="db" cx="1002.0" cy="1104.1" r="4.8"/><circle class="dp" cx="974.8" cy="1092.9" r="4.8"/><circle class="db" cx="980.5" cy="1099.3" r="4.8"/><circle class="dp" cx="950.7" cy="1089.0" r="4.8"/><circle class="dp" cx="963.6" cy="1085.9" r="4.8"/><circle class="dp" cx="930.5" cy="1101.7" r="4.8"/><circle class="dp" cx="987.4" cy="1094.5" r="4.8"/><circle class="dp" cx="971.3" cy="1089.0" r="4.8"/><circle class="db" cx="978.2" cy="1101.9" r="4.8"/><circle class="db" cx="987.7" cy="1090.5" r="4.8"/><circle class="db" cx="987.0" cy="1092.6" r="4.8"/><circle class="dp" cx="1004.0" cy="1084.1" r="4.8"/><circle class="dp" cx="1005.5" cy="1087.7" r="4.8"/><circle class="db" cx="993.7" cy="1095.1" r="4.8"/><circle class="db" cx="941.4" cy="1085.3" r="4.8"/><circle class="db" cx="956.9" cy="1103.2" r="4.8"/><circle class="dp" cx="949.6" cy="1102.4" r="4.8"/><circle class="dp" cx="979.5" cy="1101.8" r="4.8"/><circle class="dp" cx="943.0" cy="1102.2" r="4.8"/><circle class="db" cx="1038.4" cy="1091.1" r="4.8"/><circle class="db" cx="1026.5" cy="1078.1" r="4.8"/><circle class="db" cx="1053.8" cy="1086.8" r="4.8"/><circle class="dp" cx="1052.4" cy="1089.6" r="4.8"/><circle class="dp" cx="1025.2" cy="1101.2" r="4.8"/><circle class="dp" cx="1073.1" cy="1092.2" r="4.8"/><circle class="dp" cx="1048.3" cy="1084.1" r="4.8"/><circle class="db" cx="1072.2" cy="1079.6" r="4.8"/><circle class="dy" cx="1061.5" cy="1088.0" r="4.8"/><circle class="db" cx="1086.5" cy="1081.0" r="4.8"/><circle class="dp" cx="1092.8" cy="1074.0" r="4.8"/><circle class="db" cx="1048.9" cy="1082.5" r="4.8"/><circle class="db" cx="1076.2" cy="1093.7" r="4.8"/><circle class="db" cx="1023.1" cy="1076.2" r="4.8"/><circle class="db" cx="1063.1" cy="1097.8" r="4.8"/><circle class="dp" cx="1040.6" cy="1098.2" r="4.8"/><circle class="dp" cx="1026.4" cy="1084.3" r="4.8"/><circle class="dp" cx="1090.8" cy="1082.2" r="4.8"/><circle class="db" cx="1053.2" cy="1083.5" r="4.8"/><circle class="db" cx="1042.7" cy="1093.6" r="4.8"/><circle class="db" cx="1093.6" cy="1076.8" r="4.8"/><circle class="db" cx="1052.9" cy="1081.0" r="4.8"/><circle class="dp" cx="1080.7" cy="1090.0" r="4.8"/><circle class="db" cx="1043.3" cy="1079.7" r="4.8"/><circle class="dp" cx="1058.5" cy="1090.7" r="4.8"/><circle class="db" cx="1039.9" cy="1089.4" r="4.8"/><circle class="dp" cx="1012.0" cy="1085.4" r="4.8"/><circle class="dp" cx="1015.4" cy="1092.2" r="4.8"/><circle class="dp" cx="1015.2" cy="1085.0" r="4.8"/><circle class="db" cx="1076.0" cy="1079.6" r="4.8"/><circle class="db" cx="1059.6" cy="1065.1" r="4.8"/><circle class="dp" cx="1018.1" cy="1099.3" r="4.8"/><circle class="db" cx="1077.3" cy="1078.8" r="4.8"/><circle class="db" cx="1044.7" cy="1102.5" r="4.8"/><circle class="db" cx="1063.7" cy="1094.6" r="4.8"/><circle class="dp" cx="1013.4" cy="1095.4" r="4.8"/><circle class="db" cx="1073.7" cy="1085.0" r="4.8"/><circle class="db" cx="1020.1" cy="1092.8" r="4.8"/><circle class="db" cx="1070.5" cy="1088.5" r="4.8"/><circle class="dp" cx="1042.5" cy="1096.7" r="4.8"/><circle class="dp" cx="1032.8" cy="1086.3" r="4.8"/><circle class="dp" cx="1097.7" cy="1093.1" r="4.8"/><circle class="dp" cx="1026.2" cy="1088.1" r="4.8"/><circle class="db" cx="1041.6" cy="1086.5" r="4.8"/><circle class="dp" cx="1071.3" cy="1080.6" r="4.8"/><circle class="dp" cx="1049.6" cy="1089.1" r="4.8"/><circle class="db" cx="1089.3" cy="1071.4" r="4.8"/><circle class="db" cx="1040.3" cy="1068.8" r="4.8"/><circle class="db" cx="1092.3" cy="1093.2" r="4.8"/><circle class="db" cx="1022.8" cy="1093.5" r="4.8"/><circle class="db" cx="1010.4" cy="1099.9" r="4.8"/><circle class="db" cx="1080.7" cy="1081.8" r="4.8"/><circle class="db" cx="1047.3" cy="1086.1" r="4.8"/><circle class="db" cx="1061.3" cy="1083.4" r="4.8"/><circle class="db" cx="1096.0" cy="1073.0" r="4.8"/><circle class="dp" cx="1065.4" cy="1080.7" r="4.8"/><circle class="db" cx="1091.3" cy="1088.7" r="4.8"/><circle class="db" cx="1080.9" cy="1093.9" r="4.8"/><circle class="db" cx="1038.6" cy="1060.7" r="4.8"/><circle class="db" cx="1033.6" cy="1083.3" r="4.8"/><circle class="dp" cx="1054.0" cy="1082.0" r="4.8"/><circle class="db" cx="1093.1" cy="1097.4" r="4.8"/><circle class="db" cx="1023.4" cy="1100.4" r="4.8"/><circle class="dp" cx="1061.6" cy="1094.8" r="4.8"/><circle class="dp" cx="1094.0" cy="1075.4" r="4.8"/><circle class="dp" cx="1079.9" cy="1088.2" r="4.8"/><circle class="dp" cx="1088.4" cy="1085.8" r="4.8"/><circle class="db" cx="1075.4" cy="1082.6" r="4.8"/><circle class="db" cx="1018.8" cy="1105.8" r="4.8"/><circle class="dp" cx="1075.0" cy="1086.1" r="4.8"/><circle class="db" cx="1043.3" cy="1100.1" r="4.8"/><circle class="db" cx="1094.9" cy="1089.5" r="4.8"/><circle class="db" cx="1082.8" cy="1082.3" r="4.8"/><circle class="db" cx="1051.1" cy="1092.0" r="4.8"/><circle class="dp" cx="1052.5" cy="1078.5" r="4.8"/><circle class="dp" cx="1077.4" cy="1091.0" r="4.8"/><circle class="db" cx="1098.9" cy="1090.0" r="4.8"/><circle class="dp" cx="1076.6" cy="1091.5" r="4.8"/><circle class="db" cx="1032.4" cy="1097.9" r="4.8"/><circle class="db" cx="1013.0" cy="1086.4" r="4.8"/><circle class="dp" cx="1090.4" cy="1082.1" r="4.8"/><circle class="db" cx="1051.8" cy="1071.1" r="4.8"/><circle class="db" cx="1040.9" cy="1089.8" r="4.8"/><circle class="dp" cx="1026.7" cy="1100.3" r="4.8"/><circle class="db" cx="1026.7" cy="1102.1" r="4.8"/><circle class="db" cx="1040.3" cy="1098.3" r="4.8"/><circle class="dp" cx="1080.7" cy="1099.4" r="4.8"/><circle class="db" cx="1092.1" cy="1084.6" r="4.8"/><circle class="db" cx="1097.4" cy="1097.7" r="4.8"/><circle class="dp" cx="1066.8" cy="1066.8" r="4.8"/><circle class="db" cx="1110.3" cy="1076.6" r="4.8"/><circle class="dp" cx="1184.6" cy="1067.9" r="4.8"/><circle class="db" cx="1148.6" cy="1065.6" r="4.8"/><circle class="db" cx="1201.0" cy="1074.3" r="4.8"/><circle class="dp" cx="1158.2" cy="1072.9" r="4.8"/><circle class="db" cx="1117.6" cy="1084.2" r="4.8"/><circle class="dp" cx="1128.1" cy="1083.8" r="4.8"/><circle class="dp" cx="1158.2" cy="1075.3" r="4.8"/><circle class="dp" cx="1193.0" cy="1063.6" r="4.8"/><circle class="db" cx="1200.8" cy="1074.5" r="4.8"/><circle class="dp" cx="1201.5" cy="1070.8" r="4.8"/><circle class="dp" cx="1157.5" cy="1074.1" r="4.8"/><circle class="dp" cx="1113.0" cy="1080.9" r="4.8"/><circle class="db" cx="1166.1" cy="1059.6" r="4.8"/><circle class="db" cx="1138.0" cy="1070.3" r="4.8"/><circle class="db" cx="1166.6" cy="1061.6" r="4.8"/><circle class="db" cx="1137.8" cy="1073.1" r="4.8"/><circle class="db" cx="1131.5" cy="1082.5" r="4.8"/><circle class="dp" cx="1106.8" cy="1078.8" r="4.8"/><circle class="dp" cx="1158.1" cy="1076.8" r="4.8"/><circle class="db" cx="1187.9" cy="1078.7" r="4.8"/><circle class="db" cx="1171.8" cy="1090.6" r="4.8"/><circle class="dp" cx="1174.9" cy="1064.4" r="4.8"/><circle class="dp" cx="1105.2" cy="1062.3" r="4.8"/><circle class="dp" cx="1159.7" cy="1082.1" r="4.8"/><circle class="db" cx="1143.7" cy="1083.5" r="4.8"/><circle class="dp" cx="1101.4" cy="1074.6" r="4.8"/><circle class="db" cx="1118.8" cy="1080.3" r="4.8"/><circle class="db" cx="1128.1" cy="1074.9" r="4.8"/><circle class="dp" cx="1154.1" cy="1067.4" r="4.8"/><circle class="dp" cx="1173.2" cy="1087.6" r="4.8"/><circle class="db" cx="1187.2" cy="1074.7" r="4.8"/><circle class="dp" cx="1128.4" cy="1077.3" r="4.8"/><circle class="db" cx="1138.2" cy="1067.7" r="4.8"/><circle class="db" cx="1204.3" cy="1058.4" r="4.8"/><circle class="db" cx="1168.6" cy="1078.9" r="4.8"/><circle class="db" cx="1137.7" cy="1086.2" r="4.8"/><circle class="dp" cx="1126.8" cy="1080.5" r="4.8"/><circle class="db" cx="1161.8" cy="1077.2" r="4.8"/><circle class="db" cx="1116.8" cy="1069.4" r="4.8"/><circle class="db" cx="1143.3" cy="1076.0" r="4.8"/><circle class="dp" cx="1101.6" cy="1088.0" r="4.8"/><circle class="dp" cx="1179.5" cy="1074.7" r="4.8"/><circle class="db" cx="1186.5" cy="1072.0" r="4.8"/><circle class="dp" cx="1140.7" cy="1079.4" r="4.8"/><circle class="db" cx="1180.3" cy="1073.9" r="4.8"/><circle class="db" cx="1147.5" cy="1085.6" r="4.8"/><circle class="dp" cx="1197.0" cy="1068.4" r="4.8"/><circle class="dp" cx="1108.6" cy="1076.9" r="4.8"/><circle class="dp" cx="1109.3" cy="1075.0" r="4.8"/><circle class="db" cx="1153.8" cy="1069.5" r="4.8"/><circle class="dp" cx="1125.7" cy="1081.4" r="4.8"/><circle class="db" cx="1195.5" cy="1075.7" r="4.8"/><circle class="dp" cx="1145.0" cy="1077.0" r="4.8"/><circle class="db" cx="1189.0" cy="1073.3" r="4.8"/><circle class="db" cx="1116.4" cy="1077.1" r="4.8"/><circle class="dp" cx="1135.2" cy="1075.3" r="4.8"/><circle class="dp" cx="1178.0" cy="1071.1" r="4.8"/><circle class="dp" cx="1170.3" cy="1066.1" r="4.8"/><circle class="dp" cx="1169.4" cy="1084.9" r="4.8"/><circle class="dy" cx="836.0" cy="1160.0" r="4.8"/><circle class="dy" cx="1015.0" cy="1109.0" r="4.8"/><circle class="dy" cx="1024.0" cy="1130.0" r="4.8"/><circle class="dy" cx="953.0" cy="1154.0" r="4.8"/><circle class="dp" cx="1066.0" cy="1098.0" r="4.8"/><circle class="dp" cx="1140.0" cy="1099.0" r="4.8"/><circle class="dp" cx="1139.0" cy="1093.0" r="4.8"/><circle class="db" cx="1195.0" cy="1082.0" r="4.8"/><circle class="db" cx="1187.0" cy="1064.0" r="4.8"/><circle class="db" cx="1100.0" cy="1062.0" r="4.8"/><circle class="dp" cx="1062.0" cy="1057.0" r="4.8"/><circle class="dp" cx="1090.0" cy="1060.0" r="4.8"/>
<line x1="836" y1="1152" x2="1200" y2="1039" stroke="#000" stroke-width="2.6"/>
<path d="M85.0 1735.0 L105.8 1726.8 L126.5 1718.5 L147.3 1710.1 L168.1 1701.5 L188.8 1692.7 L209.6 1683.8 L230.4 1674.8 L251.1 1665.6 L271.9 1656.3 L292.7 1646.9 L313.4 1637.3 L334.2 1627.6 L355.0 1617.7 L375.7 1607.7 L396.5 1597.5 L417.3 1587.2 L438.0 1576.7 L458.8 1566.2 L479.6 1555.4 L500.3 1544.6 L521.1 1533.5 L541.9 1522.4 L562.6 1511.1 L583.4 1499.6 L604.2 1488.1 L624.9 1476.3 L645.7 1464.5 L666.5 1452.4 L687.2 1440.3 L708.0 1428.0 L708.0 1476.0 L687.2 1484.2 L666.5 1492.5 L645.7 1500.9 L624.9 1509.5 L604.2 1518.3 L583.4 1527.2 L562.6 1536.2 L541.9 1545.4 L521.1 1554.7 L500.3 1564.1 L479.6 1573.7 L458.8 1583.4 L438.0 1593.3 L417.3 1603.3 L396.5 1613.5 L375.7 1623.8 L355.0 1634.3 L334.2 1644.8 L313.4 1655.6 L292.7 1666.4 L271.9 1677.5 L251.1 1688.6 L230.4 1699.9 L209.6 1711.4 L188.8 1722.9 L168.1 1734.7 L147.3 1746.5 L126.5 1758.6 L105.8 1770.7 L85.0 1783.0Z" fill="#dcdcdc" fill-opacity="0.55"/>
<circle class="cb" cx="637.6" cy="1413.2" r="7.7"/><circle class="cb" cx="600.8" cy="1426.4" r="7.7"/><circle class="cb" cx="475.3" cy="1437.5" r="7.7"/><circle class="cp" cx="358.4" cy="1449.3" r="7.7"/><circle class="cp" cx="345.8" cy="1455.1" r="7.7"/><circle class="cb" cx="400.4" cy="1464.6" r="7.7"/><circle class="cp" cx="415.0" cy="1465.1" r="7.7"/><circle class="cp" cx="493.6" cy="1474.8" r="7.7"/><circle class="cb" cx="521.6" cy="1471.8" r="7.7"/><circle class="cb" cx="536.7" cy="1475.3" r="7.7"/><circle class="cb" cx="479.0" cy="1485.5" r="7.7"/><circle class="cp" cx="496.5" cy="1489.9" r="7.7"/><circle class="cb" cx="511.1" cy="1502.4" r="7.7"/><circle class="cb" cx="480.5" cy="1504.5" r="7.7"/><circle class="cb" cx="583.3" cy="1503.9" r="7.7"/><circle class="cp" cx="575.7" cy="1511.2" r="7.7"/><circle class="cp" cx="629.0" cy="1518.2" r="7.7"/><circle class="cp" cx="660.5" cy="1524.0" r="7.7"/><circle class="cp" cx="557.7" cy="1538.0" r="7.7"/><circle class="cb" cx="559.7" cy="1551.1" r="7.7"/><circle class="cp" cx="708.6" cy="1549.6" r="7.7"/><circle class="cb" cx="618.0" cy="1562.7" r="7.7"/><circle class="cb" cx="650.3" cy="1546.7" r="7.7"/><circle class="cb" cx="645.7" cy="1555.5" r="7.7"/><circle class="cb" cx="664.0" cy="1559.8" r="7.7"/><circle class="cp" cx="650.0" cy="1576.1" r="7.7"/><circle class="cb" cx="551.3" cy="1572.0" r="7.7"/><circle class="cp" cx="511.1" cy="1524.3" r="7.7"/><circle class="cp" cx="486.3" cy="1517.6" r="7.7"/><circle class="cp" cx="413.5" cy="1529.2" r="7.7"/><circle class="cp" cx="489.2" cy="1578.8" r="7.7"/><circle class="cp" cx="493.0" cy="1591.0" r="7.7"/><circle class="cb" cx="489.2" cy="1605.0" r="7.7"/><circle class="cb" cx="510.2" cy="1608.8" r="7.7"/><circle class="cp" cx="476.1" cy="1628.9" r="7.7"/><circle class="cp" cx="482.0" cy="1628.9" r="7.7"/><circle class="cb" cx="493.0" cy="1623.9" r="7.7"/><circle class="cp" cx="522.7" cy="1638.5" r="7.7"/><circle class="cb" cx="528.6" cy="1651.6" r="7.7"/><circle class="cb" cx="518.4" cy="1637.0" r="7.7"/><circle class="cy" cx="435.3" cy="1635.6" r="7.7"/><circle class="cb" cx="449.0" cy="1638.5" r="7.7"/><circle class="cb" cx="425.7" cy="1651.6" r="7.7"/><circle class="cp" cx="422.2" cy="1666.1" r="7.7"/><circle class="cy" cx="436.8" cy="1673.4" r="7.7"/><circle class="cy" cx="576.0" cy="1668.5" r="7.7"/><circle class="cb" cx="398.0" cy="1640.0" r="7.7"/><circle class="cb" cx="397.5" cy="1624.0" r="7.7"/><circle class="cb" cx="510.0" cy="1545.0" r="7.7"/><circle class="cp" cx="515.0" cy="1560.0" r="7.7"/><circle class="cb" cx="520.0" cy="1570.0" r="7.7"/><circle class="cb" cx="530.0" cy="1585.0" r="7.7"/><circle class="cp" cx="506.0" cy="1592.0" r="7.7"/><circle class="cy" cx="522.0" cy="1600.0" r="7.7"/><circle class="cp" cx="505.0" cy="1612.0" r="7.7"/><circle class="cb" cx="306.6" cy="1514.6" r="7.7"/><circle class="cb" cx="322.1" cy="1517.3" r="7.7"/><circle class="cb" cx="302.3" cy="1530.1" r="7.7"/><circle class="cp" cx="325.0" cy="1532.4" r="7.7"/><circle class="cp" cx="293.6" cy="1546.6" r="7.7"/><circle class="cp" cx="322.1" cy="1546.0" r="7.7"/><circle class="cb" cx="203.7" cy="1529.1" r="7.7"/><circle class="cb" cx="246.4" cy="1523.1" r="7.7"/><circle class="cp" cx="216.3" cy="1539.2" r="7.7"/><circle class="cp" cx="212.0" cy="1548.9" r="7.7"/><circle class="cb" cx="193.0" cy="1546.0" r="7.7"/><circle class="cp" cx="243.1" cy="1542.1" r="7.7"/><circle class="cp" cx="216.3" cy="1569.3" r="7.7"/><circle class="cp" cx="225.0" cy="1567.8" r="7.7"/><circle class="cb" cx="175.9" cy="1602.7" r="7.7"/><circle class="cb" cx="206.6" cy="1598.8" r="7.7"/><circle class="cb" cx="230.9" cy="1596.5" r="7.7"/><circle class="cb" cx="239.6" cy="1604.3" r="7.7"/><circle class="cb" cx="226.0" cy="1611.1" r="7.7"/><circle class="cy" cx="206.2" cy="1624.7" r="7.7"/><circle class="cp" cx="210.1" cy="1636.3" r="7.7"/><circle class="cy" cx="231.5" cy="1636.3" r="7.7"/><circle class="cy" cx="252.2" cy="1633.4" r="7.7"/><circle class="cb" cx="267.8" cy="1576.1" r="7.7"/><circle class="cp" cx="280.4" cy="1572.2" r="7.7"/><circle class="cb" cx="294.0" cy="1581.9" r="7.7"/><circle class="cp" cx="311.5" cy="1559.6" r="7.7"/><circle class="cp" cx="333.8" cy="1555.7" r="7.7"/><circle class="cp" cx="330.9" cy="1565.4" r="7.7"/><circle class="cp" cx="307.6" cy="1575.1" r="7.7"/><circle class="cp" cx="319.2" cy="1581.0" r="7.7"/><circle class="cp" cx="344.5" cy="1586.8" r="7.7"/><circle class="cp" cx="352.2" cy="1598.4" r="7.7"/><circle class="cp" cx="366.8" cy="1536.3" r="7.7"/><circle class="cp" cx="374.6" cy="1521.7" r="7.7"/><circle class="cb" cx="381.4" cy="1526.6" r="7.7"/><circle class="cp" cx="385.2" cy="1542.1" r="7.7"/><circle class="cp" cx="384.3" cy="1556.7" r="7.7"/><circle class="cb" cx="391.1" cy="1511.1" r="7.7"/><circle class="cb" cx="395.9" cy="1495.5" r="7.7"/><circle class="cp" cx="365.8" cy="1548.0" r="7.7"/><circle class="cy" cx="381.4" cy="1601.4" r="7.7"/><circle class="cy" cx="372.6" cy="1651.8" r="7.7"/><circle class="cy" cx="276.1" cy="1650.9" r="7.7"/><circle class="cp" cx="257.1" cy="1653.8" r="7.7"/><circle class="cb" cx="152.8" cy="1565.9" r="7.7"/><circle class="cp" cx="498.0" cy="1739.4" r="7.7"/><circle class="cp" cx="477.9" cy="1710.7" r="7.7"/><circle class="cb" cx="460.7" cy="1696.3" r="7.7"/><circle class="cy" cx="83.3" cy="1811.3" r="7.7"/><circle class="cy" cx="108.9" cy="1810.4" r="7.7"/><circle class="cy" cx="164.3" cy="1811.3" r="7.7"/><circle class="cy" cx="237.1" cy="1809.8" r="7.7"/><circle class="cy" cx="253.7" cy="1811.9" r="7.7"/><circle class="cy" cx="282.0" cy="1809.5" r="7.7"/><circle class="cy" cx="125.5" cy="1774.0" r="7.7"/><circle class="cy" cx="122.6" cy="1782.7" r="7.7"/><circle class="cy" cx="144.5" cy="1775.4" r="7.7"/><circle class="cy" cx="156.1" cy="1785.6" r="7.7"/><circle class="cy" cx="172.1" cy="1775.4" r="7.7"/><circle class="cy" cx="173.6" cy="1790.0" r="7.7"/><circle class="cy" cx="160.5" cy="1790.0" r="7.7"/><circle class="cy" cx="196.3" cy="1776.9" r="7.7"/><circle class="cy" cx="205.6" cy="1788.6" r="7.7"/><circle class="cy" cx="221.7" cy="1788.6" r="7.7"/><circle class="cy" cx="262.4" cy="1771.0" r="7.7"/><circle class="cy" cx="269.7" cy="1769.6" r="7.7"/><circle class="cy" cx="277.0" cy="1776.9" r="7.7"/><circle class="cy" cx="285.7" cy="1779.8" r="7.7"/><circle class="cy" cx="296.0" cy="1771.0" r="7.7"/><circle class="cy" cx="301.8" cy="1785.6" r="7.7"/><circle class="cy" cx="316.3" cy="1785.6" r="7.7"/><circle class="cy" cx="328.6" cy="1784.2" r="7.7"/><circle class="cy" cx="186.7" cy="1747.8" r="7.7"/><circle class="cb" cx="214.4" cy="1762.3" r="7.7"/><circle class="cb" cx="261.0" cy="1756.5" r="7.7"/><circle class="cp" cx="275.0" cy="1752.1" r="7.7"/><circle class="cy" cx="285.7" cy="1747.2" r="7.7"/><circle class="cy" cx="306.1" cy="1750.7" r="7.7"/><circle class="cy" cx="298.9" cy="1733.2" r="7.7"/><circle class="cy" cx="297.4" cy="1728.8" r="7.7"/><circle class="cb" cx="281.4" cy="1733.2" r="7.7"/><circle class="cb" cx="275.6" cy="1736.1" r="7.7"/><circle class="cb" cx="191.1" cy="1737.6" r="7.7"/><circle class="cy" cx="205.6" cy="1737.6" r="7.7"/><circle class="cb" cx="211.5" cy="1733.2" r="7.7"/><circle class="cy" cx="212.9" cy="1728.8" r="7.7"/><circle class="cb" cx="208.6" cy="1723.0" r="7.7"/><circle class="cb" cx="223.1" cy="1714.3" r="7.7"/><circle class="cb" cx="231.9" cy="1702.6" r="7.7"/><circle class="cb" cx="233.3" cy="1723.0" r="7.7"/><circle class="cb" cx="242.0" cy="1724.5" r="7.7"/><circle class="cb" cx="176.5" cy="1717.2" r="7.7"/><circle class="cb" cx="186.7" cy="1677.9" r="7.7"/><circle class="cb" cx="205.6" cy="1677.9" r="7.7"/><circle class="cb" cx="207.1" cy="1692.4" r="7.7"/><circle class="cb" cx="210.0" cy="1669.1" r="7.7"/><circle class="cb" cx="231.9" cy="1670.6" r="7.7"/><circle class="cb" cx="240.6" cy="1669.1" r="7.7"/><circle class="cb" cx="250.8" cy="1672.0" r="7.7"/><circle class="cb" cx="263.9" cy="1667.7" r="7.7"/><circle class="cb" cx="277.0" cy="1683.7" r="7.7"/><circle class="cb" cx="284.3" cy="1683.7" r="7.7"/><circle class="cy" cx="281.4" cy="1695.3" r="7.7"/><circle class="cb" cx="263.9" cy="1707.0" r="7.7"/><circle class="cb" cx="275.6" cy="1710.0" r="7.7"/><circle class="cb" cx="285.7" cy="1708.5" r="7.7"/><circle class="cb" cx="272.5" cy="1718.6" r="7.7"/><circle class="cb" cx="281.4" cy="1718.6" r="7.7"/><circle class="cp" cx="301.8" cy="1692.4" r="7.7"/><circle class="cb" cx="300.3" cy="1715.7" r="7.7"/><circle class="cb" cx="313.4" cy="1657.5" r="7.7"/><circle class="cb" cx="322.2" cy="1663.3" r="7.7"/><circle class="cb" cx="332.4" cy="1651.7" r="7.7"/><circle class="cp" cx="301.8" cy="1666.2" r="7.7"/><circle class="cb" cx="345.5" cy="1669.1" r="7.7"/><circle class="cb" cx="357.1" cy="1645.8" r="7.7"/><circle class="cb" cx="361.5" cy="1657.5" r="7.7"/><circle class="cb" cx="377.5" cy="1666.2" r="7.7"/><circle class="cb" cx="330.9" cy="1675.0" r="7.7"/><circle class="cy" cx="325.1" cy="1699.7" r="7.7"/><circle class="cb" cx="316.3" cy="1701.2" r="7.7"/><circle class="cb" cx="336.7" cy="1698.3" r="7.7"/><circle class="cb" cx="344.0" cy="1695.3" r="7.7"/><circle class="cy" cx="362.9" cy="1691.0" r="7.7"/><circle class="cy" cx="373.1" cy="1696.8" r="7.7"/><circle class="cy" cx="365.8" cy="1707.0" r="7.7"/><circle class="cb" cx="357.1" cy="1710.0" r="7.7"/><circle class="cp" cx="381.9" cy="1711.4" r="7.7"/><circle class="cp" cx="338.2" cy="1714.3" r="7.7"/><circle class="cy" cx="322.2" cy="1715.7" r="7.7"/><circle class="cy" cx="328.0" cy="1724.5" r="7.7"/><circle class="cy" cx="333.8" cy="1730.3" r="7.7"/><circle class="cy" cx="360.0" cy="1723.0" r="7.7"/><circle class="cy" cx="386.2" cy="1731.8" r="7.7"/><circle class="cy" cx="400.8" cy="1723.0" r="7.7"/><circle class="cy" cx="413.9" cy="1712.8" r="7.7"/><circle class="cb" cx="345.5" cy="1737.6" r="7.7"/><circle class="cy" cx="351.3" cy="1740.5" r="7.7"/><circle class="cy" cx="364.4" cy="1742.0" r="7.7"/><circle class="cb" cx="374.6" cy="1749.2" r="7.7"/><circle class="cy" cx="364.4" cy="1753.6" r="7.7"/><circle class="cy" cx="364.4" cy="1768.2" r="7.7"/><circle class="cb" cx="408.1" cy="1653.1" r="7.7"/><circle class="cb" cx="448.5" cy="1641.5" r="7.7"/><circle class="cb" cx="413.5" cy="1717.2" r="7.7"/><circle class="cb" cx="380.0" cy="1749.2" r="7.7"/><circle class="cp" cx="522.7" cy="1641.5" r="7.7"/><circle class="cy" cx="230.0" cy="1760.0" r="7.7"/><circle class="cy" cx="238.0" cy="1752.0" r="7.7"/><circle class="cy" cx="245.0" cy="1765.0" r="7.7"/><circle class="cy" cx="232.0" cy="1775.0" r="7.7"/><circle class="cy" cx="242.0" cy="1780.0" r="7.7"/><circle class="cy" cx="225.0" cy="1770.0" r="7.7"/><circle class="cy" cx="250.0" cy="1790.0" r="7.7"/><circle class="cy" cx="236.0" cy="1792.0" r="7.7"/><circle class="cy" cx="228.0" cy="1748.0" r="7.7"/><circle class="cy" cx="248.0" cy="1757.0" r="7.7"/><circle class="cb" cx="449.8" cy="1542.3" r="7.7"/><circle class="cb" cx="513.2" cy="1524.7" r="7.7"/><circle class="cp" cx="399.0" cy="1536.4" r="7.7"/><circle class="cb" cx="479.4" cy="1465.2" r="7.7"/><circle class="cp" cx="457.8" cy="1571.9" r="7.7"/><circle class="cb" cx="404.5" cy="1551.4" r="7.7"/><circle class="cb" cx="460.6" cy="1515.5" r="7.7"/><circle class="cb" cx="483.0" cy="1563.0" r="7.7"/><circle class="cp" cx="416.6" cy="1635.5" r="7.7"/><circle class="cb" cx="459.3" cy="1580.9" r="7.7"/><circle class="cp" cx="441.2" cy="1520.9" r="7.7"/><circle class="cb" cx="521.5" cy="1502.1" r="7.7"/><circle class="cb" cx="529.2" cy="1537.4" r="7.7"/><circle class="cb" cx="453.3" cy="1534.9" r="7.7"/><circle class="cp" cx="435.4" cy="1535.9" r="7.7"/><circle class="cb" cx="407.9" cy="1511.4" r="7.7"/><circle class="cb" cx="424.3" cy="1481.7" r="7.7"/><circle class="cb" cx="442.9" cy="1570.1" r="7.7"/><circle class="cb" cx="490.0" cy="1502.0" r="7.7"/><circle class="cb" cx="473.5" cy="1494.3" r="7.7"/><circle class="cb" cx="434.1" cy="1565.2" r="7.7"/><circle class="cp" cx="476.9" cy="1546.3" r="7.7"/><circle class="cb" cx="451.7" cy="1572.9" r="7.7"/><circle class="cb" cx="402.6" cy="1619.4" r="7.7"/><circle class="cb" cx="450.4" cy="1494.9" r="7.7"/><circle class="cb" cx="424.0" cy="1602.8" r="7.7"/><circle class="cb" cx="381.7" cy="1563.0" r="7.7"/><circle class="cb" cx="449.4" cy="1565.2" r="7.7"/><circle class="cb" cx="443.7" cy="1556.1" r="7.7"/><circle class="cp" cx="512.8" cy="1499.6" r="7.7"/><circle class="cb" cx="501.3" cy="1567.8" r="7.7"/><circle class="cb" cx="486.2" cy="1603.3" r="7.7"/><circle class="cb" cx="449.6" cy="1570.6" r="7.7"/><circle class="cb" cx="489.7" cy="1569.7" r="7.7"/><circle class="cp" cx="382.1" cy="1568.0" r="7.7"/><circle class="cb" cx="494.7" cy="1493.6" r="7.7"/><circle class="cb" cx="397.9" cy="1539.6" r="7.7"/><circle class="cb" cx="450.3" cy="1499.3" r="7.7"/><circle class="cb" cx="392.6" cy="1479.7" r="7.7"/><circle class="cp" cx="456.3" cy="1537.5" r="7.7"/><circle class="cb" cx="412.6" cy="1521.3" r="7.7"/><circle class="cb" cx="383.4" cy="1644.9" r="7.7"/><circle class="cb" cx="441.4" cy="1511.1" r="7.7"/><circle class="cb" cx="396.1" cy="1571.4" r="7.7"/><circle class="cb" cx="398.5" cy="1503.5" r="7.7"/><circle class="cb" cx="506.7" cy="1603.0" r="7.7"/><circle class="cb" cx="380.0" cy="1597.2" r="7.7"/><circle class="cb" cx="403.2" cy="1549.1" r="7.7"/><circle class="cp" cx="421.8" cy="1608.7" r="7.7"/><circle class="cb" cx="484.1" cy="1512.5" r="7.7"/><circle class="cb" cx="430.1" cy="1629.7" r="7.7"/><circle class="cb" cx="454.3" cy="1594.0" r="7.7"/><circle class="cb" cx="509.2" cy="1510.2" r="7.7"/><circle class="cp" cx="469.2" cy="1535.7" r="7.7"/><circle class="cp" cx="393.1" cy="1584.9" r="7.7"/><circle class="cb" cx="500.7" cy="1558.5" r="7.7"/><circle class="cb" cx="430.2" cy="1468.5" r="7.7"/><circle class="cb" cx="399.1" cy="1490.9" r="7.7"/><circle class="cb" cx="497.3" cy="1554.5" r="7.7"/><circle class="cb" cx="389.3" cy="1566.1" r="7.7"/><circle class="cp" cx="472.5" cy="1491.4" r="7.7"/><circle class="cb" cx="377.2" cy="1613.1" r="7.7"/><circle class="cb" cx="473.8" cy="1511.3" r="7.7"/><circle class="cp" cx="489.8" cy="1493.3" r="7.7"/><circle class="cb" cx="456.8" cy="1523.9" r="7.7"/><circle class="cb" cx="380.6" cy="1616.4" r="7.7"/><circle class="cb" cx="509.4" cy="1546.8" r="7.7"/><circle class="cb" cx="421.8" cy="1503.8" r="7.7"/><circle class="cb" cx="508.4" cy="1527.3" r="7.7"/><circle class="cb" cx="438.1" cy="1478.7" r="7.7"/><circle class="cb" cx="466.8" cy="1566.4" r="7.7"/><circle class="cp" cx="398.0" cy="1570.9" r="7.7"/><circle class="cb" cx="501.4" cy="1577.3" r="7.7"/><circle class="cb" cx="496.6" cy="1561.7" r="7.7"/><circle class="cb" cx="418.4" cy="1472.3" r="7.7"/><circle class="cb" cx="453.5" cy="1479.4" r="7.7"/><circle class="cb" cx="468.5" cy="1581.6" r="7.7"/><circle class="cb" cx="392.8" cy="1531.4" r="7.7"/><circle class="cp" cx="384.3" cy="1557.4" r="7.7"/><circle class="cb" cx="407.3" cy="1640.3" r="7.7"/><circle class="cb" cx="362.9" cy="1598.2" r="7.7"/><circle class="cb" cx="485.6" cy="1519.4" r="7.7"/><circle class="cp" cx="417.0" cy="1519.5" r="7.7"/><circle class="cb" cx="476.5" cy="1477.3" r="7.7"/><circle class="cy" cx="370.0" cy="1648.0" r="7.7"/><circle class="cb" cx="377.3" cy="1605.2" r="7.7"/><circle class="cb" cx="502.7" cy="1559.1" r="7.7"/><circle class="cb" cx="377.1" cy="1591.4" r="7.7"/><circle class="cb" cx="374.5" cy="1591.9" r="7.7"/><circle class="cb" cx="439.2" cy="1598.6" r="7.7"/><circle class="cb" cx="433.5" cy="1550.8" r="7.7"/><circle class="cb" cx="497.1" cy="1510.3" r="7.7"/><circle class="cb" cx="409.0" cy="1529.7" r="7.7"/><circle class="cb" cx="449.3" cy="1499.5" r="7.7"/><circle class="cb" cx="469.0" cy="1579.2" r="7.7"/><circle class="cp" cx="395.2" cy="1479.1" r="7.7"/><circle class="cb" cx="453.8" cy="1509.8" r="7.7"/><circle class="cb" cx="465.4" cy="1526.3" r="7.7"/><circle class="cb" cx="369.3" cy="1602.9" r="7.7"/><circle class="cb" cx="428.5" cy="1601.5" r="7.7"/><circle class="cp" cx="402.2" cy="1504.5" r="7.7"/><circle class="cb" cx="472.9" cy="1585.2" r="7.7"/><circle class="cb" cx="381.0" cy="1609.4" r="7.7"/><circle class="cb" cx="431.3" cy="1558.1" r="7.7"/><circle class="cb" cx="398.6" cy="1537.0" r="7.7"/><circle class="cp" cx="333.0" cy="1649.5" r="7.7"/><circle class="cb" cx="353.4" cy="1638.0" r="7.7"/><circle class="cb" cx="363.6" cy="1571.8" r="7.7"/><circle class="cb" cx="354.3" cy="1570.2" r="7.7"/><circle class="cb" cx="359.9" cy="1587.3" r="7.7"/><circle class="cp" cx="355.1" cy="1601.5" r="7.7"/><circle class="cp" cx="275.0" cy="1641.0" r="7.7"/><circle class="cb" cx="286.6" cy="1602.3" r="7.7"/><circle class="cp" cx="360.1" cy="1589.7" r="7.7"/><circle class="cp" cx="363.2" cy="1586.2" r="7.7"/><circle class="cp" cx="353.0" cy="1582.4" r="7.7"/><circle class="cb" cx="358.8" cy="1580.9" r="7.7"/><circle class="cp" cx="288.6" cy="1588.3" r="7.7"/><circle class="cp" cx="312.9" cy="1614.0" r="7.7"/><circle class="cb" cx="308.9" cy="1587.8" r="7.7"/><circle class="cb" cx="358.3" cy="1633.3" r="7.7"/><circle class="cp" cx="258.2" cy="1583.0" r="7.7"/><circle class="cp" cx="314.7" cy="1569.7" r="7.7"/><circle class="cb" cx="280.8" cy="1586.8" r="7.7"/><circle class="cp" cx="273.3" cy="1650.3" r="7.7"/><circle class="cb" cx="327.1" cy="1568.7" r="7.7"/><circle class="cb" cx="296.2" cy="1592.5" r="7.7"/><circle class="cp" cx="318.8" cy="1583.1" r="7.7"/><circle class="cb" cx="316.8" cy="1560.5" r="7.7"/><circle class="cp" cx="289.9" cy="1575.0" r="7.7"/><circle class="cb" cx="263.2" cy="1589.7" r="7.7"/><circle class="cp" cx="297.2" cy="1591.4" r="7.7"/><circle class="cp" cx="306.4" cy="1635.9" r="7.7"/><circle class="cp" cx="339.1" cy="1606.3" r="7.7"/><circle class="cb" cx="269.7" cy="1642.8" r="7.7"/><circle class="cb" cx="294.4" cy="1609.6" r="7.7"/><circle class="cp" cx="293.5" cy="1594.2" r="7.7"/><circle class="cb" cx="251.3" cy="1612.5" r="7.7"/><circle class="cb" cx="307.5" cy="1603.2" r="7.7"/><circle class="cb" cx="333.0" cy="1576.6" r="7.7"/><circle class="cp" cx="263.3" cy="1644.6" r="7.7"/><circle class="cp" cx="342.2" cy="1584.1" r="7.7"/><circle class="cb" cx="312.7" cy="1641.9" r="7.7"/><circle class="cp" cx="256.2" cy="1595.9" r="7.7"/><circle class="cb" cx="337.6" cy="1603.2" r="7.7"/><circle class="cb" cx="328.5" cy="1645.5" r="7.7"/><circle class="cb" cx="346.3" cy="1586.1" r="7.7"/><circle class="cb" cx="333.0" cy="1561.8" r="7.7"/><circle class="cb" cx="358.7" cy="1579.4" r="7.7"/><circle class="cb" cx="336.3" cy="1620.0" r="7.7"/><circle class="cp" cx="331.0" cy="1559.4" r="7.7"/><circle class="cp" cx="312.2" cy="1655.0" r="7.7"/><circle class="cb" cx="318.1" cy="1570.8" r="7.7"/><circle class="cb" cx="301.6" cy="1610.2" r="7.7"/><circle class="cb" cx="265.8" cy="1630.9" r="7.7"/><circle class="cp" cx="349.7" cy="1586.1" r="7.7"/><circle class="cp" cx="269.1" cy="1647.9" r="7.7"/><circle class="cb" cx="295.2" cy="1610.0" r="7.7"/><circle class="cb" cx="286.9" cy="1591.6" r="7.7"/><circle class="cp" cx="340.1" cy="1587.6" r="7.7"/><circle class="cb" cx="357.7" cy="1631.0" r="7.7"/><circle class="cp" cx="296.9" cy="1653.9" r="7.7"/><circle class="cp" cx="275.1" cy="1568.0" r="7.7"/><circle class="cb" cx="319.7" cy="1594.5" r="7.7"/><circle class="cb" cx="325.4" cy="1603.8" r="7.7"/><circle class="cb" cx="319.8" cy="1619.8" r="7.7"/><circle class="cb" cx="310.7" cy="1607.1" r="7.7"/><circle class="cp" cx="272.3" cy="1636.5" r="7.7"/><circle class="cb" cx="348.5" cy="1565.3" r="7.7"/><circle class="cp" cx="301.4" cy="1629.2" r="7.7"/><circle class="cb" cx="280.4" cy="1571.3" r="7.7"/><circle class="cb" cx="270.6" cy="1578.0" r="7.7"/><circle class="cp" cx="302.8" cy="1614.6" r="7.7"/><circle class="cb" cx="326.5" cy="1639.3" r="7.7"/><circle class="cb" cx="306.7" cy="1562.5" r="7.7"/><circle class="cb" cx="287.0" cy="1587.3" r="7.7"/><circle class="cb" cx="317.8" cy="1607.6" r="7.7"/><circle class="cp" cx="310.2" cy="1592.3" r="7.7"/><circle class="cb" cx="314.1" cy="1594.3" r="7.7"/><circle class="cb" cx="260.9" cy="1643.1" r="7.7"/><circle class="cb" cx="277.7" cy="1629.1" r="7.7"/><circle class="cp" cx="257.2" cy="1633.1" r="7.7"/><circle class="cb" cx="283.2" cy="1582.9" r="7.7"/><circle class="cp" cx="345.0" cy="1615.9" r="7.7"/><circle class="cp" cx="299.7" cy="1628.2" r="7.7"/><circle class="cb" cx="356.8" cy="1642.1" r="7.7"/><circle class="cb" cx="331.0" cy="1619.8" r="7.7"/><circle class="cp" cx="281.0" cy="1588.6" r="7.7"/><circle class="cp" cx="270.9" cy="1637.8" r="7.7"/><circle class="cb" cx="336.3" cy="1597.6" r="7.7"/><circle class="cb" cx="338.1" cy="1626.7" r="7.7"/><circle class="cb" cx="292.8" cy="1600.9" r="7.7"/><circle class="cb" cx="352.0" cy="1632.0" r="7.7"/><circle class="cb" cx="330.7" cy="1593.6" r="7.7"/><circle class="cp" cx="336.8" cy="1639.5" r="7.7"/><circle class="cy" cx="201.5" cy="1777.6" r="7.7"/><circle class="cy" cx="244.1" cy="1770.2" r="7.7"/><circle class="cb" cx="232.7" cy="1769.5" r="7.7"/><circle class="cy" cx="278.3" cy="1776.0" r="7.7"/><circle class="cy" cx="278.1" cy="1751.6" r="7.7"/><circle class="cy" cx="260.1" cy="1764.7" r="7.7"/><circle class="cy" cx="244.7" cy="1754.2" r="7.7"/><circle class="cy" cx="233.3" cy="1789.9" r="7.7"/><circle class="cy" cx="193.9" cy="1794.5" r="7.7"/><circle class="cy" cx="204.8" cy="1774.5" r="7.7"/><circle class="cy" cx="243.2" cy="1772.0" r="7.7"/><circle class="cy" cx="260.0" cy="1758.1" r="7.7"/><circle class="cy" cx="256.0" cy="1789.7" r="7.7"/><circle class="cy" cx="181.0" cy="1783.8" r="7.7"/><circle class="cy" cx="204.1" cy="1776.2" r="7.7"/><circle class="cb" cx="244.1" cy="1785.6" r="7.7"/><circle class="cb" cx="166.1" cy="1775.1" r="7.7"/><circle class="cy" cx="245.3" cy="1775.6" r="7.7"/><circle class="cy" cx="240.4" cy="1775.9" r="7.7"/><circle class="cy" cx="239.8" cy="1749.3" r="7.7"/><circle class="cy" cx="187.4" cy="1796.0" r="7.7"/><circle class="cy" cx="218.6" cy="1785.8" r="7.7"/><circle class="cy" cx="225.9" cy="1751.4" r="7.7"/><circle class="cy" cx="260.8" cy="1786.1" r="7.7"/><circle class="cy" cx="231.9" cy="1770.3" r="7.7"/><circle class="cy" cx="211.2" cy="1793.5" r="7.7"/><circle class="cy" cx="195.6" cy="1789.2" r="7.7"/><circle class="cy" cx="280.1" cy="1765.3" r="7.7"/>
<line x1="85" y1="1759" x2="708" y2="1452" stroke="#000" stroke-width="3"/>
<line x1="196.1" y1="1558" x2="196.1" y2="1701" stroke="#7030A0" stroke-width="3"/>
<line x1="362.5" y1="1455" x2="362.5" y2="1623.7" stroke="#7030A0" stroke-width="3"/>
<line x1="295.4" y1="1660" x2="295.4" y2="1769.6" stroke="#7030A0" stroke-width="3"/>
<line x1="579.2" y1="1519" x2="579.2" y2="1663" stroke="#7030A0" stroke-width="3"/>
<line x1="640.7" y1="1413" x2="640.7" y2="1488.5" stroke="#7030A0" stroke-width="3"/>
<path d="M175.0 2151.0 L187.6 2156.3 L200.1 2161.5 L212.7 2166.5 L225.3 2171.4 L237.8 2176.1 L250.4 2180.6 L263.0 2185.0 L275.5 2189.2 L288.1 2193.3 L300.7 2197.2 L313.2 2201.0 L325.8 2204.6 L338.4 2208.1 L350.9 2211.4 L363.5 2214.5 L376.1 2217.5 L388.6 2220.3 L401.2 2223.0 L413.8 2225.5 L426.3 2227.9 L438.9 2230.1 L451.5 2232.2 L464.0 2234.1 L476.6 2235.8 L489.2 2237.4 L501.7 2238.8 L514.3 2240.1 L526.9 2241.2 L539.4 2242.2 L552.0 2243.0 L552.0 2297.0 L539.4 2291.5 L526.9 2286.1 L514.3 2280.9 L501.7 2275.8 L489.2 2270.9 L476.6 2266.2 L464.0 2261.6 L451.5 2257.2 L438.9 2252.9 L426.3 2248.8 L413.8 2244.8 L401.2 2241.0 L388.6 2237.3 L376.1 2233.8 L363.5 2230.5 L350.9 2227.3 L338.4 2224.3 L325.8 2221.4 L313.2 2218.7 L300.7 2216.1 L288.1 2213.7 L275.5 2211.4 L263.0 2209.3 L250.4 2207.4 L237.8 2205.6 L225.3 2204.0 L212.7 2202.5 L200.1 2201.2 L187.6 2200.0 L175.0 2199.0Z" fill="#dedede" fill-opacity="0.6"/>
<circle class="eb" cx="174.7" cy="2130.6" r="7.8"/><circle class="ep" cx="359.7" cy="2098.2" r="7.8"/><circle class="ep" cx="396.4" cy="2098.2" r="7.8"/><circle class="ep" cx="355.3" cy="2129.6" r="7.8"/><circle class="ep" cx="373.5" cy="2126.1" r="7.8"/><circle class="eb" cx="367.8" cy="2136.2" r="7.8"/><circle class="ep" cx="229.5" cy="2147.4" r="7.8"/><circle class="eb" cx="230.3" cy="2166.0" r="7.8"/><circle class="eb" cx="243.6" cy="2162.9" r="7.8"/><circle class="ep" cx="225.2" cy="2181.1" r="7.8"/><circle class="ep" cx="219.8" cy="2186.2" r="7.8"/><circle class="eb" cx="227.9" cy="2196.7" r="7.8"/><circle class="ep" cx="216.7" cy="2209.4" r="7.8"/><circle class="ep" cx="241.0" cy="2210.0" r="7.8"/><circle class="ep" cx="237.4" cy="2207.8" r="7.8"/><circle class="ep" cx="194.5" cy="2216.1" r="7.8"/><circle class="eb" cx="272.4" cy="2160.9" r="7.8"/><circle class="ep" cx="286.5" cy="2156.9" r="7.8"/><circle class="eb" cx="264.9" cy="2172.0" r="7.8"/><circle class="ey" cx="280.9" cy="2175.5" r="7.8"/><circle class="ep" cx="296.6" cy="2177.7" r="7.8"/><circle class="ep" cx="307.4" cy="2187.2" r="7.8"/><circle class="eb" cx="301.7" cy="2197.3" r="7.8"/><circle class="eb" cx="297.7" cy="2195.3" r="7.8"/><circle class="ep" cx="284.5" cy="2197.9" r="7.8"/><circle class="ep" cx="284.1" cy="2218.6" r="7.8"/><circle class="ep" cx="303.1" cy="2222.6" r="7.8"/><circle class="ep" cx="278.8" cy="2239.4" r="7.8"/><circle class="eb" cx="307.8" cy="2244.2" r="7.8"/><circle class="ep" cx="213.3" cy="2258.0" r="7.8"/><circle class="ep" cx="311.8" cy="2257.0" r="7.8"/><circle class="eb" cx="328.0" cy="2162.9" r="7.8"/><circle class="eb" cx="340.7" cy="2170.0" r="7.8"/><circle class="eb" cx="343.6" cy="2186.2" r="7.8"/><circle class="ep" cx="363.0" cy="2184.8" r="7.8"/><circle class="ep" cx="350.8" cy="2197.3" r="7.8"/><circle class="ep" cx="328.0" cy="2205.4" r="7.8"/><circle class="ep" cx="322.9" cy="2224.6" r="7.8"/><circle class="ey" cx="331.0" cy="2220.6" r="7.8"/><circle class="ep" cx="327.0" cy="2234.7" r="7.8"/><circle class="eb" cx="338.1" cy="2233.7" r="7.8"/><circle class="ep" cx="353.3" cy="2234.1" r="7.8"/><circle class="eb" cx="362.4" cy="2248.9" r="7.8"/><circle class="eb" cx="372.5" cy="2256.0" r="7.8"/><circle class="eb" cx="377.5" cy="2208.4" r="7.8"/><circle class="ep" cx="385.6" cy="2218.6" r="7.8"/><circle class="ey" cx="372.5" cy="2229.3" r="7.8"/><circle class="eb" cx="390.7" cy="2238.8" r="7.8"/><circle class="ep" cx="382.6" cy="2156.9" r="7.8"/><circle class="eb" cx="390.7" cy="2155.8" r="7.8"/><circle class="ep" cx="396.8" cy="2166.0" r="7.8"/><circle class="eb" cx="382.6" cy="2181.1" r="7.8"/><circle class="ep" cx="383.6" cy="2176.1" r="7.8"/><circle class="eb" cx="380.0" cy="2172.0" r="7.8"/><circle class="ep" cx="413.3" cy="2189.1" r="7.8"/><circle class="ep" cx="332.0" cy="2205.3" r="7.8"/><circle class="ep" cx="331.0" cy="2233.6" r="7.8"/><circle class="eb" cx="369.4" cy="2256.9" r="7.8"/><circle class="eb" cx="378.5" cy="2266.0" r="7.8"/><circle class="ep" cx="394.7" cy="2259.9" r="7.8"/><circle class="ey" cx="389.7" cy="2273.0" r="7.8"/><circle class="eb" cx="387.6" cy="2276.1" r="7.8"/><circle class="eb" cx="415.6" cy="2272.0" r="7.8"/><circle class="ey" cx="410.3" cy="2280.1" r="7.8"/><circle class="ey" cx="444.7" cy="2285.2" r="7.8"/><circle class="ep" cx="438.2" cy="2295.3" r="7.8"/><circle class="eb" cx="361.4" cy="2294.3" r="7.8"/><circle class="ey" cx="361.4" cy="2304.4" r="7.8"/><circle class="ep" cx="407.9" cy="2297.3" r="7.8"/><circle class="ey" cx="407.9" cy="2302.4" r="7.8"/><circle class="ey" cx="417.6" cy="2313.5" r="7.8"/><circle class="eb" cx="344.8" cy="2316.5" r="7.8"/><circle class="eb" cx="463.1" cy="2200.2" r="7.8"/><circle class="eb" cx="474.6" cy="2208.7" r="7.8"/><circle class="eb" cx="493.4" cy="2199.8" r="7.8"/><circle class="eb" cx="490.8" cy="2211.4" r="7.8"/><circle class="eb" cx="485.3" cy="2223.5" r="7.8"/><circle class="eb" cx="460.1" cy="2237.6" r="7.8"/><circle class="eb" cx="457.4" cy="2244.7" r="7.8"/><circle class="ey" cx="463.5" cy="2257.9" r="7.8"/><circle class="ey" cx="471.6" cy="2257.9" r="7.8"/><circle class="ey" cx="477.0" cy="2278.5" r="7.8"/><circle class="ep" cx="489.8" cy="2294.7" r="7.8"/><circle class="ey" cx="501.9" cy="2290.6" r="7.8"/><circle class="ey" cx="505.0" cy="2305.4" r="7.8"/><circle class="ey" cx="552.5" cy="2225.5" r="7.8"/><circle class="ey" cx="479.7" cy="2338.8" r="7.8"/><circle class="eb" cx="412.9" cy="2414.3" r="7.8"/>
<line x1="175" y1="2175" x2="552" y2="2270" stroke="#000" stroke-width="3"/>
<path d="M704.0 2135.6 L720.5 2142.2 L736.9 2148.6 L753.4 2154.9 L769.9 2161.1 L786.3 2167.1 L802.8 2172.9 L819.3 2178.6 L835.7 2184.2 L852.2 2189.6 L868.7 2194.9 L885.1 2200.0 L901.6 2205.0 L918.1 2209.8 L934.5 2214.5 L951.0 2219.1 L967.5 2223.4 L983.9 2227.7 L1000.4 2231.8 L1016.9 2235.7 L1033.3 2239.5 L1049.8 2243.2 L1066.3 2246.7 L1082.7 2250.1 L1099.2 2253.3 L1115.7 2256.3 L1132.1 2259.3 L1148.6 2262.0 L1165.1 2264.7 L1181.5 2267.2 L1198.0 2269.5 L1198.0 2321.5 L1181.5 2314.7 L1165.1 2308.1 L1148.6 2301.6 L1132.1 2295.2 L1115.7 2289.0 L1099.2 2283.0 L1082.7 2277.1 L1066.3 2271.3 L1049.8 2265.7 L1033.3 2260.2 L1016.9 2254.9 L1000.4 2249.7 L983.9 2244.7 L967.5 2239.8 L951.0 2235.1 L934.5 2230.5 L918.1 2226.0 L901.6 2221.7 L885.1 2217.6 L868.7 2213.6 L852.2 2209.7 L835.7 2206.0 L819.3 2202.4 L802.8 2199.0 L786.3 2195.8 L769.9 2192.6 L753.4 2189.7 L736.9 2186.8 L720.5 2184.1 L704.0 2181.6Z" fill="#dedede" fill-opacity="0.6"/>
<g filter="url(#blur1)"><circle class="ub" cx="792.7" cy="2131.3" r="7.6"/><circle class="up" cx="847.3" cy="2147.7" r="7.6"/><circle class="ub" cx="847.3" cy="2166.3" r="7.6"/><circle class="ub" cx="861.5" cy="2163.0" r="7.6"/><circle class="ub" cx="882.2" cy="2171.7" r="7.6"/><circle class="up" cx="904.1" cy="2156.5" r="7.6"/><circle class="uy" cx="898.6" cy="2173.9" r="7.6"/><circle class="up" cx="842.9" cy="2180.5" r="7.6"/><circle class="up" cx="837.4" cy="2185.9" r="7.6"/><circle class="ub" cx="847.3" cy="2195.8" r="7.6"/><circle class="up" cx="812.3" cy="2216.5" r="7.6"/><circle class="up" cx="835.3" cy="2208.9" r="7.6"/><circle class="up" cx="856.0" cy="2210.0" r="7.6"/><circle class="up" cx="830.9" cy="2260.2" r="7.6"/><circle class="up" cx="977.7" cy="2098.1" r="7.6"/><circle class="up" cx="1014.7" cy="2098.1" r="7.6"/><circle class="up" cx="973.3" cy="2129.7" r="7.6"/><circle class="up" cx="991.1" cy="2126.1" r="7.6"/><circle class="ub" cx="986.0" cy="2137.0" r="7.6"/><circle class="up" cx="1001.5" cy="2157.2" r="7.6"/><circle class="up" cx="1016.5" cy="2165.4" r="7.6"/><circle class="ub" cx="1008.7" cy="2155.1" r="7.6"/><circle class="ub" cx="958.3" cy="2169.3" r="7.6"/><circle class="ub" cx="945.3" cy="2161.6" r="7.6"/><circle class="ub" cx="1017.8" cy="2181.0" r="7.6"/><circle class="ub" cx="1080.0" cy="2200.4" r="7.6"/><circle class="ub" cx="1091.6" cy="2208.2" r="7.6"/><circle class="ub" cx="1111.0" cy="2199.1" r="7.6"/><circle class="ub" cx="1103.2" cy="2222.4" r="7.6"/><circle class="uy" cx="1170.5" cy="2225.0" r="7.6"/><circle class="ub" cx="1081.2" cy="2232.7" r="7.6"/><circle class="uy" cx="1083.8" cy="2253.5" r="7.6"/><circle class="ub" cx="997.1" cy="2208.2" r="7.6"/><circle class="up" cx="1003.6" cy="2221.1" r="7.6"/><circle class="up" cx="968.6" cy="2196.5" r="7.6"/><circle class="up" cx="946.6" cy="2205.6" r="7.6"/><circle class="up" cx="905.2" cy="2156.4" r="7.6"/><circle class="up" cx="896.4" cy="2296.1" r="7.6"/><circle class="uy" cx="978.8" cy="2304.9" r="7.6"/><circle class="ub" cx="979.4" cy="2293.2" r="7.6"/><circle class="uy" cx="1098.3" cy="2337.8" r="7.6"/><circle class="ub" cx="1031.9" cy="2415.0" r="7.6"/><circle class="uy" cx="1122.2" cy="2304.9" r="7.6"/><circle class="uy" cx="1120.1" cy="2288.8" r="7.6"/><circle class="uy" cx="1170.2" cy="2224.8" r="7.6"/><circle class="ub" cx="1082.8" cy="2233.5" r="7.6"/><circle class="uy" cx="1062.4" cy="2284.5" r="7.6"/><circle class="ub" cx="928.5" cy="2246.6" r="7.6"/><circle class="ub" cx="934.3" cy="2248.1" r="7.6"/><circle class="ub" cx="996.9" cy="2208.7" r="7.6"/><circle class="uy" cx="989.6" cy="2229.1" r="7.6"/><circle class="ub" cx="978.0" cy="2246.6" r="7.6"/><circle class="ub" cx="924.1" cy="2243.7" r="7.6"/><circle class="up" cx="811.6" cy="2214.9" r="7.6"/><circle class="up" cx="830.7" cy="2259.5" r="7.6"/><circle class="up" cx="920.0" cy="2220.0" r="7.6"/><circle class="ub" cx="940.0" cy="2228.0" r="7.6"/><circle class="ub" cx="975.0" cy="2262.0" r="7.6"/><circle class="uy" cx="1018.0" cy="2262.0" r="7.6"/><circle class="uy" cx="955.0" cy="2300.0" r="7.6"/><circle class="ub" cx="1060.0" cy="2270.0" r="7.6"/><circle class="up" cx="1118.0" cy="2272.0" r="7.6"/><circle class="uy" cx="1090.0" cy="2262.0" r="7.6"/><circle class="ub" cx="985.0" cy="2190.0" r="7.6"/><circle class="ub" cx="1020.0" cy="2210.0" r="7.6"/></g>
<circle class="tb" cx="744.6" cy="2142.3" r="7.6"/><circle class="tb" cx="769.7" cy="2131.3" r="7.6"/><circle class="tb" cx="793.1" cy="2118.9" r="7.6"/><circle class="tp" cx="703.8" cy="2221.5" r="7.6"/><circle class="tb" cx="890.5" cy="2153.2" r="7.6"/><circle class="tp" cx="894.9" cy="2191.0" r="7.6"/><circle class="tp" cx="828.7" cy="2213.7" r="7.6"/><circle class="ty" cx="871.3" cy="2254.3" r="7.6"/><circle class="tp" cx="897.5" cy="2239.5" r="7.6"/><circle class="tp" cx="905.2" cy="2255.8" r="7.6"/><circle class="tp" cx="912.8" cy="2176.1" r="7.6"/><circle class="tp" cx="915.0" cy="2189.2" r="7.6"/><circle class="ty" cx="932.5" cy="2186.6" r="7.6"/><circle class="tb" cx="1057.2" cy="2154.3" r="7.6"/><circle class="tb" cx="987.5" cy="2162.3" r="7.6"/><circle class="tp" cx="1001.0" cy="2175.8" r="7.6"/><circle class="tb" cx="966.8" cy="2168.0" r="7.6"/><circle class="tb" cx="946.6" cy="2173.2" r="7.6"/><circle class="ty" cx="1008.0" cy="2188.7" r="7.6"/><circle class="tp" cx="1033.3" cy="2190.0" r="7.6"/><circle class="tp" cx="1034.6" cy="2192.6" r="7.6"/><circle class="ty" cx="1041.1" cy="2206.9" r="7.6"/><circle class="tp" cx="1075.3" cy="2184.9" r="7.6"/><circle class="ty" cx="1072.2" cy="2209.4" r="7.6"/><circle class="ty" cx="1107.1" cy="2206.9" r="7.6"/><circle class="tp" cx="1108.4" cy="2214.6" r="7.6"/><circle class="ty" cx="1129.9" cy="2225.5" r="7.6"/><circle class="ty" cx="1047.6" cy="2228.1" r="7.6"/><circle class="tp" cx="1026.9" cy="2227.6" r="7.6"/><circle class="ty" cx="1025.6" cy="2235.3" r="7.6"/><circle class="tp" cx="1068.3" cy="2235.3" r="7.6"/><circle class="tp" cx="1072.2" cy="2227.6" r="7.6"/><circle class="ty" cx="1105.0" cy="2242.3" r="7.6"/><circle class="ty" cx="1108.4" cy="2258.6" r="7.6"/><circle class="tp" cx="1086.4" cy="2261.2" r="7.6"/><circle class="tp" cx="1143.4" cy="2270.3" r="7.6"/><circle class="ty" cx="1153.2" cy="2278.0" r="7.6"/><circle class="ty" cx="1050.2" cy="2258.6" r="7.6"/><circle class="ty" cx="1032.6" cy="2245.7" r="7.6"/><circle class="tp" cx="984.1" cy="2204.3" r="7.6"/><circle class="tp" cx="980.3" cy="2186.1" r="7.6"/><circle class="tb" cx="960.8" cy="2214.6" r="7.6"/><circle class="tp" cx="942.7" cy="2204.3" r="7.6"/><circle class="ty" cx="933.7" cy="2186.1" r="7.6"/><circle class="tp" cx="915.5" cy="2188.7" r="7.6"/><circle class="tp" cx="912.9" cy="2175.8" r="7.6"/><circle class="ty" cx="871.1" cy="2253.9" r="7.6"/><circle class="tb" cx="897.9" cy="2315.0" r="7.6"/><circle class="tp" cx="911.0" cy="2331.7" r="7.6"/><circle class="tp" cx="930.5" cy="2309.8" r="7.6"/><circle class="tp" cx="951.8" cy="2320.9" r="7.6"/><circle class="tp" cx="962.0" cy="2310.7" r="7.6"/><circle class="ty" cx="964.3" cy="2325.8" r="7.6"/><circle class="tp" cx="975.1" cy="2352.9" r="7.6"/><circle class="tb" cx="1004.8" cy="2313.6" r="7.6"/><circle class="ty" cx="1012.9" cy="2359.6" r="7.6"/><circle class="ty" cx="1026.0" cy="2334.0" r="7.6"/><circle class="tp" cx="1029.0" cy="2319.4" r="7.6"/><circle class="ty" cx="1056.6" cy="2321.8" r="7.6"/><circle class="ty" cx="1074.1" cy="2318.0" r="7.6"/><circle class="ty" cx="1088.7" cy="2320.3" r="7.6"/><circle class="ty" cx="1068.3" cy="2304.9" r="7.6"/><circle class="ty" cx="1085.7" cy="2304.3" r="7.6"/><circle class="ty" cx="1080.5" cy="2358.2" r="7.6"/><circle class="ty" cx="1152.7" cy="2303.4" r="7.6"/><circle class="ty" cx="1155.6" cy="2320.9" r="7.6"/><circle class="ty" cx="1164.4" cy="2318.8" r="7.6"/><circle class="ty" cx="1168.8" cy="2318.0" r="7.6"/><circle class="ty" cx="1185.4" cy="2337.5" r="7.6"/><circle class="ty" cx="1197.9" cy="2378.6" r="7.6"/><circle class="ty" cx="1163.0" cy="2294.7" r="7.6"/><circle class="tp" cx="1143.1" cy="2269.9" r="7.6"/><circle class="ty" cx="1152.7" cy="2282.1" r="7.6"/><circle class="tp" cx="1107.6" cy="2294.1" r="7.6"/><circle class="ty" cx="1090.1" cy="2278.6" r="7.6"/><circle class="ty" cx="1098.9" cy="2285.9" r="7.6"/><circle class="ty" cx="1109.0" cy="2258.3" r="7.6"/><circle class="ty" cx="1105.6" cy="2242.2" r="7.6"/><circle class="ty" cx="1130.0" cy="2225.6" r="7.6"/><circle class="ty" cx="1042.0" cy="2207.3" r="7.6"/><circle class="ty" cx="1047.9" cy="2228.3" r="7.6"/><circle class="ty" cx="1072.6" cy="2210.2" r="7.6"/><circle class="tp" cx="1069.7" cy="2235.0" r="7.6"/><circle class="tp" cx="1075.6" cy="2229.1" r="7.6"/><circle class="ty" cx="1050.8" cy="2259.7" r="7.6"/><circle class="ty" cx="1039.1" cy="2277.2" r="7.6"/><circle class="tp" cx="1036.2" cy="2287.4" r="7.6"/><circle class="tp" cx="1033.3" cy="2299.0" r="7.6"/><circle class="tp" cx="1029.0" cy="2309.2" r="7.6"/><circle class="tp" cx="1052.3" cy="2294.7" r="7.6"/><circle class="ty" cx="1047.9" cy="2293.2" r="7.6"/><circle class="tb" cx="1030.4" cy="2265.5" r="7.6"/><circle class="ty" cx="1011.5" cy="2277.2" r="7.6"/><circle class="ty" cx="1008.6" cy="2278.6" r="7.6"/><circle class="tp" cx="1012.9" cy="2258.3" r="7.6"/><circle class="tp" cx="989.6" cy="2278.6" r="7.6"/><circle class="tb" cx="999.2" cy="2287.4" r="7.6"/><circle class="ty" cx="965.7" cy="2281.0" r="7.6"/><circle class="ty" cx="966.3" cy="2267.0" r="7.6"/><circle class="ty" cx="959.0" cy="2256.8" r="7.6"/><circle class="tp" cx="931.4" cy="2285.9" r="7.6"/><circle class="tp" cx="929.9" cy="2261.2" r="7.6"/><circle class="ty" cx="935.7" cy="2269.9" r="7.6"/><circle class="tp" cx="904.3" cy="2254.8" r="7.6"/><circle class="tp" cx="897.3" cy="2239.3" r="7.6"/><circle class="tp" cx="908.1" cy="2240.8" r="7.6"/><circle class="ty" cx="988.2" cy="2251.0" r="7.6"/><circle class="ty" cx="996.9" cy="2252.4" r="7.6"/><circle class="ty" cx="1031.9" cy="2243.7" r="7.6"/><circle class="tp" cx="1027.5" cy="2233.5" r="7.6"/><circle class="tp" cx="1024.6" cy="2227.7" r="7.6"/><circle class="ty" cx="1049.3" cy="2226.2" r="7.6"/><circle class="tp" cx="1002.7" cy="2221.8" r="7.6"/><circle class="tp" cx="985.3" cy="2205.8" r="7.6"/><circle class="tp" cx="947.4" cy="2205.8" r="7.6"/><circle class="tb" cx="962.0" cy="2214.6" r="7.6"/><circle class="tp" cx="956.1" cy="2220.4" r="7.6"/><circle class="tp" cx="976.5" cy="2236.4" r="7.6"/><circle class="tp" cx="912.4" cy="2208.7" r="7.6"/><circle class="ty" cx="900.8" cy="2223.3" r="7.6"/><circle class="tb" cx="929.9" cy="2232.0" r="7.6"/><circle class="ty" cx="1010.0" cy="2220.4" r="7.6"/><circle class="ty" cx="1007.1" cy="2239.3" r="7.6"/><circle class="tp" cx="829.2" cy="2213.4" r="7.6"/><circle class="ty" cx="870.8" cy="2253.5" r="7.6"/><circle class="tp" cx="955.0" cy="2238.0" r="7.6"/><circle class="tp" cx="1000.0" cy="2265.0" r="7.6"/><circle class="ty" cx="944.0" cy="2290.0" r="7.6"/><circle class="tp" cx="990.0" cy="2300.0" r="7.6"/><circle class="ty" cx="1010.0" cy="2296.0" r="7.6"/><circle class="tb" cx="940.0" cy="2250.0" r="7.6"/>
<line x1="704" y1="2158.6" x2="1198" y2="2295.5" stroke="#000" stroke-width="3"/>
<clipPath id="cpA1"><rect x="816.3" y="1312" width="202.4000000000001" height="260.70000000000005"/></clipPath>
<g clip-path="url(#cpA1)">
<rect x="816.3" y="1312" width="202.4000000000001" height="260.70000000000005" fill="#060606"/>
<ellipse cx="918.4" cy="1441.5" rx="97" ry="122.5" transform="rotate(4 918.4 1441.5)" fill="#2a2a2a" stroke="#c8c8c8" stroke-width="4.5"/>
<ellipse cx="918.4" cy="1441.5" rx="92.5" ry="118.0" transform="rotate(4 918.4 1441.5)" fill="none" stroke="#888" stroke-width="1.5"/>
<ellipse cx="918.4" cy="1441.5" rx="90" ry="115.5" transform="rotate(4 918.4 1441.5)" fill="#1a1a1a"/>
<ellipse cx="918.4" cy="1442.5" rx="86" ry="111.5" transform="rotate(4 918.4 1441.5)" fill="#7e7e7e"/>
<ellipse cx="918.4" cy="1442.5" rx="80" ry="105.5" transform="rotate(4 918.4 1441.5)" fill="none" stroke="#5e5e5e" stroke-width="12" opacity="0.75"/>
<path d="M1004.1 1449.1 Q998.0 1429.6 990.5 1456.4 T976.9 1460.6" fill="none" stroke="#262626" stroke-width="2.6" stroke-linecap="round"/><path d="M990.5 1456.4 Q984.8 1441.6 983.7 1427.2" fill="none" stroke="#2e2e2e" stroke-width="1.8" stroke-linecap="round"/><path d="M1003.3 1456.6 Q998.9 1441.0 992.0 1456.8 T982.3 1436.6" fill="none" stroke="#262626" stroke-width="2.0" stroke-linecap="round"/><path d="M1000.7 1470.7 Q991.4 1479.5 990.6 1454.4 T975.3 1465.5" fill="none" stroke="#262626" stroke-width="1.8" stroke-linecap="round"/><path d="M998.0 1480.3 Q989.3 1491.0 985.1 1489.6 T977.6 1484.6" fill="none" stroke="#262626" stroke-width="2.0" stroke-linecap="round"/><path d="M991.6 1496.6 Q981.9 1505.5 978.2 1503.1 T981.5 1476.2" fill="none" stroke="#262626" stroke-width="2.2" stroke-linecap="round"/><path d="M978.2 1503.1 Q980.8 1490.9 985.5 1475.0" fill="none" stroke="#2e2e2e" stroke-width="1.8" stroke-linecap="round"/><path d="M986.4 1506.7 Q971.8 1516.6 974.3 1502.7 T974.1 1477.1" fill="none" stroke="#262626" stroke-width="2.3" stroke-linecap="round"/><path d="M974.3 1502.7 Q966.9 1502.3 963.4 1504.7" fill="none" stroke="#2e2e2e" stroke-width="1.8" stroke-linecap="round"/><path d="M977.4 1519.8 Q964.2 1522.6 969.8 1504.0 T959.5 1491.8" fill="none" stroke="#262626" stroke-width="2.4" stroke-linecap="round"/><path d="M969.8 1504.0 Q970.9 1497.5 970.5 1485.5" fill="none" stroke="#2e2e2e" stroke-width="1.8" stroke-linecap="round"/><path d="M976.5 1520.9 Q961.2 1529.5 964.9 1519.2 T965.4 1503.7" fill="none" stroke="#262626" stroke-width="2.1" stroke-linecap="round"/><path d="M964.9 1519.2 Q956.4 1522.8 953.5 1521.2" fill="none" stroke="#2e2e2e" stroke-width="1.8" stroke-linecap="round"/><path d="M969.3 1528.9 Q957.7 1531.7 961.6 1521.2 T948.5 1517.6" fill="none" stroke="#262626" stroke-width="2.5" stroke-linecap="round"/><path d="M961.6 1521.2 Q957.9 1522.2 950.6 1521.6" fill="none" stroke="#2e2e2e" stroke-width="1.8" stroke-linecap="round"/><path d="M955.4 1540.3 Q967.2 1523.5 951.8 1529.4 T941.9 1522.2" fill="none" stroke="#262626" stroke-width="2.3" stroke-linecap="round"/><path d="M951.8 1529.4 Q956.0 1519.3 962.1 1512.2" fill="none" stroke="#2e2e2e" stroke-width="1.8" stroke-linecap="round"/><path d="M947.1 1545.1 Q935.3 1544.6 933.7 1539.8 T938.1 1527.5" fill="none" stroke="#262626" stroke-width="2.0" stroke-linecap="round"/><path d="M938.8 1548.7 Q949.0 1538.6 927.7 1541.4 T937.4 1528.1" fill="none" stroke="#262626" stroke-width="1.9" stroke-linecap="round"/><path d="M932.0 1550.8 Q915.4 1546.2 919.1 1539.3 T919.6 1525.9" fill="none" stroke="#262626" stroke-width="2.5" stroke-linecap="round"/><path d="M919.1 1539.3 Q918.2 1533.2 918.5 1531.3" fill="none" stroke="#2e2e2e" stroke-width="1.8" stroke-linecap="round"/><path d="M921.5 1552.6 Q906.6 1542.8 911.2 1533.9 T917.6 1515.2" fill="none" stroke="#262626" stroke-width="2.0" stroke-linecap="round"/><path d="M911.2 1533.9 Q913.7 1527.4 912.6 1522.7" fill="none" stroke="#2e2e2e" stroke-width="1.8" stroke-linecap="round"/><path d="M909.7 1552.7 Q895.2 1545.0 915.0 1543.6 T909.5 1534.0" fill="none" stroke="#262626" stroke-width="2.1" stroke-linecap="round"/><path d="M898.9 1550.8 Q912.0 1543.5 905.5 1533.4 T912.7 1515.7" fill="none" stroke="#262626" stroke-width="2.6" stroke-linecap="round"/><path d="M905.5 1533.4 Q901.3 1526.4 893.3 1517.7" fill="none" stroke="#2e2e2e" stroke-width="1.8" stroke-linecap="round"/><path d="M888.8 1547.4 Q880.4 1536.3 889.0 1534.2 T889.5 1520.9" fill="none" stroke="#262626" stroke-width="2.6" stroke-linecap="round"/><path d="M881.0 1543.5 Q892.8 1539.2 878.7 1520.5 T893.2 1509.1" fill="none" stroke="#262626" stroke-width="2.2" stroke-linecap="round"/><path d="M876.1 1540.5 Q869.0 1529.0 876.3 1529.3 T885.6 1524.6" fill="none" stroke="#262626" stroke-width="2.4" stroke-linecap="round"/><path d="M868.1 1534.2 Q880.5 1532.6 882.1 1522.8 T883.6 1501.3" fill="none" stroke="#262626" stroke-width="2.5" stroke-linecap="round"/><path d="M862.3 1528.7 Q872.9 1530.0 874.1 1522.7 T885.5 1515.6" fill="none" stroke="#262626" stroke-width="2.8" stroke-linecap="round"/><path d="M874.1 1522.7 Q877.7 1522.4 883.1 1520.2" fill="none" stroke="#2e2e2e" stroke-width="1.8" stroke-linecap="round"/><path d="M855.2 1520.1 Q851.1 1504.9 858.1 1507.5 T870.0 1507.7" fill="none" stroke="#262626" stroke-width="2.1" stroke-linecap="round"/><path d="M858.1 1507.5 Q867.6 1516.6 876.5 1520.1" fill="none" stroke="#2e2e2e" stroke-width="1.8" stroke-linecap="round"/><path d="M846.2 1505.6 Q842.7 1484.2 856.6 1503.6 T861.5 1491.5" fill="none" stroke="#262626" stroke-width="2.6" stroke-linecap="round"/><path d="M856.6 1503.6 Q852.5 1491.2 852.5 1480.2" fill="none" stroke="#2e2e2e" stroke-width="1.8" stroke-linecap="round"/><path d="M841.7 1495.9 Q851.3 1505.4 853.5 1499.9 T862.7 1497.4" fill="none" stroke="#262626" stroke-width="2.1" stroke-linecap="round"/><path d="M837.6 1483.9 Q838.8 1467.2 843.9 1468.7 T854.7 1472.5" fill="none" stroke="#262626" stroke-width="2.0" stroke-linecap="round"/><path d="M843.9 1468.7 Q848.3 1463.1 848.5 1461.6" fill="none" stroke="#2e2e2e" stroke-width="1.8" stroke-linecap="round"/><path d="M834.6 1471.4 Q843.9 1482.0 848.1 1472.4 T860.9 1470.0" fill="none" stroke="#262626" stroke-width="2.8" stroke-linecap="round"/><path d="M848.1 1472.4 Q847.6 1463.6 852.8 1452.8" fill="none" stroke="#2e2e2e" stroke-width="1.8" stroke-linecap="round"/><path d="M832.5 1454.3 Q836.7 1443.0 842.9 1466.6 T851.6 1464.3" fill="none" stroke="#262626" stroke-width="2.3" stroke-linecap="round"/><path d="M842.9 1466.6 Q843.4 1447.7 847.1 1431.6" fill="none" stroke="#2e2e2e" stroke-width="1.8" stroke-linecap="round"/><path d="M832.4 1452.6 Q839.8 1436.2 847.4 1456.4 T861.4 1445.7" fill="none" stroke="#262626" stroke-width="2.7" stroke-linecap="round"/><path d="M833.1 1430.2 Q839.4 1413.8 839.3 1442.6 T846.4 1440.2" fill="none" stroke="#262626" stroke-width="2.5" stroke-linecap="round"/><path d="M839.3 1442.6 Q844.6 1429.8 846.9 1415.8" fill="none" stroke="#2e2e2e" stroke-width="1.8" stroke-linecap="round"/><path d="M833.2 1429.2 Q836.8 1440.5 841.8 1431.8 T853.3 1417.3" fill="none" stroke="#262626" stroke-width="2.6" stroke-linecap="round"/><path d="M841.8 1431.8 Q848.7 1420.9 851.5 1410.3" fill="none" stroke="#2e2e2e" stroke-width="1.8" stroke-linecap="round"/><path d="M837.1 1408.6 Q840.2 1424.0 852.3 1402.7 T860.4 1419.2" fill="none" stroke="#262626" stroke-width="1.8" stroke-linecap="round"/><path d="M840.3 1398.1 Q841.5 1415.6 850.9 1404.8 T860.1 1415.8" fill="none" stroke="#262626" stroke-width="2.3" stroke-linecap="round"/><path d="M850.9 1404.8 Q857.0 1399.3 864.1 1393.2" fill="none" stroke="#2e2e2e" stroke-width="1.8" stroke-linecap="round"/><path d="M842.2 1393.2 Q842.6 1412.7 851.1 1406.3 T860.5 1419.5" fill="none" stroke="#262626" stroke-width="1.8" stroke-linecap="round"/><path d="M853.0 1372.1 Q852.8 1388.2 867.0 1379.6 T869.3 1406.8" fill="none" stroke="#262626" stroke-width="2.4" stroke-linecap="round"/><path d="M857.7 1365.4 Q854.0 1378.5 860.0 1377.1 T877.9 1369.2" fill="none" stroke="#262626" stroke-width="2.0" stroke-linecap="round"/><path d="M859.9 1362.6 Q855.6 1376.6 866.6 1369.2 T874.8 1374.3" fill="none" stroke="#262626" stroke-width="2.4" stroke-linecap="round"/><path d="M866.6 1369.2 Q872.5 1365.0 882.8 1361.6" fill="none" stroke="#2e2e2e" stroke-width="1.8" stroke-linecap="round"/><path d="M869.4 1352.3 Q886.1 1347.9 875.8 1364.4 T892.1 1368.7" fill="none" stroke="#262626" stroke-width="1.9" stroke-linecap="round"/><path d="M875.8 1364.4 Q885.3 1363.4 894.1 1361.0" fill="none" stroke="#2e2e2e" stroke-width="1.8" stroke-linecap="round"/><path d="M877.2 1345.7 Q867.8 1362.9 877.8 1362.0 T893.6 1366.7" fill="none" stroke="#262626" stroke-width="2.7" stroke-linecap="round"/><path d="M877.8 1362.0 Q887.5 1361.9 894.6 1359.9" fill="none" stroke="#2e2e2e" stroke-width="1.8" stroke-linecap="round"/><path d="M884.2 1340.9 Q895.9 1343.2 880.9 1360.7 T885.6 1375.1" fill="none" stroke="#262626" stroke-width="2.7" stroke-linecap="round"/><path d="M880.9 1360.7 Q890.8 1360.2 900.3 1359.2" fill="none" stroke="#2e2e2e" stroke-width="1.8" stroke-linecap="round"/><path d="M896.3 1335.0 Q884.9 1350.0 909.2 1348.8 T901.6 1368.9" fill="none" stroke="#262626" stroke-width="1.9" stroke-linecap="round"/><path d="M906.8 1331.7 Q897.0 1340.4 912.6 1341.8 T905.7 1354.3" fill="none" stroke="#262626" stroke-width="2.7" stroke-linecap="round"/><path d="M919.6 1330.1 Q934.1 1337.8 924.5 1342.9 T915.5 1355.8" fill="none" stroke="#262626" stroke-width="2.2" stroke-linecap="round"/><path d="M926.4 1330.3 Q934.3 1338.9 926.9 1345.3 T930.2 1360.8" fill="none" stroke="#262626" stroke-width="1.8" stroke-linecap="round"/><path d="M926.9 1345.3 Q923.9 1349.6 916.2 1354.1" fill="none" stroke="#2e2e2e" stroke-width="1.8" stroke-linecap="round"/><path d="M938.4 1332.3 Q948.0 1340.3 936.1 1340.8 T945.9 1353.7" fill="none" stroke="#262626" stroke-width="2.3" stroke-linecap="round"/><path d="M936.1 1340.8 Q933.4 1344.9 926.2 1344.6" fill="none" stroke="#2e2e2e" stroke-width="1.8" stroke-linecap="round"/><path d="M944.8 1334.3 Q955.5 1347.3 932.9 1345.8 T945.5 1365.6" fill="none" stroke="#262626" stroke-width="1.8" stroke-linecap="round"/><path d="M952.6 1337.7 Q937.4 1340.5 943.8 1351.3 T932.3 1364.5" fill="none" stroke="#262626" stroke-width="2.3" stroke-linecap="round"/><path d="M959.2 1341.5 Q948.9 1344.3 949.3 1353.1 T951.5 1372.2" fill="none" stroke="#262626" stroke-width="2.5" stroke-linecap="round"/><path d="M971.9 1351.7 Q975.4 1365.7 971.5 1371.5 T961.3 1380.3" fill="none" stroke="#262626" stroke-width="2.2" stroke-linecap="round"/><path d="M971.5 1371.5 Q967.8 1376.4 967.3 1379.2" fill="none" stroke="#2e2e2e" stroke-width="1.8" stroke-linecap="round"/><path d="M981.2 1362.3 Q968.2 1357.9 971.4 1371.9 T971.1 1395.9" fill="none" stroke="#262626" stroke-width="2.3" stroke-linecap="round"/><path d="M982.3 1363.9 Q989.2 1383.2 982.0 1378.0 T977.7 1386.3" fill="none" stroke="#262626" stroke-width="2.5" stroke-linecap="round"/><path d="M982.0 1378.0 Q980.8 1382.0 979.9 1383.9" fill="none" stroke="#2e2e2e" stroke-width="1.8" stroke-linecap="round"/><path d="M991.1 1378.4 Q992.1 1395.4 985.2 1393.3 T965.9 1382.5" fill="none" stroke="#262626" stroke-width="2.4" stroke-linecap="round"/><path d="M997.2 1392.7 Q987.4 1381.1 991.2 1402.9 T983.3 1406.8" fill="none" stroke="#262626" stroke-width="1.9" stroke-linecap="round"/><path d="M991.2 1402.9 Q988.8 1394.2 980.5 1389.6" fill="none" stroke="#2e2e2e" stroke-width="1.8" stroke-linecap="round"/><path d="M997.4 1393.5 Q995.6 1411.3 987.0 1403.7 T973.8 1405.8" fill="none" stroke="#262626" stroke-width="2.4" stroke-linecap="round"/><path d="M987.0 1403.7 Q982.0 1395.3 972.0 1389.1" fill="none" stroke="#2e2e2e" stroke-width="1.8" stroke-linecap="round"/><path d="M1001.8 1409.8 Q997.5 1427.1 987.2 1407.3 T973.1 1408.5" fill="none" stroke="#262626" stroke-width="2.6" stroke-linecap="round"/><path d="M987.2 1407.3 Q982.9 1416.5 983.0 1430.8" fill="none" stroke="#2e2e2e" stroke-width="1.8" stroke-linecap="round"/><path d="M1003.4 1419.2 Q997.3 1407.1 995.6 1419.1 T988.8 1425.9" fill="none" stroke="#262626" stroke-width="2.3" stroke-linecap="round"/><path d="M995.6 1419.1 Q993.6 1412.9 987.0 1402.0" fill="none" stroke="#2e2e2e" stroke-width="1.8" stroke-linecap="round"/><path d="M1004.3 1429.3 Q995.4 1411.1 991.2 1427.7 T978.8 1441.3" fill="none" stroke="#262626" stroke-width="2.5" stroke-linecap="round"/>
<ellipse cx="868.6" cy="1403.5" rx="6.3" ry="3.3" transform="rotate(172 868.6 1403.5)" fill="#555" opacity="0.6"/><ellipse cx="915.3" cy="1357.1" rx="4.1" ry="3.6" transform="rotate(69 915.3 1357.1)" fill="#555" opacity="0.6"/><ellipse cx="948.6" cy="1490.1" rx="3.7" ry="2.5" transform="rotate(122 948.6 1490.1)" fill="#555" opacity="0.6"/><ellipse cx="903.3" cy="1502.5" rx="6.1" ry="3.1" transform="rotate(5 903.3 1502.5)" fill="#555" opacity="0.6"/><ellipse cx="965.0" cy="1465.3" rx="4.4" ry="3.7" transform="rotate(171 965.0 1465.3)" fill="#555" opacity="0.6"/><ellipse cx="881.0" cy="1394.1" rx="4.7" ry="2.7" transform="rotate(59 881.0 1394.1)" fill="#555" opacity="0.6"/><ellipse cx="980.0" cy="1452.1" rx="6.3" ry="3.5" transform="rotate(17 980.0 1452.1)" fill="#555" opacity="0.6"/><ellipse cx="868.6" cy="1425.3" rx="5.8" ry="2.9" transform="rotate(169 868.6 1425.3)" fill="#555" opacity="0.6"/><ellipse cx="936.7" cy="1379.9" rx="4.3" ry="3.8" transform="rotate(83 936.7 1379.9)" fill="#555" opacity="0.6"/><ellipse cx="862.7" cy="1468.3" rx="6.1" ry="3.9" transform="rotate(96 862.7 1468.3)" fill="#555" opacity="0.6"/><ellipse cx="980.9" cy="1430.4" rx="3.4" ry="3.6" transform="rotate(76 980.9 1430.4)" fill="#555" opacity="0.6"/><ellipse cx="984.8" cy="1476.6" rx="3.1" ry="3.2" transform="rotate(87 984.8 1476.6)" fill="#555" opacity="0.6"/><ellipse cx="964.1" cy="1394.2" rx="3.9" ry="2.6" transform="rotate(36 964.1 1394.2)" fill="#555" opacity="0.6"/><ellipse cx="868.3" cy="1409.9" rx="6.0" ry="2.5" transform="rotate(63 868.3 1409.9)" fill="#555" opacity="0.6"/><ellipse cx="912.6" cy="1535.5" rx="6.4" ry="3.7" transform="rotate(111 912.6 1535.5)" fill="#555" opacity="0.6"/><ellipse cx="874.4" cy="1477.1" rx="6.3" ry="3.0" transform="rotate(7 874.4 1477.1)" fill="#555" opacity="0.6"/><ellipse cx="938.5" cy="1499.6" rx="5.9" ry="3.8" transform="rotate(36 938.5 1499.6)" fill="#555" opacity="0.6"/><ellipse cx="939.4" cy="1373.8" rx="5.7" ry="3.7" transform="rotate(112 939.4 1373.8)" fill="#555" opacity="0.6"/><ellipse cx="941.0" cy="1372.7" rx="3.0" ry="3.0" transform="rotate(106 941.0 1372.7)" fill="#555" opacity="0.6"/><ellipse cx="936.4" cy="1511.1" rx="4.3" ry="2.1" transform="rotate(56 936.4 1511.1)" fill="#555" opacity="0.6"/><ellipse cx="870.7" cy="1490.2" rx="5.8" ry="2.8" transform="rotate(177 870.7 1490.2)" fill="#555" opacity="0.6"/><ellipse cx="952.7" cy="1359.2" rx="5.8" ry="3.3" transform="rotate(97 952.7 1359.2)" fill="#555" opacity="0.6"/><ellipse cx="940.3" cy="1372.8" rx="5.4" ry="3.4" transform="rotate(94 940.3 1372.8)" fill="#555" opacity="0.6"/><ellipse cx="903.6" cy="1503.1" rx="3.3" ry="2.7" transform="rotate(104 903.6 1503.1)" fill="#555" opacity="0.6"/><ellipse cx="928.3" cy="1356.9" rx="4.2" ry="3.9" transform="rotate(49 928.3 1356.9)" fill="#555" opacity="0.6"/><ellipse cx="912.4" cy="1378.6" rx="6.0" ry="3.3" transform="rotate(172 912.4 1378.6)" fill="#555" opacity="0.6"/><ellipse cx="973.7" cy="1394.5" rx="6.4" ry="3.5" transform="rotate(110 973.7 1394.5)" fill="#555" opacity="0.6"/><ellipse cx="928.6" cy="1518.4" rx="6.6" ry="2.5" transform="rotate(175 928.6 1518.4)" fill="#555" opacity="0.6"/><ellipse cx="864.7" cy="1417.4" rx="3.0" ry="2.8" transform="rotate(32 864.7 1417.4)" fill="#555" opacity="0.6"/><ellipse cx="883.4" cy="1363.9" rx="6.6" ry="3.2" transform="rotate(70 883.4 1363.9)" fill="#555" opacity="0.6"/>
<path d="M926.2 1330.3 L918.4 1386.4" stroke="#2a2a2a" stroke-width="2.2"/>
<path d="M918.4 1484.4 L910.6 1552.7" stroke="#2a2a2a" stroke-width="2.2"/>
<path d="M899 1388 L914 1398 L919 1404 L924 1398 L939 1388 L933 1410 L925 1420 L921 1430 L917 1430 L913 1420 L905 1410 Z" fill="#141414"/>
<path d="M908 1448 L916 1455 L912 1470 L896 1478 L891 1472 L900 1462 Z" fill="#141414"/>
<path d="M926 1442 L935 1452 L948 1470 L946 1478 L934 1470 L924 1455 Z" fill="#141414"/>
</g>
<rect x="816.3" y="1312" width="202.4000000000001" height="260.70000000000005" fill="none" stroke="#C8541E" stroke-width="2.8"/>
<clipPath id="cpA2"><rect x="816.3" y="1618.9" width="202.4000000000001" height="263.29999999999995"/></clipPath>
<g clip-path="url(#cpA2)">
<rect x="816.3" y="1618.9" width="202.4000000000001" height="263.29999999999995" fill="#060606"/>
<ellipse cx="917.1" cy="1749.2" rx="98.2" ry="127.8" transform="rotate(0 917.1 1749.2)" fill="#2a2a2a" stroke="#c8c8c8" stroke-width="4.5"/>
<ellipse cx="917.1" cy="1749.2" rx="93.7" ry="123.3" transform="rotate(0 917.1 1749.2)" fill="none" stroke="#888" stroke-width="1.5"/>
<ellipse cx="917.1" cy="1749.2" rx="91.2" ry="120.8" transform="rotate(0 917.1 1749.2)" fill="#1a1a1a"/>
<ellipse cx="917.1" cy="1750.2" rx="87.2" ry="116.8" transform="rotate(0 917.1 1749.2)" fill="#8c8c8c"/>
<ellipse cx="917.1" cy="1750.2" rx="81.2" ry="110.8" transform="rotate(0 917.1 1749.2)" fill="none" stroke="#5e5e5e" stroke-width="12" opacity="0.75"/>
<path d="M1004.3 1748.7 Q998.6 1734.0 993.9 1737.5 T983.8 1762.0" fill="none" stroke="#262626" stroke-width="2.3" stroke-linecap="round"/><path d="M1003.8 1762.1 Q997.0 1742.8 988.9 1765.8 T974.5 1765.0" fill="none" stroke="#262626" stroke-width="2.3" stroke-linecap="round"/><path d="M1002.2 1774.8 Q999.8 1754.0 995.0 1760.1 T984.9 1769.8" fill="none" stroke="#262626" stroke-width="2.2" stroke-linecap="round"/><path d="M999.2 1788.7 Q988.2 1805.5 989.0 1789.6 T979.4 1788.0" fill="none" stroke="#262626" stroke-width="2.6" stroke-linecap="round"/><path d="M993.2 1806.3 Q995.2 1784.2 989.3 1787.2 T973.3 1800.1" fill="none" stroke="#262626" stroke-width="1.9" stroke-linecap="round"/><path d="M989.3 1787.2 Q980.2 1798.6 974.2 1807.3" fill="none" stroke="#2e2e2e" stroke-width="1.8" stroke-linecap="round"/><path d="M984.0 1824.1 Q987.0 1801.2 979.1 1799.9 T957.5 1805.2" fill="none" stroke="#262626" stroke-width="2.0" stroke-linecap="round"/><path d="M979.1 1799.9 Q977.7 1797.3 971.3 1794.6" fill="none" stroke="#2e2e2e" stroke-width="1.8" stroke-linecap="round"/><path d="M978.2 1832.5 Q983.0 1813.6 975.1 1815.1 T969.8 1799.8" fill="none" stroke="#262626" stroke-width="1.9" stroke-linecap="round"/><path d="M972.9 1839.0 Q979.2 1819.6 956.9 1835.0 T965.9 1804.1" fill="none" stroke="#262626" stroke-width="2.5" stroke-linecap="round"/><path d="M964.9 1846.9 Q971.3 1828.6 959.1 1829.9 T941.2 1822.2" fill="none" stroke="#262626" stroke-width="1.8" stroke-linecap="round"/><path d="M959.1 1829.9 Q959.4 1821.8 964.4 1809.2" fill="none" stroke="#2e2e2e" stroke-width="1.8" stroke-linecap="round"/><path d="M951.8 1856.4 Q960.2 1844.0 954.7 1841.6 T933.1 1840.4" fill="none" stroke="#262626" stroke-width="2.4" stroke-linecap="round"/><path d="M954.7 1841.6 Q955.0 1836.1 955.9 1832.7" fill="none" stroke="#2e2e2e" stroke-width="1.8" stroke-linecap="round"/><path d="M943.8 1860.4 Q952.4 1847.2 948.5 1840.8 T929.5 1832.4" fill="none" stroke="#262626" stroke-width="2.4" stroke-linecap="round"/><path d="M948.5 1840.8 Q934.7 1841.9 923.8 1840.0" fill="none" stroke="#2e2e2e" stroke-width="1.8" stroke-linecap="round"/><path d="M929.3 1864.9 Q912.5 1859.9 917.2 1854.2 T929.5 1841.0" fill="none" stroke="#262626" stroke-width="2.4" stroke-linecap="round"/><path d="M917.2 1854.2 Q919.1 1849.3 916.9 1847.2" fill="none" stroke="#2e2e2e" stroke-width="1.8" stroke-linecap="round"/><path d="M921.8 1865.8 Q934.1 1853.7 928.1 1845.3 T909.9 1826.2" fill="none" stroke="#262626" stroke-width="1.8" stroke-linecap="round"/><path d="M928.1 1845.3 Q930.1 1835.4 934.5 1831.4" fill="none" stroke="#2e2e2e" stroke-width="1.8" stroke-linecap="round"/><path d="M902.6 1864.4 Q917.8 1859.8 904.6 1852.3 T911.8 1841.0" fill="none" stroke="#262626" stroke-width="2.1" stroke-linecap="round"/><path d="M904.6 1852.3 Q899.8 1848.0 892.6 1840.5" fill="none" stroke="#2e2e2e" stroke-width="1.8" stroke-linecap="round"/><path d="M895.7 1862.4 Q887.1 1848.9 906.3 1846.3 T897.7 1824.3" fill="none" stroke="#262626" stroke-width="2.7" stroke-linecap="round"/><path d="M906.3 1846.3 Q909.1 1838.5 910.3 1835.6" fill="none" stroke="#2e2e2e" stroke-width="1.8" stroke-linecap="round"/><path d="M881.0 1855.5 Q871.3 1841.7 895.4 1850.2 T896.7 1838.6" fill="none" stroke="#262626" stroke-width="2.3" stroke-linecap="round"/><path d="M895.4 1850.2 Q883.4 1836.9 874.3 1828.9" fill="none" stroke="#2e2e2e" stroke-width="1.8" stroke-linecap="round"/><path d="M872.1 1849.3 Q865.0 1833.0 876.4 1834.7 T885.5 1823.9" fill="none" stroke="#262626" stroke-width="2.3" stroke-linecap="round"/><path d="M867.7 1845.4 Q883.2 1848.0 873.7 1831.4 T885.6 1822.5" fill="none" stroke="#262626" stroke-width="1.9" stroke-linecap="round"/><path d="M855.8 1832.2 Q868.1 1836.9 861.2 1818.9 T880.0 1821.6" fill="none" stroke="#262626" stroke-width="2.7" stroke-linecap="round"/><path d="M861.2 1818.9 Q856.7 1809.4 857.8 1798.7" fill="none" stroke="#2e2e2e" stroke-width="1.8" stroke-linecap="round"/><path d="M847.2 1819.0 Q857.5 1822.7 858.3 1811.4 T874.1 1810.1" fill="none" stroke="#262626" stroke-width="2.6" stroke-linecap="round"/><path d="M858.3 1811.4 Q864.2 1813.2 870.4 1814.5" fill="none" stroke="#2e2e2e" stroke-width="1.8" stroke-linecap="round"/><path d="M844.2 1813.3 Q856.8 1821.0 857.2 1807.7 T862.6 1786.1" fill="none" stroke="#262626" stroke-width="2.2" stroke-linecap="round"/><path d="M857.2 1807.7 Q857.8 1790.6 854.4 1778.2" fill="none" stroke="#2e2e2e" stroke-width="1.8" stroke-linecap="round"/><path d="M837.2 1795.8 Q845.3 1804.5 842.8 1782.9 T857.2 1796.7" fill="none" stroke="#262626" stroke-width="1.9" stroke-linecap="round"/><path d="M842.8 1782.9 Q850.8 1792.7 855.9 1802.8" fill="none" stroke="#2e2e2e" stroke-width="1.8" stroke-linecap="round"/><path d="M832.8 1779.1 Q835.1 1758.3 841.6 1771.7 T854.1 1781.4" fill="none" stroke="#262626" stroke-width="2.5" stroke-linecap="round"/><path d="M841.6 1771.7 Q840.8 1758.8 845.7 1750.8" fill="none" stroke="#2e2e2e" stroke-width="1.8" stroke-linecap="round"/><path d="M830.3 1760.3 Q836.4 1777.8 838.5 1767.2 T844.8 1744.8" fill="none" stroke="#262626" stroke-width="2.5" stroke-linecap="round"/><path d="M838.5 1767.2 Q844.9 1775.7 845.6 1780.8" fill="none" stroke="#2e2e2e" stroke-width="1.8" stroke-linecap="round"/><path d="M830.0 1743.6 Q837.2 1755.1 845.1 1733.5 T859.8 1732.4" fill="none" stroke="#262626" stroke-width="2.2" stroke-linecap="round"/><path d="M845.1 1733.5 Q848.9 1733.5 854.5 1729.4" fill="none" stroke="#2e2e2e" stroke-width="1.8" stroke-linecap="round"/><path d="M830.5 1735.4 Q837.1 1720.4 838.6 1743.8 T847.5 1739.5" fill="none" stroke="#262626" stroke-width="2.0" stroke-linecap="round"/><path d="M838.6 1743.8 Q841.2 1731.4 846.0 1724.8" fill="none" stroke="#2e2e2e" stroke-width="1.8" stroke-linecap="round"/><path d="M832.1 1722.9 Q835.2 1738.9 844.3 1714.0 T855.0 1713.6" fill="none" stroke="#262626" stroke-width="2.2" stroke-linecap="round"/><path d="M837.6 1701.1 Q847.9 1694.7 852.6 1702.6 T860.5 1725.0" fill="none" stroke="#262626" stroke-width="2.5" stroke-linecap="round"/><path d="M852.6 1702.6 Q851.9 1719.6 853.3 1732.7" fill="none" stroke="#2e2e2e" stroke-width="1.8" stroke-linecap="round"/><path d="M841.7 1690.6 Q841.0 1703.9 851.1 1690.0 T852.2 1708.4" fill="none" stroke="#262626" stroke-width="1.8" stroke-linecap="round"/><path d="M845.1 1683.3 Q857.1 1672.1 847.7 1698.6 T852.9 1708.9" fill="none" stroke="#262626" stroke-width="2.2" stroke-linecap="round"/><path d="M855.5 1666.5 Q865.8 1661.5 864.4 1670.0 T864.1 1685.7" fill="none" stroke="#262626" stroke-width="2.7" stroke-linecap="round"/><path d="M866.5 1654.0 Q882.0 1651.9 868.5 1674.2 T875.5 1689.4" fill="none" stroke="#262626" stroke-width="1.8" stroke-linecap="round"/><path d="M868.5 1674.2 Q882.0 1669.1 892.5 1666.8" fill="none" stroke="#2e2e2e" stroke-width="1.8" stroke-linecap="round"/><path d="M870.3 1650.6 Q881.3 1650.5 879.5 1659.7 T875.8 1679.9" fill="none" stroke="#262626" stroke-width="2.5" stroke-linecap="round"/><path d="M879.4 1643.9 Q871.0 1657.4 880.1 1657.1 T889.3 1664.8" fill="none" stroke="#262626" stroke-width="2.1" stroke-linecap="round"/><path d="M890.9 1637.8 Q900.4 1641.6 894.3 1650.8 T905.8 1661.3" fill="none" stroke="#262626" stroke-width="2.4" stroke-linecap="round"/><path d="M894.3 1650.8 Q898.8 1654.8 908.6 1655.2" fill="none" stroke="#2e2e2e" stroke-width="1.8" stroke-linecap="round"/><path d="M904.7 1633.6 Q890.2 1645.6 909.2 1647.2 T919.9 1660.9" fill="none" stroke="#262626" stroke-width="2.8" stroke-linecap="round"/><path d="M909.2 1647.2 Q912.0 1651.0 917.9 1655.2" fill="none" stroke="#2e2e2e" stroke-width="1.8" stroke-linecap="round"/><path d="M917.4 1632.4 Q930.8 1642.6 906.5 1650.8 T921.3 1667.3" fill="none" stroke="#262626" stroke-width="2.8" stroke-linecap="round"/><path d="M906.5 1650.8 Q905.4 1659.3 903.2 1662.1" fill="none" stroke="#2e2e2e" stroke-width="1.8" stroke-linecap="round"/><path d="M930.1 1633.7 Q937.8 1642.4 933.4 1647.6 T922.7 1658.5" fill="none" stroke="#262626" stroke-width="2.2" stroke-linecap="round"/><path d="M939.2 1636.2 Q922.5 1642.4 925.7 1652.6 T924.4 1672.0" fill="none" stroke="#262626" stroke-width="2.5" stroke-linecap="round"/><path d="M953.3 1642.9 Q936.5 1645.1 945.0 1658.9 T946.8 1681.4" fill="none" stroke="#262626" stroke-width="1.8" stroke-linecap="round"/><path d="M957.4 1645.6 Q943.6 1645.2 957.6 1661.6 T955.6 1676.2" fill="none" stroke="#262626" stroke-width="2.3" stroke-linecap="round"/><path d="M957.6 1661.6 Q962.3 1667.6 961.6 1675.5" fill="none" stroke="#2e2e2e" stroke-width="1.8" stroke-linecap="round"/><path d="M966.1 1652.5 Q976.0 1671.0 952.3 1655.0 T957.1 1672.1" fill="none" stroke="#262626" stroke-width="1.9" stroke-linecap="round"/><path d="M976.5 1663.7 Q964.8 1661.7 963.7 1671.3 T955.4 1684.0" fill="none" stroke="#262626" stroke-width="2.4" stroke-linecap="round"/><path d="M985.4 1676.7 Q974.6 1672.4 973.5 1682.5 T972.5 1708.3" fill="none" stroke="#262626" stroke-width="2.8" stroke-linecap="round"/><path d="M973.5 1682.5 Q971.2 1684.7 964.8 1684.3" fill="none" stroke="#2e2e2e" stroke-width="1.8" stroke-linecap="round"/><path d="M991.9 1689.1 Q993.1 1709.7 984.4 1702.4 T966.0 1692.9" fill="none" stroke="#262626" stroke-width="2.7" stroke-linecap="round"/><path d="M984.4 1702.4 Q978.6 1694.3 968.7 1687.8" fill="none" stroke="#2e2e2e" stroke-width="1.8" stroke-linecap="round"/><path d="M998.3 1706.6 Q994.4 1720.6 984.0 1709.4 T972.3 1720.8" fill="none" stroke="#262626" stroke-width="2.8" stroke-linecap="round"/><path d="M984.0 1709.4 Q981.8 1722.9 980.4 1730.7" fill="none" stroke="#2e2e2e" stroke-width="1.8" stroke-linecap="round"/><path d="M1001.1 1717.9 Q991.1 1705.9 985.4 1710.1 T975.2 1722.8" fill="none" stroke="#262626" stroke-width="2.2" stroke-linecap="round"/><path d="M985.4 1710.1 Q985.7 1723.3 983.4 1741.7" fill="none" stroke="#2e2e2e" stroke-width="1.8" stroke-linecap="round"/><path d="M1002.9 1728.7 Q998.0 1745.6 989.7 1726.4 T978.1 1734.4" fill="none" stroke="#262626" stroke-width="2.2" stroke-linecap="round"/>
<ellipse cx="989.1" cy="1733.0" rx="6.9" ry="2.3" transform="rotate(5 989.1 1733.0)" fill="#555" opacity="0.6"/><ellipse cx="904.5" cy="1811.5" rx="3.5" ry="3.2" transform="rotate(36 904.5 1811.5)" fill="#555" opacity="0.6"/><ellipse cx="872.6" cy="1699.5" rx="4.1" ry="3.9" transform="rotate(34 872.6 1699.5)" fill="#555" opacity="0.6"/><ellipse cx="962.7" cy="1693.5" rx="5.7" ry="2.3" transform="rotate(134 962.7 1693.5)" fill="#555" opacity="0.6"/><ellipse cx="958.0" cy="1703.7" rx="4.9" ry="3.3" transform="rotate(85 958.0 1703.7)" fill="#555" opacity="0.6"/><ellipse cx="917.9" cy="1662.4" rx="4.3" ry="3.4" transform="rotate(139 917.9 1662.4)" fill="#555" opacity="0.6"/><ellipse cx="855.4" cy="1768.6" rx="5.5" ry="3.0" transform="rotate(16 855.4 1768.6)" fill="#555" opacity="0.6"/><ellipse cx="860.0" cy="1799.3" rx="5.9" ry="2.1" transform="rotate(86 860.0 1799.3)" fill="#555" opacity="0.6"/><ellipse cx="864.4" cy="1705.8" rx="3.6" ry="3.3" transform="rotate(126 864.4 1705.8)" fill="#555" opacity="0.6"/><ellipse cx="846.4" cy="1727.6" rx="5.3" ry="2.0" transform="rotate(51 846.4 1727.6)" fill="#555" opacity="0.6"/><ellipse cx="902.3" cy="1685.2" rx="6.9" ry="3.4" transform="rotate(138 902.3 1685.2)" fill="#555" opacity="0.6"/><ellipse cx="940.3" cy="1805.7" rx="6.5" ry="3.0" transform="rotate(80 940.3 1805.7)" fill="#555" opacity="0.6"/><ellipse cx="849.5" cy="1738.7" rx="4.5" ry="3.5" transform="rotate(29 849.5 1738.7)" fill="#555" opacity="0.6"/><ellipse cx="982.8" cy="1738.3" rx="4.3" ry="3.0" transform="rotate(159 982.8 1738.3)" fill="#555" opacity="0.6"/><ellipse cx="886.8" cy="1828.1" rx="6.6" ry="3.9" transform="rotate(46 886.8 1828.1)" fill="#555" opacity="0.6"/><ellipse cx="934.8" cy="1667.0" rx="6.2" ry="2.1" transform="rotate(74 934.8 1667.0)" fill="#555" opacity="0.6"/><ellipse cx="851.0" cy="1777.0" rx="4.8" ry="2.1" transform="rotate(38 851.0 1777.0)" fill="#555" opacity="0.6"/><ellipse cx="951.9" cy="1666.2" rx="5.3" ry="2.2" transform="rotate(139 951.9 1666.2)" fill="#555" opacity="0.6"/><ellipse cx="954.1" cy="1693.8" rx="4.9" ry="2.6" transform="rotate(10 954.1 1693.8)" fill="#555" opacity="0.6"/><ellipse cx="911.8" cy="1679.7" rx="3.3" ry="3.8" transform="rotate(17 911.8 1679.7)" fill="#555" opacity="0.6"/><ellipse cx="921.3" cy="1656.6" rx="4.0" ry="2.7" transform="rotate(40 921.3 1656.6)" fill="#555" opacity="0.6"/><ellipse cx="898.0" cy="1654.2" rx="6.0" ry="3.0" transform="rotate(97 898.0 1654.2)" fill="#555" opacity="0.6"/><ellipse cx="861.3" cy="1798.0" rx="4.1" ry="2.5" transform="rotate(125 861.3 1798.0)" fill="#555" opacity="0.6"/><ellipse cx="914.8" cy="1848.0" rx="5.9" ry="2.4" transform="rotate(4 914.8 1848.0)" fill="#555" opacity="0.6"/><ellipse cx="875.1" cy="1709.3" rx="5.0" ry="3.2" transform="rotate(146 875.1 1709.3)" fill="#555" opacity="0.6"/><ellipse cx="869.6" cy="1803.1" rx="6.3" ry="2.3" transform="rotate(60 869.6 1803.1)" fill="#555" opacity="0.6"/><ellipse cx="937.8" cy="1677.6" rx="6.7" ry="2.2" transform="rotate(15 937.8 1677.6)" fill="#555" opacity="0.6"/><ellipse cx="877.9" cy="1810.2" rx="4.5" ry="2.4" transform="rotate(81 877.9 1810.2)" fill="#555" opacity="0.6"/><ellipse cx="974.1" cy="1689.2" rx="5.5" ry="2.5" transform="rotate(105 974.1 1689.2)" fill="#555" opacity="0.6"/><ellipse cx="944.3" cy="1804.7" rx="6.2" ry="2.5" transform="rotate(29 944.3 1804.7)" fill="#555" opacity="0.6"/>
<path d="M917.1 1632.4 L917.1 1691.7" stroke="#2a2a2a" stroke-width="2.2"/>
<path d="M917.1 1793.9 L917.1 1866.0" stroke="#2a2a2a" stroke-width="2.2"/>
<path d="M897 1700 L912 1708 L917 1716 L922 1708 L938 1700 L932 1722 L922 1734 L912 1734 L902 1722 Z" fill="#141414"/>
<path d="M905 1735 L913 1740 L917 1752 L921 1740 L930 1735 L940 1750 L958 1778 L960 1800 L948 1802 L934 1780 L918 1768 L902 1770 L885 1790 L872 1792 L870 1775 L885 1755 Z" fill="#141414"/>
<ellipse cx="912.1" cy="1871.0" rx="14" ry="5" fill="#ddd" opacity="0.8"/>
</g>
<rect x="816.3" y="1618.9" width="202.4000000000001" height="263.29999999999995" fill="none" stroke="#4A1A5A" stroke-width="2.8"/>
<clipPath id="cpS1"><rect x="1030.2" y="1312" width="202.20000000000005" height="259.9000000000001"/></clipPath>
<g clip-path="url(#cpS1)">
<rect x="1030.2" y="1312" width="202.20000000000005" height="259.9000000000001" fill="#2e2e2e"/>
<g filter="url(#blur1)"><ellipse cx="1063.6" cy="1491.3" rx="7.4" ry="3.8" transform="rotate(39 1063.6 1491.3)" fill="#1e1e1e" opacity="0.85"/><ellipse cx="1193.5" cy="1445.2" rx="6.5" ry="2.8" transform="rotate(1 1193.5 1445.2)" fill="#444" opacity="0.85"/><ellipse cx="1218.8" cy="1423.3" rx="4.0" ry="5.0" transform="rotate(166 1218.8 1423.3)" fill="#3a3a3a" opacity="0.85"/><ellipse cx="1118.5" cy="1570.7" rx="8.4" ry="3.5" transform="rotate(80 1118.5 1570.7)" fill="#444" opacity="0.85"/><ellipse cx="1139.4" cy="1492.3" rx="7.5" ry="5.7" transform="rotate(4 1139.4 1492.3)" fill="#3a3a3a" opacity="0.85"/><ellipse cx="1055.5" cy="1553.2" rx="6.2" ry="4.1" transform="rotate(62 1055.5 1553.2)" fill="#1e1e1e" opacity="0.85"/><ellipse cx="1060.8" cy="1484.9" rx="6.3" ry="5.2" transform="rotate(13 1060.8 1484.9)" fill="#232323" opacity="0.85"/><ellipse cx="1072.4" cy="1563.8" rx="9.3" ry="5.0" transform="rotate(137 1072.4 1563.8)" fill="#4a4a4a" opacity="0.85"/><ellipse cx="1230.1" cy="1330.4" rx="6.9" ry="4.1" transform="rotate(70 1230.1 1330.4)" fill="#444" opacity="0.85"/><ellipse cx="1216.9" cy="1542.7" rx="5.9" ry="3.3" transform="rotate(81 1216.9 1542.7)" fill="#1e1e1e" opacity="0.85"/><ellipse cx="1094.5" cy="1437.9" rx="4.9" ry="5.3" transform="rotate(29 1094.5 1437.9)" fill="#1e1e1e" opacity="0.85"/><ellipse cx="1030.8" cy="1330.2" rx="7.2" ry="4.0" transform="rotate(103 1030.8 1330.2)" fill="#444" opacity="0.85"/><ellipse cx="1142.7" cy="1473.8" rx="4.3" ry="2.5" transform="rotate(63 1142.7 1473.8)" fill="#444" opacity="0.85"/><ellipse cx="1100.3" cy="1467.2" rx="5.1" ry="2.2" transform="rotate(12 1100.3 1467.2)" fill="#232323" opacity="0.85"/><ellipse cx="1187.3" cy="1409.4" rx="7.8" ry="4.6" transform="rotate(162 1187.3 1409.4)" fill="#232323" opacity="0.85"/><ellipse cx="1112.5" cy="1569.1" rx="9.7" ry="4.3" transform="rotate(159 1112.5 1569.1)" fill="#1e1e1e" opacity="0.85"/><ellipse cx="1132.5" cy="1485.3" rx="9.6" ry="2.8" transform="rotate(101 1132.5 1485.3)" fill="#1e1e1e" opacity="0.85"/><ellipse cx="1193.0" cy="1513.1" rx="6.4" ry="5.3" transform="rotate(9 1193.0 1513.1)" fill="#444" opacity="0.85"/><ellipse cx="1163.3" cy="1321.0" rx="4.7" ry="3.5" transform="rotate(157 1163.3 1321.0)" fill="#232323" opacity="0.85"/><ellipse cx="1229.1" cy="1505.8" rx="6.4" ry="2.9" transform="rotate(173 1229.1 1505.8)" fill="#4a4a4a" opacity="0.85"/><ellipse cx="1214.5" cy="1436.5" rx="9.7" ry="5.6" transform="rotate(66 1214.5 1436.5)" fill="#232323" opacity="0.85"/><ellipse cx="1208.4" cy="1468.3" rx="6.0" ry="4.2" transform="rotate(153 1208.4 1468.3)" fill="#444" opacity="0.85"/><ellipse cx="1058.3" cy="1464.9" rx="4.0" ry="4.8" transform="rotate(69 1058.3 1464.9)" fill="#232323" opacity="0.85"/><ellipse cx="1223.1" cy="1318.1" rx="7.2" ry="4.5" transform="rotate(153 1223.1 1318.1)" fill="#4a4a4a" opacity="0.85"/><ellipse cx="1115.3" cy="1489.5" rx="8.3" ry="5.2" transform="rotate(25 1115.3 1489.5)" fill="#232323" opacity="0.85"/><ellipse cx="1049.4" cy="1336.4" rx="3.2" ry="3.7" transform="rotate(25 1049.4 1336.4)" fill="#3a3a3a" opacity="0.85"/><ellipse cx="1162.7" cy="1344.9" rx="6.8" ry="3.2" transform="rotate(89 1162.7 1344.9)" fill="#232323" opacity="0.85"/><ellipse cx="1155.8" cy="1359.2" rx="9.0" ry="2.6" transform="rotate(134 1155.8 1359.2)" fill="#3a3a3a" opacity="0.85"/><ellipse cx="1152.3" cy="1443.2" rx="8.2" ry="2.0" transform="rotate(167 1152.3 1443.2)" fill="#1e1e1e" opacity="0.85"/><ellipse cx="1124.0" cy="1328.5" rx="8.3" ry="2.5" transform="rotate(128 1124.0 1328.5)" fill="#444" opacity="0.85"/><ellipse cx="1225.1" cy="1469.3" rx="8.2" ry="2.8" transform="rotate(28 1225.1 1469.3)" fill="#444" opacity="0.85"/><ellipse cx="1195.5" cy="1520.7" rx="6.4" ry="4.2" transform="rotate(98 1195.5 1520.7)" fill="#3a3a3a" opacity="0.85"/><ellipse cx="1133.0" cy="1502.9" rx="9.8" ry="3.1" transform="rotate(126 1133.0 1502.9)" fill="#4a4a4a" opacity="0.85"/><ellipse cx="1183.4" cy="1361.3" rx="7.3" ry="3.2" transform="rotate(36 1183.4 1361.3)" fill="#3a3a3a" opacity="0.85"/><ellipse cx="1094.5" cy="1570.1" rx="3.8" ry="2.1" transform="rotate(13 1094.5 1570.1)" fill="#1e1e1e" opacity="0.85"/><ellipse cx="1132.3" cy="1558.1" rx="7.8" ry="4.8" transform="rotate(85 1132.3 1558.1)" fill="#4a4a4a" opacity="0.85"/><ellipse cx="1108.9" cy="1416.4" rx="4.6" ry="2.0" transform="rotate(78 1108.9 1416.4)" fill="#232323" opacity="0.85"/><ellipse cx="1085.9" cy="1465.2" rx="5.8" ry="3.6" transform="rotate(144 1085.9 1465.2)" fill="#1e1e1e" opacity="0.85"/><ellipse cx="1108.1" cy="1438.5" rx="7.4" ry="5.8" transform="rotate(15 1108.1 1438.5)" fill="#1e1e1e" opacity="0.85"/><ellipse cx="1065.1" cy="1408.9" rx="7.2" ry="2.7" transform="rotate(81 1065.1 1408.9)" fill="#4a4a4a" opacity="0.85"/><ellipse cx="1165.3" cy="1535.2" rx="7.9" ry="4.7" transform="rotate(44 1165.3 1535.2)" fill="#1e1e1e" opacity="0.85"/><ellipse cx="1108.2" cy="1471.8" rx="8.8" ry="5.8" transform="rotate(178 1108.2 1471.8)" fill="#3a3a3a" opacity="0.85"/><ellipse cx="1062.9" cy="1364.5" rx="9.1" ry="4.8" transform="rotate(16 1062.9 1364.5)" fill="#232323" opacity="0.85"/><ellipse cx="1046.3" cy="1390.6" rx="9.6" ry="4.9" transform="rotate(83 1046.3 1390.6)" fill="#3a3a3a" opacity="0.85"/><ellipse cx="1230.5" cy="1355.3" rx="6.0" ry="4.7" transform="rotate(67 1230.5 1355.3)" fill="#4a4a4a" opacity="0.85"/><ellipse cx="1168.0" cy="1379.8" rx="9.7" ry="3.2" transform="rotate(46 1168.0 1379.8)" fill="#232323" opacity="0.85"/><ellipse cx="1212.1" cy="1443.8" rx="4.7" ry="4.7" transform="rotate(129 1212.1 1443.8)" fill="#232323" opacity="0.85"/><ellipse cx="1220.4" cy="1433.4" rx="6.1" ry="4.4" transform="rotate(51 1220.4 1433.4)" fill="#232323" opacity="0.85"/><ellipse cx="1165.2" cy="1473.6" rx="3.7" ry="5.9" transform="rotate(39 1165.2 1473.6)" fill="#444" opacity="0.85"/><ellipse cx="1194.1" cy="1554.9" rx="7.9" ry="1.9" transform="rotate(90 1194.1 1554.9)" fill="#3a3a3a" opacity="0.85"/><ellipse cx="1110.7" cy="1426.7" rx="6.1" ry="6.0" transform="rotate(169 1110.7 1426.7)" fill="#232323" opacity="0.85"/><ellipse cx="1049.3" cy="1392.3" rx="6.2" ry="5.6" transform="rotate(67 1049.3 1392.3)" fill="#232323" opacity="0.85"/><ellipse cx="1145.6" cy="1549.0" rx="6.0" ry="5.3" transform="rotate(56 1145.6 1549.0)" fill="#1e1e1e" opacity="0.85"/><ellipse cx="1111.7" cy="1455.4" rx="4.6" ry="5.2" transform="rotate(152 1111.7 1455.4)" fill="#1e1e1e" opacity="0.85"/><ellipse cx="1208.9" cy="1316.6" rx="7.1" ry="2.1" transform="rotate(162 1208.9 1316.6)" fill="#232323" opacity="0.85"/><ellipse cx="1061.0" cy="1441.3" rx="6.7" ry="4.0" transform="rotate(88 1061.0 1441.3)" fill="#444" opacity="0.85"/><ellipse cx="1061.1" cy="1351.9" rx="5.0" ry="4.5" transform="rotate(2 1061.1 1351.9)" fill="#3a3a3a" opacity="0.85"/><ellipse cx="1165.3" cy="1360.4" rx="3.7" ry="5.3" transform="rotate(65 1165.3 1360.4)" fill="#444" opacity="0.85"/><ellipse cx="1042.1" cy="1321.7" rx="6.5" ry="4.7" transform="rotate(118 1042.1 1321.7)" fill="#232323" opacity="0.85"/><ellipse cx="1036.8" cy="1372.5" rx="5.5" ry="2.9" transform="rotate(36 1036.8 1372.5)" fill="#232323" opacity="0.85"/><ellipse cx="1177.4" cy="1448.3" rx="3.5" ry="5.3" transform="rotate(38 1177.4 1448.3)" fill="#3a3a3a" opacity="0.85"/><ellipse cx="1177.3" cy="1469.7" rx="7.4" ry="4.5" transform="rotate(4 1177.3 1469.7)" fill="#444" opacity="0.85"/><ellipse cx="1130.0" cy="1354.1" rx="9.0" ry="5.2" transform="rotate(163 1130.0 1354.1)" fill="#3a3a3a" opacity="0.85"/><ellipse cx="1074.1" cy="1514.1" rx="9.3" ry="4.0" transform="rotate(164 1074.1 1514.1)" fill="#444" opacity="0.85"/><ellipse cx="1109.1" cy="1556.8" rx="9.6" ry="5.1" transform="rotate(2 1109.1 1556.8)" fill="#444" opacity="0.85"/><ellipse cx="1065.3" cy="1380.9" rx="3.2" ry="3.4" transform="rotate(135 1065.3 1380.9)" fill="#232323" opacity="0.85"/><ellipse cx="1218.4" cy="1451.4" rx="9.2" ry="2.7" transform="rotate(180 1218.4 1451.4)" fill="#4a4a4a" opacity="0.85"/><ellipse cx="1088.0" cy="1429.0" rx="8.4" ry="5.8" transform="rotate(164 1088.0 1429.0)" fill="#232323" opacity="0.85"/><ellipse cx="1112.2" cy="1358.3" rx="6.8" ry="5.2" transform="rotate(65 1112.2 1358.3)" fill="#232323" opacity="0.85"/><ellipse cx="1231.2" cy="1548.9" rx="9.7" ry="5.0" transform="rotate(177 1231.2 1548.9)" fill="#232323" opacity="0.85"/><ellipse cx="1180.2" cy="1367.3" rx="6.7" ry="3.4" transform="rotate(178 1180.2 1367.3)" fill="#444" opacity="0.85"/><ellipse cx="1055.0" cy="1374.4" rx="6.0" ry="4.5" transform="rotate(139 1055.0 1374.4)" fill="#232323" opacity="0.85"/><ellipse cx="1161.8" cy="1377.7" rx="6.0" ry="3.4" transform="rotate(88 1161.8 1377.7)" fill="#444" opacity="0.85"/><ellipse cx="1038.4" cy="1535.2" rx="4.4" ry="5.1" transform="rotate(60 1038.4 1535.2)" fill="#1e1e1e" opacity="0.85"/><ellipse cx="1192.5" cy="1503.4" rx="8.1" ry="6.0" transform="rotate(68 1192.5 1503.4)" fill="#1e1e1e" opacity="0.85"/><ellipse cx="1036.8" cy="1514.1" rx="9.1" ry="3.0" transform="rotate(150 1036.8 1514.1)" fill="#1e1e1e" opacity="0.85"/><ellipse cx="1070.0" cy="1371.1" rx="8.1" ry="5.2" transform="rotate(87 1070.0 1371.1)" fill="#3a3a3a" opacity="0.85"/><ellipse cx="1035.7" cy="1550.2" rx="3.9" ry="3.2" transform="rotate(64 1035.7 1550.2)" fill="#4a4a4a" opacity="0.85"/><ellipse cx="1157.3" cy="1467.5" rx="7.9" ry="5.4" transform="rotate(135 1157.3 1467.5)" fill="#444" opacity="0.85"/><ellipse cx="1162.8" cy="1502.8" rx="6.2" ry="2.3" transform="rotate(161 1162.8 1502.8)" fill="#4a4a4a" opacity="0.85"/><ellipse cx="1201.6" cy="1543.5" rx="3.5" ry="3.1" transform="rotate(114 1201.6 1543.5)" fill="#232323" opacity="0.85"/><ellipse cx="1182.2" cy="1555.1" rx="3.7" ry="4.4" transform="rotate(116 1182.2 1555.1)" fill="#4a4a4a" opacity="0.85"/><ellipse cx="1072.0" cy="1441.3" rx="8.0" ry="2.7" transform="rotate(124 1072.0 1441.3)" fill="#444" opacity="0.85"/><ellipse cx="1216.5" cy="1447.8" rx="3.1" ry="5.3" transform="rotate(51 1216.5 1447.8)" fill="#444" opacity="0.85"/><ellipse cx="1171.0" cy="1419.5" rx="3.9" ry="5.5" transform="rotate(118 1171.0 1419.5)" fill="#3a3a3a" opacity="0.85"/><ellipse cx="1231.7" cy="1372.4" rx="7.9" ry="3.8" transform="rotate(97 1231.7 1372.4)" fill="#4a4a4a" opacity="0.85"/><ellipse cx="1105.8" cy="1477.4" rx="7.5" ry="3.3" transform="rotate(62 1105.8 1477.4)" fill="#1e1e1e" opacity="0.85"/><ellipse cx="1158.8" cy="1430.8" rx="6.6" ry="2.7" transform="rotate(142 1158.8 1430.8)" fill="#3a3a3a" opacity="0.85"/><ellipse cx="1202.5" cy="1545.3" rx="8.9" ry="5.1" transform="rotate(162 1202.5 1545.3)" fill="#3a3a3a" opacity="0.85"/><ellipse cx="1099.9" cy="1352.1" rx="3.1" ry="2.9" transform="rotate(125 1099.9 1352.1)" fill="#444" opacity="0.85"/></g>
<ellipse cx="1066" cy="1505" rx="40" ry="85" fill="#3a3a3a" stroke="#555" stroke-width="3" filter="url(#blur1)"/>
<g filter="url(#blur1)"><ellipse cx="1081.8" cy="1481.6" rx="4.0" ry="3.6" transform="rotate(10 1081.8 1481.6)" fill="#444" opacity="0.8"/><ellipse cx="1036.7" cy="1546.9" rx="5.5" ry="3.7" transform="rotate(172 1036.7 1546.9)" fill="#2a2a2a" opacity="0.8"/><ellipse cx="1060.2" cy="1568.8" rx="6.9" ry="4.7" transform="rotate(5 1060.2 1568.8)" fill="#333" opacity="0.8"/><ellipse cx="1043.2" cy="1483.4" rx="5.4" ry="4.1" transform="rotate(70 1043.2 1483.4)" fill="#333" opacity="0.8"/><ellipse cx="1087.0" cy="1458.2" rx="7.8" ry="2.7" transform="rotate(98 1087.0 1458.2)" fill="#333" opacity="0.8"/><ellipse cx="1066.6" cy="1541.6" rx="5.3" ry="3.8" transform="rotate(56 1066.6 1541.6)" fill="#444" opacity="0.8"/><ellipse cx="1088.5" cy="1511.6" rx="7.2" ry="2.4" transform="rotate(159 1088.5 1511.6)" fill="#444" opacity="0.8"/><ellipse cx="1046.6" cy="1538.9" rx="7.3" ry="3.6" transform="rotate(28 1046.6 1538.9)" fill="#333" opacity="0.8"/><ellipse cx="1038.8" cy="1528.1" rx="6.6" ry="1.9" transform="rotate(73 1038.8 1528.1)" fill="#444" opacity="0.8"/><ellipse cx="1072.2" cy="1588.8" rx="7.6" ry="4.4" transform="rotate(59 1072.2 1588.8)" fill="#444" opacity="0.8"/><ellipse cx="1084.2" cy="1582.1" rx="6.5" ry="3.5" transform="rotate(7 1084.2 1582.1)" fill="#333" opacity="0.8"/><ellipse cx="1077.2" cy="1561.9" rx="7.8" ry="3.8" transform="rotate(50 1077.2 1561.9)" fill="#2a2a2a" opacity="0.8"/><ellipse cx="1083.6" cy="1578.1" rx="6.5" ry="2.8" transform="rotate(85 1083.6 1578.1)" fill="#444" opacity="0.8"/><ellipse cx="1079.5" cy="1585.4" rx="3.8" ry="1.8" transform="rotate(20 1079.5 1585.4)" fill="#2a2a2a" opacity="0.8"/><ellipse cx="1094.5" cy="1547.6" rx="3.2" ry="2.3" transform="rotate(110 1094.5 1547.6)" fill="#2a2a2a" opacity="0.8"/><ellipse cx="1035.2" cy="1512.4" rx="4.5" ry="3.1" transform="rotate(12 1035.2 1512.4)" fill="#333" opacity="0.8"/><ellipse cx="1091.5" cy="1463.1" rx="7.3" ry="4.4" transform="rotate(152 1091.5 1463.1)" fill="#444" opacity="0.8"/><ellipse cx="1068.9" cy="1563.6" rx="4.4" ry="4.3" transform="rotate(58 1068.9 1563.6)" fill="#2a2a2a" opacity="0.8"/><ellipse cx="1069.0" cy="1507.7" rx="3.5" ry="4.7" transform="rotate(79 1069.0 1507.7)" fill="#444" opacity="0.8"/><ellipse cx="1049.0" cy="1568.0" rx="5.5" ry="3.0" transform="rotate(112 1049.0 1568.0)" fill="#444" opacity="0.8"/><ellipse cx="1078.8" cy="1524.1" rx="6.3" ry="4.0" transform="rotate(167 1078.8 1524.1)" fill="#333" opacity="0.8"/><ellipse cx="1035.5" cy="1508.0" rx="4.6" ry="2.4" transform="rotate(58 1035.5 1508.0)" fill="#444" opacity="0.8"/><ellipse cx="1048.0" cy="1521.9" rx="3.0" ry="4.5" transform="rotate(129 1048.0 1521.9)" fill="#333" opacity="0.8"/><ellipse cx="1035.5" cy="1482.8" rx="3.5" ry="3.5" transform="rotate(24 1035.5 1482.8)" fill="#2a2a2a" opacity="0.8"/><ellipse cx="1096.2" cy="1552.9" rx="3.8" ry="2.3" transform="rotate(94 1096.2 1552.9)" fill="#333" opacity="0.8"/></g>
<path d="M1032 1352 L1070 1345 L1105 1370 L1135 1405 L1140 1428 L1118 1425 L1080 1400 L1032 1385 Z" fill="#5c5c5c" filter="url(#blur1)"/>
<g filter="url(#blur1)"><ellipse cx="1044.2" cy="1355.9" rx="4.4" ry="1.6" transform="rotate(24 1044.2 1355.9)" fill="#6a6a6a" opacity="0.7"/><ellipse cx="1114.5" cy="1362.5" rx="2.6" ry="1.6" transform="rotate(172 1114.5 1362.5)" fill="#a8a8a8" opacity="0.7"/><ellipse cx="1053.7" cy="1378.8" rx="2.3" ry="2.2" transform="rotate(162 1053.7 1378.8)" fill="#a8a8a8" opacity="0.7"/><ellipse cx="1051.1" cy="1422.4" rx="4.1" ry="2.9" transform="rotate(144 1051.1 1422.4)" fill="#a8a8a8" opacity="0.7"/><ellipse cx="1131.1" cy="1382.3" rx="2.8" ry="3.4" transform="rotate(51 1131.1 1382.3)" fill="#444" opacity="0.7"/><ellipse cx="1040.5" cy="1389.3" rx="5.7" ry="2.9" transform="rotate(104 1040.5 1389.3)" fill="#a8a8a8" opacity="0.7"/><ellipse cx="1053.8" cy="1350.7" rx="3.7" ry="3.2" transform="rotate(88 1053.8 1350.7)" fill="#a8a8a8" opacity="0.7"/><ellipse cx="1072.8" cy="1366.4" rx="5.8" ry="3.3" transform="rotate(119 1072.8 1366.4)" fill="#a8a8a8" opacity="0.7"/><ellipse cx="1056.9" cy="1370.6" rx="4.3" ry="3.0" transform="rotate(96 1056.9 1370.6)" fill="#8a8a8a" opacity="0.7"/><ellipse cx="1056.0" cy="1350.1" rx="5.9" ry="2.1" transform="rotate(125 1056.0 1350.1)" fill="#6a6a6a" opacity="0.7"/><ellipse cx="1043.5" cy="1412.6" rx="2.6" ry="2.4" transform="rotate(37 1043.5 1412.6)" fill="#6a6a6a" opacity="0.7"/><ellipse cx="1093.4" cy="1358.2" rx="3.7" ry="2.3" transform="rotate(166 1093.4 1358.2)" fill="#6a6a6a" opacity="0.7"/><ellipse cx="1057.0" cy="1425.0" rx="2.1" ry="2.2" transform="rotate(99 1057.0 1425.0)" fill="#6a6a6a" opacity="0.7"/><ellipse cx="1046.9" cy="1415.6" rx="4.1" ry="3.4" transform="rotate(117 1046.9 1415.6)" fill="#6a6a6a" opacity="0.7"/><ellipse cx="1071.5" cy="1374.9" rx="2.9" ry="1.7" transform="rotate(18 1071.5 1374.9)" fill="#a8a8a8" opacity="0.7"/><ellipse cx="1044.8" cy="1398.5" rx="5.5" ry="2.7" transform="rotate(80 1044.8 1398.5)" fill="#a8a8a8" opacity="0.7"/><ellipse cx="1114.1" cy="1361.1" rx="5.2" ry="3.3" transform="rotate(81 1114.1 1361.1)" fill="#444" opacity="0.7"/><ellipse cx="1134.2" cy="1385.0" rx="4.9" ry="3.1" transform="rotate(70 1134.2 1385.0)" fill="#6a6a6a" opacity="0.7"/><ellipse cx="1123.5" cy="1350.7" rx="3.0" ry="2.5" transform="rotate(104 1123.5 1350.7)" fill="#444" opacity="0.7"/><ellipse cx="1088.7" cy="1414.9" rx="5.6" ry="3.1" transform="rotate(116 1088.7 1414.9)" fill="#6a6a6a" opacity="0.7"/><ellipse cx="1063.4" cy="1415.9" rx="5.8" ry="1.5" transform="rotate(133 1063.4 1415.9)" fill="#6a6a6a" opacity="0.7"/><ellipse cx="1058.3" cy="1350.1" rx="3.2" ry="3.2" transform="rotate(113 1058.3 1350.1)" fill="#8a8a8a" opacity="0.7"/><ellipse cx="1104.8" cy="1357.9" rx="4.3" ry="3.6" transform="rotate(84 1104.8 1357.9)" fill="#a8a8a8" opacity="0.7"/><ellipse cx="1039.7" cy="1417.7" rx="3.6" ry="1.3" transform="rotate(146 1039.7 1417.7)" fill="#6a6a6a" opacity="0.7"/><ellipse cx="1122.6" cy="1372.1" rx="3.4" ry="3.1" transform="rotate(174 1122.6 1372.1)" fill="#444" opacity="0.7"/></g>
<ellipse cx="1138" cy="1500" rx="14" ry="9" fill="#555" filter="url(#blur1)"/>
<ellipse cx="1198" cy="1348" rx="40" ry="40" fill="#696969"/>
<g><path d="M1162.0 1380.0 q 6 -28.0 14.0 -52.0" stroke="#575757" stroke-width="1.5" fill="none"/><path d="M1170.8 1380.0 q 6 -28.0 15.0 -52.0" stroke="#575757" stroke-width="1.5" fill="none"/><path d="M1179.6 1380.0 q 6 -28.0 16.0 -52.0" stroke="#575757" stroke-width="1.5" fill="none"/><path d="M1188.4 1380.0 q 6 -28.0 17.0 -52.0" stroke="#575757" stroke-width="1.5" fill="none"/><path d="M1197.2 1380.0 q 6 -28.0 18.0 -52.0" stroke="#575757" stroke-width="1.5" fill="none"/><path d="M1206.0 1380.0 q 6 -28.0 19.0 -52.0" stroke="#575757" stroke-width="1.5" fill="none"/><path d="M1214.8 1380.0 q 6 -28.0 20.0 -52.0" stroke="#575757" stroke-width="1.5" fill="none"/><path d="M1223.6 1380.0 q 6 -28.0 21.0 -52.0" stroke="#575757" stroke-width="1.5" fill="none"/><path d="M1232.4 1380.0 q 6 -28.0 22.0 -52.0" stroke="#575757" stroke-width="1.5" fill="none"/></g>
<clipPath id="cpS1b"><path d="M1194 1392 Q1215 1378 1233 1382 L1233 1572 L1192 1572 Q1186 1520 1188 1470 Q1188 1420 1194 1392 Z"/></clipPath>
<path d="M1194 1392 Q1215 1378 1233 1382 L1233 1572 L1192 1572 Q1186 1520 1188 1470 Q1188 1420 1194 1392 Z" fill="#6a6a6a" filter="url(#blur1)"/>
<g clip-path="url(#cpS1b)"><g filter="url(#blur1)"><ellipse cx="1230.8" cy="1407.0" rx="2.6" ry="4.8" transform="rotate(33 1230.8 1407.0)" fill="#d6d6d6" opacity="0.9"/><ellipse cx="1219.2" cy="1548.7" rx="6.9" ry="1.8" transform="rotate(48 1219.2 1548.7)" fill="#d6d6d6" opacity="0.9"/><ellipse cx="1196.9" cy="1495.4" rx="7.6" ry="3.8" transform="rotate(166 1196.9 1495.4)" fill="#909090" opacity="0.9"/><ellipse cx="1226.8" cy="1490.8" rx="2.6" ry="2.4" transform="rotate(76 1226.8 1490.8)" fill="#b0b0b0" opacity="0.9"/><ellipse cx="1225.0" cy="1491.9" rx="7.7" ry="4.1" transform="rotate(173 1225.0 1491.9)" fill="#3a3a3a" opacity="0.9"/><ellipse cx="1183.2" cy="1442.7" rx="4.3" ry="2.1" transform="rotate(71 1183.2 1442.7)" fill="#909090" opacity="0.9"/><ellipse cx="1207.3" cy="1433.7" rx="4.0" ry="3.8" transform="rotate(78 1207.3 1433.7)" fill="#e8e8e8" opacity="0.9"/><ellipse cx="1208.2" cy="1386.2" rx="7.6" ry="3.2" transform="rotate(93 1208.2 1386.2)" fill="#505050" opacity="0.9"/><ellipse cx="1201.1" cy="1557.5" rx="3.5" ry="3.4" transform="rotate(71 1201.1 1557.5)" fill="#d6d6d6" opacity="0.9"/><ellipse cx="1195.8" cy="1494.4" rx="5.5" ry="2.9" transform="rotate(121 1195.8 1494.4)" fill="#3a3a3a" opacity="0.9"/><ellipse cx="1202.6" cy="1397.4" rx="4.9" ry="1.8" transform="rotate(141 1202.6 1397.4)" fill="#d6d6d6" opacity="0.9"/><ellipse cx="1229.3" cy="1562.8" rx="5.3" ry="2.8" transform="rotate(17 1229.3 1562.8)" fill="#b0b0b0" opacity="0.9"/><ellipse cx="1189.1" cy="1485.0" rx="4.4" ry="2.6" transform="rotate(64 1189.1 1485.0)" fill="#b0b0b0" opacity="0.9"/><ellipse cx="1203.5" cy="1392.1" rx="3.2" ry="4.1" transform="rotate(133 1203.5 1392.1)" fill="#909090" opacity="0.9"/><ellipse cx="1216.8" cy="1390.0" rx="4.8" ry="4.2" transform="rotate(166 1216.8 1390.0)" fill="#505050" opacity="0.9"/><ellipse cx="1182.3" cy="1403.1" rx="6.4" ry="1.9" transform="rotate(51 1182.3 1403.1)" fill="#909090" opacity="0.9"/><ellipse cx="1219.4" cy="1470.8" rx="6.5" ry="3.6" transform="rotate(64 1219.4 1470.8)" fill="#d6d6d6" opacity="0.9"/><ellipse cx="1223.4" cy="1496.8" rx="7.7" ry="1.6" transform="rotate(90 1223.4 1496.8)" fill="#909090" opacity="0.9"/><ellipse cx="1183.4" cy="1398.7" rx="6.0" ry="3.5" transform="rotate(126 1183.4 1398.7)" fill="#b0b0b0" opacity="0.9"/><ellipse cx="1182.2" cy="1565.7" rx="4.4" ry="1.9" transform="rotate(39 1182.2 1565.7)" fill="#e8e8e8" opacity="0.9"/><ellipse cx="1205.8" cy="1393.1" rx="2.6" ry="4.0" transform="rotate(105 1205.8 1393.1)" fill="#3a3a3a" opacity="0.9"/><ellipse cx="1191.0" cy="1446.1" rx="6.5" ry="4.6" transform="rotate(150 1191.0 1446.1)" fill="#d6d6d6" opacity="0.9"/><ellipse cx="1192.6" cy="1541.5" rx="5.9" ry="2.2" transform="rotate(136 1192.6 1541.5)" fill="#909090" opacity="0.9"/><ellipse cx="1200.3" cy="1524.1" rx="6.4" ry="3.0" transform="rotate(45 1200.3 1524.1)" fill="#b0b0b0" opacity="0.9"/><ellipse cx="1186.0" cy="1557.1" rx="7.6" ry="3.4" transform="rotate(32 1186.0 1557.1)" fill="#909090" opacity="0.9"/><ellipse cx="1196.9" cy="1385.8" rx="3.4" ry="2.4" transform="rotate(152 1196.9 1385.8)" fill="#909090" opacity="0.9"/><ellipse cx="1181.6" cy="1527.1" rx="2.5" ry="3.6" transform="rotate(177 1181.6 1527.1)" fill="#909090" opacity="0.9"/><ellipse cx="1192.4" cy="1482.6" rx="3.3" ry="2.6" transform="rotate(155 1192.4 1482.6)" fill="#909090" opacity="0.9"/><ellipse cx="1180.5" cy="1452.9" rx="6.0" ry="2.1" transform="rotate(144 1180.5 1452.9)" fill="#3a3a3a" opacity="0.9"/><ellipse cx="1209.2" cy="1449.5" rx="7.2" ry="3.2" transform="rotate(34 1209.2 1449.5)" fill="#e8e8e8" opacity="0.9"/><ellipse cx="1207.8" cy="1446.8" rx="6.9" ry="3.1" transform="rotate(90 1207.8 1446.8)" fill="#b0b0b0" opacity="0.9"/><ellipse cx="1231.6" cy="1416.6" rx="4.7" ry="4.4" transform="rotate(137 1231.6 1416.6)" fill="#505050" opacity="0.9"/><ellipse cx="1215.3" cy="1481.1" rx="6.4" ry="1.8" transform="rotate(166 1215.3 1481.1)" fill="#e8e8e8" opacity="0.9"/><ellipse cx="1192.5" cy="1479.4" rx="7.8" ry="2.0" transform="rotate(100 1192.5 1479.4)" fill="#3a3a3a" opacity="0.9"/><ellipse cx="1180.0" cy="1441.6" rx="6.7" ry="1.9" transform="rotate(91 1180.0 1441.6)" fill="#d6d6d6" opacity="0.9"/><ellipse cx="1222.8" cy="1538.4" rx="3.0" ry="1.7" transform="rotate(32 1222.8 1538.4)" fill="#3a3a3a" opacity="0.9"/><ellipse cx="1196.1" cy="1440.0" rx="7.5" ry="3.4" transform="rotate(95 1196.1 1440.0)" fill="#3a3a3a" opacity="0.9"/><ellipse cx="1197.6" cy="1566.3" rx="7.7" ry="3.9" transform="rotate(162 1197.6 1566.3)" fill="#3a3a3a" opacity="0.9"/><ellipse cx="1214.6" cy="1441.7" rx="4.0" ry="2.3" transform="rotate(10 1214.6 1441.7)" fill="#e8e8e8" opacity="0.9"/><ellipse cx="1195.8" cy="1384.6" rx="4.2" ry="1.8" transform="rotate(80 1195.8 1384.6)" fill="#e8e8e8" opacity="0.9"/><ellipse cx="1228.7" cy="1410.7" rx="4.1" ry="2.8" transform="rotate(25 1228.7 1410.7)" fill="#505050" opacity="0.9"/><ellipse cx="1196.3" cy="1483.9" rx="7.3" ry="4.7" transform="rotate(67 1196.3 1483.9)" fill="#d6d6d6" opacity="0.9"/><ellipse cx="1204.6" cy="1433.8" rx="5.5" ry="1.8" transform="rotate(148 1204.6 1433.8)" fill="#e8e8e8" opacity="0.9"/><ellipse cx="1209.5" cy="1465.4" rx="3.9" ry="2.3" transform="rotate(27 1209.5 1465.4)" fill="#3a3a3a" opacity="0.9"/><ellipse cx="1205.5" cy="1533.9" rx="5.3" ry="1.7" transform="rotate(61 1205.5 1533.9)" fill="#505050" opacity="0.9"/><ellipse cx="1187.0" cy="1508.1" rx="7.4" ry="2.9" transform="rotate(97 1187.0 1508.1)" fill="#505050" opacity="0.9"/><ellipse cx="1216.4" cy="1535.1" rx="6.2" ry="2.7" transform="rotate(51 1216.4 1535.1)" fill="#d6d6d6" opacity="0.9"/><ellipse cx="1229.6" cy="1402.1" rx="7.1" ry="4.0" transform="rotate(14 1229.6 1402.1)" fill="#3a3a3a" opacity="0.9"/><ellipse cx="1205.0" cy="1502.1" rx="6.0" ry="1.6" transform="rotate(166 1205.0 1502.1)" fill="#3a3a3a" opacity="0.9"/><ellipse cx="1221.8" cy="1483.2" rx="5.7" ry="2.2" transform="rotate(143 1221.8 1483.2)" fill="#909090" opacity="0.9"/><ellipse cx="1201.1" cy="1487.0" rx="3.5" ry="2.8" transform="rotate(165 1201.1 1487.0)" fill="#3a3a3a" opacity="0.9"/><ellipse cx="1222.4" cy="1461.6" rx="6.8" ry="2.2" transform="rotate(44 1222.4 1461.6)" fill="#909090" opacity="0.9"/><ellipse cx="1208.1" cy="1510.9" rx="5.7" ry="3.5" transform="rotate(43 1208.1 1510.9)" fill="#3a3a3a" opacity="0.9"/><ellipse cx="1192.8" cy="1468.4" rx="6.9" ry="4.7" transform="rotate(22 1192.8 1468.4)" fill="#909090" opacity="0.9"/><ellipse cx="1192.1" cy="1459.8" rx="3.2" ry="3.9" transform="rotate(8 1192.1 1459.8)" fill="#3a3a3a" opacity="0.9"/><ellipse cx="1206.7" cy="1505.1" rx="3.1" ry="4.2" transform="rotate(92 1206.7 1505.1)" fill="#b0b0b0" opacity="0.9"/><ellipse cx="1201.0" cy="1399.6" rx="5.3" ry="3.9" transform="rotate(2 1201.0 1399.6)" fill="#b0b0b0" opacity="0.9"/><ellipse cx="1203.4" cy="1535.3" rx="3.4" ry="4.6" transform="rotate(91 1203.4 1535.3)" fill="#b0b0b0" opacity="0.9"/><ellipse cx="1217.4" cy="1430.2" rx="3.2" ry="2.1" transform="rotate(129 1217.4 1430.2)" fill="#909090" opacity="0.9"/><ellipse cx="1206.6" cy="1428.8" rx="4.9" ry="3.0" transform="rotate(126 1206.6 1428.8)" fill="#3a3a3a" opacity="0.9"/><ellipse cx="1197.1" cy="1542.7" rx="6.6" ry="3.6" transform="rotate(111 1197.1 1542.7)" fill="#e8e8e8" opacity="0.9"/><ellipse cx="1183.7" cy="1538.6" rx="5.5" ry="4.5" transform="rotate(113 1183.7 1538.6)" fill="#e8e8e8" opacity="0.9"/><ellipse cx="1230.5" cy="1527.2" rx="3.0" ry="4.3" transform="rotate(175 1230.5 1527.2)" fill="#e8e8e8" opacity="0.9"/><ellipse cx="1182.2" cy="1446.0" rx="5.6" ry="2.0" transform="rotate(163 1182.2 1446.0)" fill="#505050" opacity="0.9"/><ellipse cx="1207.1" cy="1553.7" rx="6.3" ry="3.3" transform="rotate(28 1207.1 1553.7)" fill="#d6d6d6" opacity="0.9"/><ellipse cx="1204.0" cy="1453.9" rx="2.9" ry="3.5" transform="rotate(154 1204.0 1453.9)" fill="#505050" opacity="0.9"/><ellipse cx="1191.3" cy="1401.1" rx="5.6" ry="4.5" transform="rotate(168 1191.3 1401.1)" fill="#909090" opacity="0.9"/><ellipse cx="1185.8" cy="1469.1" rx="3.6" ry="2.8" transform="rotate(33 1185.8 1469.1)" fill="#b0b0b0" opacity="0.9"/><ellipse cx="1188.8" cy="1383.7" rx="3.1" ry="2.4" transform="rotate(136 1188.8 1383.7)" fill="#505050" opacity="0.9"/><ellipse cx="1213.5" cy="1439.0" rx="6.2" ry="3.9" transform="rotate(66 1213.5 1439.0)" fill="#d6d6d6" opacity="0.9"/></g></g>
<path d="M1106 1312 L1155 1312 L1162 1357 L1176 1442 L1182 1575 L1170 1575 L1162 1442 L1140 1380 L1128 1357 Z" fill="none" stroke="#151515" stroke-width="12" stroke-linejoin="round"/>
<path d="M1106 1312 L1140 1312 L1138 1360 L1128 1362 L1112 1340 Z" fill="#7a7a7a"/>
<path d="M1106 1312 L1155 1312 L1162 1357 L1176 1442 L1182 1575 L1170 1575 L1162 1442 L1140 1380 L1128 1357 Z" fill="#838383"/>
</g>
<rect x="1030.2" y="1312" width="202.20000000000005" height="259.9000000000001" fill="none" stroke="#C8541E" stroke-width="2.8"/>
<clipPath id="cpS2"><rect x="1030.2" y="1618.8" width="202.79999999999995" height="266.70000000000005"/></clipPath>
<g clip-path="url(#cpS2)">
<rect x="1030.2" y="1618.8" width="202.79999999999995" height="266.70000000000005" fill="#2e2e2e"/>
<g filter="url(#blur1)"><ellipse cx="1145.9" cy="1787.4" rx="8.7" ry="3.0" transform="rotate(117 1145.9 1787.4)" fill="#4a4a4a" opacity="0.85"/><ellipse cx="1214.5" cy="1668.5" rx="7.6" ry="4.4" transform="rotate(91 1214.5 1668.5)" fill="#4a4a4a" opacity="0.85"/><ellipse cx="1127.7" cy="1694.1" rx="7.7" ry="2.1" transform="rotate(74 1127.7 1694.1)" fill="#4a4a4a" opacity="0.85"/><ellipse cx="1130.8" cy="1632.8" rx="7.3" ry="4.9" transform="rotate(77 1130.8 1632.8)" fill="#444" opacity="0.85"/><ellipse cx="1218.4" cy="1767.0" rx="7.8" ry="2.3" transform="rotate(10 1218.4 1767.0)" fill="#444" opacity="0.85"/><ellipse cx="1232.0" cy="1883.0" rx="3.5" ry="3.3" transform="rotate(118 1232.0 1883.0)" fill="#232323" opacity="0.85"/><ellipse cx="1134.2" cy="1704.2" rx="5.5" ry="4.6" transform="rotate(100 1134.2 1704.2)" fill="#1e1e1e" opacity="0.85"/><ellipse cx="1067.8" cy="1648.2" rx="3.2" ry="5.5" transform="rotate(135 1067.8 1648.2)" fill="#4a4a4a" opacity="0.85"/><ellipse cx="1203.0" cy="1635.7" rx="3.7" ry="5.2" transform="rotate(1 1203.0 1635.7)" fill="#1e1e1e" opacity="0.85"/><ellipse cx="1086.1" cy="1672.9" rx="4.3" ry="4.5" transform="rotate(82 1086.1 1672.9)" fill="#1e1e1e" opacity="0.85"/><ellipse cx="1190.4" cy="1776.1" rx="6.2" ry="5.4" transform="rotate(87 1190.4 1776.1)" fill="#3a3a3a" opacity="0.85"/><ellipse cx="1127.8" cy="1719.9" rx="8.5" ry="2.3" transform="rotate(157 1127.8 1719.9)" fill="#3a3a3a" opacity="0.85"/><ellipse cx="1220.2" cy="1788.1" rx="8.1" ry="5.5" transform="rotate(152 1220.2 1788.1)" fill="#232323" opacity="0.85"/><ellipse cx="1214.7" cy="1813.3" rx="6.4" ry="4.7" transform="rotate(159 1214.7 1813.3)" fill="#444" opacity="0.85"/><ellipse cx="1124.0" cy="1731.4" rx="6.5" ry="2.9" transform="rotate(158 1124.0 1731.4)" fill="#1e1e1e" opacity="0.85"/><ellipse cx="1108.8" cy="1821.2" rx="5.2" ry="5.8" transform="rotate(30 1108.8 1821.2)" fill="#232323" opacity="0.85"/><ellipse cx="1215.8" cy="1704.1" rx="9.7" ry="5.6" transform="rotate(31 1215.8 1704.1)" fill="#444" opacity="0.85"/><ellipse cx="1198.8" cy="1734.5" rx="8.7" ry="5.7" transform="rotate(156 1198.8 1734.5)" fill="#4a4a4a" opacity="0.85"/><ellipse cx="1163.4" cy="1628.1" rx="8.2" ry="5.6" transform="rotate(2 1163.4 1628.1)" fill="#1e1e1e" opacity="0.85"/><ellipse cx="1048.9" cy="1690.9" rx="7.1" ry="4.2" transform="rotate(36 1048.9 1690.9)" fill="#232323" opacity="0.85"/><ellipse cx="1070.6" cy="1781.2" rx="3.5" ry="4.7" transform="rotate(2 1070.6 1781.2)" fill="#1e1e1e" opacity="0.85"/><ellipse cx="1232.1" cy="1800.1" rx="3.0" ry="5.7" transform="rotate(74 1232.1 1800.1)" fill="#3a3a3a" opacity="0.85"/><ellipse cx="1195.2" cy="1655.6" rx="3.3" ry="1.9" transform="rotate(141 1195.2 1655.6)" fill="#4a4a4a" opacity="0.85"/><ellipse cx="1076.4" cy="1648.9" rx="5.6" ry="5.2" transform="rotate(133 1076.4 1648.9)" fill="#444" opacity="0.85"/><ellipse cx="1226.5" cy="1820.1" rx="8.8" ry="1.9" transform="rotate(1 1226.5 1820.1)" fill="#444" opacity="0.85"/><ellipse cx="1155.7" cy="1706.0" rx="3.9" ry="3.2" transform="rotate(61 1155.7 1706.0)" fill="#1e1e1e" opacity="0.85"/><ellipse cx="1182.6" cy="1691.1" rx="9.1" ry="4.0" transform="rotate(151 1182.6 1691.1)" fill="#444" opacity="0.85"/><ellipse cx="1050.5" cy="1729.4" rx="3.9" ry="5.2" transform="rotate(98 1050.5 1729.4)" fill="#1e1e1e" opacity="0.85"/><ellipse cx="1095.9" cy="1815.6" rx="3.1" ry="1.9" transform="rotate(27 1095.9 1815.6)" fill="#232323" opacity="0.85"/><ellipse cx="1103.5" cy="1686.2" rx="5.1" ry="5.3" transform="rotate(2 1103.5 1686.2)" fill="#1e1e1e" opacity="0.85"/><ellipse cx="1151.7" cy="1771.5" rx="9.7" ry="2.9" transform="rotate(137 1151.7 1771.5)" fill="#444" opacity="0.85"/><ellipse cx="1062.5" cy="1879.7" rx="5.4" ry="2.3" transform="rotate(175 1062.5 1879.7)" fill="#1e1e1e" opacity="0.85"/><ellipse cx="1097.4" cy="1834.8" rx="3.3" ry="2.8" transform="rotate(143 1097.4 1834.8)" fill="#4a4a4a" opacity="0.85"/><ellipse cx="1062.8" cy="1863.1" rx="7.3" ry="5.0" transform="rotate(152 1062.8 1863.1)" fill="#1e1e1e" opacity="0.85"/><ellipse cx="1068.4" cy="1672.0" rx="9.2" ry="3.6" transform="rotate(146 1068.4 1672.0)" fill="#444" opacity="0.85"/><ellipse cx="1087.4" cy="1721.4" rx="5.2" ry="3.6" transform="rotate(106 1087.4 1721.4)" fill="#1e1e1e" opacity="0.85"/><ellipse cx="1192.7" cy="1737.2" rx="5.8" ry="2.2" transform="rotate(138 1192.7 1737.2)" fill="#232323" opacity="0.85"/><ellipse cx="1086.9" cy="1838.9" rx="3.7" ry="2.6" transform="rotate(59 1086.9 1838.9)" fill="#232323" opacity="0.85"/><ellipse cx="1199.4" cy="1653.9" rx="4.7" ry="5.1" transform="rotate(170 1199.4 1653.9)" fill="#1e1e1e" opacity="0.85"/><ellipse cx="1213.5" cy="1863.5" rx="7.0" ry="2.2" transform="rotate(157 1213.5 1863.5)" fill="#3a3a3a" opacity="0.85"/><ellipse cx="1212.6" cy="1760.4" rx="5.7" ry="4.3" transform="rotate(142 1212.6 1760.4)" fill="#1e1e1e" opacity="0.85"/><ellipse cx="1130.3" cy="1753.9" rx="5.2" ry="4.1" transform="rotate(98 1130.3 1753.9)" fill="#444" opacity="0.85"/><ellipse cx="1151.1" cy="1864.0" rx="7.7" ry="3.5" transform="rotate(3 1151.1 1864.0)" fill="#232323" opacity="0.85"/><ellipse cx="1204.3" cy="1699.7" rx="8.8" ry="5.7" transform="rotate(158 1204.3 1699.7)" fill="#232323" opacity="0.85"/><ellipse cx="1092.2" cy="1629.3" rx="9.7" ry="2.9" transform="rotate(78 1092.2 1629.3)" fill="#4a4a4a" opacity="0.85"/><ellipse cx="1219.5" cy="1712.3" rx="3.8" ry="1.9" transform="rotate(57 1219.5 1712.3)" fill="#4a4a4a" opacity="0.85"/><ellipse cx="1177.6" cy="1786.3" rx="9.9" ry="4.9" transform="rotate(175 1177.6 1786.3)" fill="#4a4a4a" opacity="0.85"/><ellipse cx="1096.8" cy="1792.1" rx="5.5" ry="3.0" transform="rotate(21 1096.8 1792.1)" fill="#4a4a4a" opacity="0.85"/><ellipse cx="1212.8" cy="1627.1" rx="8.0" ry="2.1" transform="rotate(75 1212.8 1627.1)" fill="#444" opacity="0.85"/><ellipse cx="1095.2" cy="1647.6" rx="8.8" ry="4.6" transform="rotate(144 1095.2 1647.6)" fill="#444" opacity="0.85"/><ellipse cx="1079.5" cy="1635.4" rx="3.1" ry="4.1" transform="rotate(133 1079.5 1635.4)" fill="#3a3a3a" opacity="0.85"/><ellipse cx="1082.8" cy="1882.4" rx="3.6" ry="3.6" transform="rotate(60 1082.8 1882.4)" fill="#232323" opacity="0.85"/><ellipse cx="1108.8" cy="1657.5" rx="5.2" ry="4.8" transform="rotate(84 1108.8 1657.5)" fill="#444" opacity="0.85"/><ellipse cx="1101.4" cy="1818.8" rx="5.0" ry="4.6" transform="rotate(0 1101.4 1818.8)" fill="#232323" opacity="0.85"/><ellipse cx="1150.2" cy="1635.7" rx="6.7" ry="4.3" transform="rotate(58 1150.2 1635.7)" fill="#232323" opacity="0.85"/><ellipse cx="1218.4" cy="1794.1" rx="5.9" ry="2.5" transform="rotate(113 1218.4 1794.1)" fill="#444" opacity="0.85"/><ellipse cx="1150.4" cy="1733.4" rx="9.2" ry="4.6" transform="rotate(88 1150.4 1733.4)" fill="#3a3a3a" opacity="0.85"/><ellipse cx="1032.6" cy="1787.5" rx="4.3" ry="3.2" transform="rotate(130 1032.6 1787.5)" fill="#4a4a4a" opacity="0.85"/><ellipse cx="1093.9" cy="1820.0" rx="5.4" ry="5.8" transform="rotate(31 1093.9 1820.0)" fill="#3a3a3a" opacity="0.85"/><ellipse cx="1052.9" cy="1637.1" rx="3.2" ry="2.5" transform="rotate(25 1052.9 1637.1)" fill="#1e1e1e" opacity="0.85"/><ellipse cx="1139.7" cy="1651.9" rx="6.3" ry="2.6" transform="rotate(3 1139.7 1651.9)" fill="#4a4a4a" opacity="0.85"/><ellipse cx="1150.4" cy="1767.3" rx="6.0" ry="1.9" transform="rotate(98 1150.4 1767.3)" fill="#3a3a3a" opacity="0.85"/><ellipse cx="1198.3" cy="1853.3" rx="9.3" ry="5.6" transform="rotate(125 1198.3 1853.3)" fill="#1e1e1e" opacity="0.85"/><ellipse cx="1177.7" cy="1879.3" rx="5.2" ry="5.3" transform="rotate(133 1177.7 1879.3)" fill="#4a4a4a" opacity="0.85"/><ellipse cx="1183.7" cy="1861.3" rx="4.4" ry="2.4" transform="rotate(20 1183.7 1861.3)" fill="#4a4a4a" opacity="0.85"/><ellipse cx="1217.4" cy="1829.4" rx="9.8" ry="2.4" transform="rotate(18 1217.4 1829.4)" fill="#232323" opacity="0.85"/><ellipse cx="1141.1" cy="1821.0" rx="6.5" ry="4.7" transform="rotate(65 1141.1 1821.0)" fill="#1e1e1e" opacity="0.85"/><ellipse cx="1098.7" cy="1753.9" rx="3.4" ry="5.2" transform="rotate(28 1098.7 1753.9)" fill="#444" opacity="0.85"/><ellipse cx="1070.1" cy="1683.8" rx="9.9" ry="4.5" transform="rotate(74 1070.1 1683.8)" fill="#4a4a4a" opacity="0.85"/><ellipse cx="1175.2" cy="1836.7" rx="6.9" ry="4.4" transform="rotate(17 1175.2 1836.7)" fill="#1e1e1e" opacity="0.85"/><ellipse cx="1141.4" cy="1709.4" rx="8.9" ry="3.4" transform="rotate(62 1141.4 1709.4)" fill="#4a4a4a" opacity="0.85"/><ellipse cx="1053.3" cy="1708.1" rx="4.2" ry="1.9" transform="rotate(164 1053.3 1708.1)" fill="#4a4a4a" opacity="0.85"/><ellipse cx="1082.8" cy="1811.0" rx="9.0" ry="4.2" transform="rotate(77 1082.8 1811.0)" fill="#1e1e1e" opacity="0.85"/><ellipse cx="1110.8" cy="1827.5" rx="6.5" ry="2.1" transform="rotate(72 1110.8 1827.5)" fill="#4a4a4a" opacity="0.85"/><ellipse cx="1187.9" cy="1811.6" rx="9.9" ry="3.4" transform="rotate(126 1187.9 1811.6)" fill="#3a3a3a" opacity="0.85"/><ellipse cx="1217.7" cy="1851.0" rx="9.1" ry="3.2" transform="rotate(68 1217.7 1851.0)" fill="#4a4a4a" opacity="0.85"/><ellipse cx="1091.5" cy="1701.5" rx="5.5" ry="5.0" transform="rotate(163 1091.5 1701.5)" fill="#444" opacity="0.85"/><ellipse cx="1150.4" cy="1724.4" rx="6.6" ry="2.7" transform="rotate(95 1150.4 1724.4)" fill="#4a4a4a" opacity="0.85"/><ellipse cx="1047.1" cy="1677.6" rx="4.2" ry="4.5" transform="rotate(101 1047.1 1677.6)" fill="#444" opacity="0.85"/><ellipse cx="1164.0" cy="1820.2" rx="9.1" ry="4.3" transform="rotate(41 1164.0 1820.2)" fill="#232323" opacity="0.85"/><ellipse cx="1227.5" cy="1624.2" rx="9.6" ry="3.5" transform="rotate(106 1227.5 1624.2)" fill="#444" opacity="0.85"/><ellipse cx="1111.9" cy="1668.4" rx="6.0" ry="5.7" transform="rotate(160 1111.9 1668.4)" fill="#3a3a3a" opacity="0.85"/><ellipse cx="1167.3" cy="1879.2" rx="9.5" ry="4.2" transform="rotate(24 1167.3 1879.2)" fill="#444" opacity="0.85"/><ellipse cx="1044.2" cy="1673.7" rx="8.4" ry="3.6" transform="rotate(57 1044.2 1673.7)" fill="#4a4a4a" opacity="0.85"/><ellipse cx="1033.8" cy="1748.5" rx="9.2" ry="4.7" transform="rotate(160 1033.8 1748.5)" fill="#444" opacity="0.85"/><ellipse cx="1232.7" cy="1713.1" rx="8.0" ry="3.7" transform="rotate(157 1232.7 1713.1)" fill="#232323" opacity="0.85"/><ellipse cx="1041.3" cy="1752.0" rx="3.1" ry="4.8" transform="rotate(161 1041.3 1752.0)" fill="#232323" opacity="0.85"/><ellipse cx="1191.1" cy="1712.2" rx="3.4" ry="2.1" transform="rotate(37 1191.1 1712.2)" fill="#4a4a4a" opacity="0.85"/><ellipse cx="1054.1" cy="1662.2" rx="3.8" ry="4.9" transform="rotate(17 1054.1 1662.2)" fill="#444" opacity="0.85"/><ellipse cx="1065.3" cy="1706.7" rx="6.2" ry="3.7" transform="rotate(178 1065.3 1706.7)" fill="#3a3a3a" opacity="0.85"/></g>
<ellipse cx="1062" cy="1820" rx="42" ry="75" fill="#3a3a3a" stroke="#555" stroke-width="3" filter="url(#blur1)"/>
<g filter="url(#blur1)"><ellipse cx="1071.4" cy="1826.5" rx="6.6" ry="2.0" transform="rotate(126 1071.4 1826.5)" fill="#444" opacity="0.8"/><ellipse cx="1031.3" cy="1854.8" rx="6.0" ry="2.8" transform="rotate(128 1031.3 1854.8)" fill="#2a2a2a" opacity="0.8"/><ellipse cx="1077.2" cy="1831.8" rx="7.8" ry="3.5" transform="rotate(40 1077.2 1831.8)" fill="#2a2a2a" opacity="0.8"/><ellipse cx="1034.1" cy="1833.6" rx="5.2" ry="2.5" transform="rotate(68 1034.1 1833.6)" fill="#2a2a2a" opacity="0.8"/><ellipse cx="1064.4" cy="1857.3" rx="7.8" ry="3.6" transform="rotate(4 1064.4 1857.3)" fill="#444" opacity="0.8"/><ellipse cx="1035.3" cy="1788.7" rx="3.6" ry="3.2" transform="rotate(21 1035.3 1788.7)" fill="#444" opacity="0.8"/><ellipse cx="1048.1" cy="1796.9" rx="5.3" ry="3.1" transform="rotate(52 1048.1 1796.9)" fill="#444" opacity="0.8"/><ellipse cx="1040.4" cy="1806.7" rx="6.5" ry="3.9" transform="rotate(14 1040.4 1806.7)" fill="#2a2a2a" opacity="0.8"/><ellipse cx="1077.4" cy="1804.8" rx="6.7" ry="1.9" transform="rotate(154 1077.4 1804.8)" fill="#444" opacity="0.8"/><ellipse cx="1089.0" cy="1803.7" rx="4.8" ry="2.0" transform="rotate(165 1089.0 1803.7)" fill="#2a2a2a" opacity="0.8"/><ellipse cx="1084.1" cy="1863.6" rx="7.6" ry="4.4" transform="rotate(105 1084.1 1863.6)" fill="#333" opacity="0.8"/><ellipse cx="1043.2" cy="1792.5" rx="5.2" ry="3.8" transform="rotate(29 1043.2 1792.5)" fill="#2a2a2a" opacity="0.8"/><ellipse cx="1031.5" cy="1828.2" rx="3.0" ry="2.9" transform="rotate(163 1031.5 1828.2)" fill="#2a2a2a" opacity="0.8"/><ellipse cx="1074.0" cy="1862.7" rx="4.0" ry="2.8" transform="rotate(45 1074.0 1862.7)" fill="#2a2a2a" opacity="0.8"/><ellipse cx="1030.2" cy="1785.3" rx="6.5" ry="3.8" transform="rotate(37 1030.2 1785.3)" fill="#444" opacity="0.8"/><ellipse cx="1037.4" cy="1797.2" rx="5.7" ry="3.9" transform="rotate(68 1037.4 1797.2)" fill="#333" opacity="0.8"/><ellipse cx="1063.7" cy="1887.9" rx="3.4" ry="3.9" transform="rotate(111 1063.7 1887.9)" fill="#444" opacity="0.8"/><ellipse cx="1075.2" cy="1775.8" rx="5.0" ry="4.8" transform="rotate(162 1075.2 1775.8)" fill="#444" opacity="0.8"/><ellipse cx="1058.0" cy="1797.3" rx="5.0" ry="3.9" transform="rotate(105 1058.0 1797.3)" fill="#444" opacity="0.8"/><ellipse cx="1070.1" cy="1886.3" rx="3.1" ry="3.5" transform="rotate(164 1070.1 1886.3)" fill="#333" opacity="0.8"/><ellipse cx="1070.2" cy="1783.2" rx="3.9" ry="3.6" transform="rotate(66 1070.2 1783.2)" fill="#444" opacity="0.8"/><ellipse cx="1059.2" cy="1888.1" rx="5.0" ry="3.7" transform="rotate(169 1059.2 1888.1)" fill="#333" opacity="0.8"/><ellipse cx="1043.5" cy="1817.4" rx="3.5" ry="4.4" transform="rotate(100 1043.5 1817.4)" fill="#444" opacity="0.8"/><ellipse cx="1051.5" cy="1868.1" rx="6.3" ry="1.9" transform="rotate(166 1051.5 1868.1)" fill="#2a2a2a" opacity="0.8"/><ellipse cx="1054.2" cy="1805.3" rx="7.6" ry="3.7" transform="rotate(175 1054.2 1805.3)" fill="#333" opacity="0.8"/></g>
<path d="M1032 1690 L1070 1682 L1110 1712 L1135 1750 L1138 1775 L1115 1765 L1075 1735 L1032 1722 Z" fill="#5c5c5c" filter="url(#blur1)"/>
<g filter="url(#blur1)"><ellipse cx="1080.6" cy="1763.6" rx="2.1" ry="1.9" transform="rotate(173 1080.6 1763.6)" fill="#a8a8a8" opacity="0.7"/><ellipse cx="1045.6" cy="1714.4" rx="5.5" ry="2.3" transform="rotate(5 1045.6 1714.4)" fill="#a8a8a8" opacity="0.7"/><ellipse cx="1038.3" cy="1700.8" rx="4.8" ry="3.2" transform="rotate(10 1038.3 1700.8)" fill="#444" opacity="0.7"/><ellipse cx="1044.0" cy="1771.8" rx="2.6" ry="2.4" transform="rotate(150 1044.0 1771.8)" fill="#8a8a8a" opacity="0.7"/><ellipse cx="1075.2" cy="1686.6" rx="5.3" ry="3.0" transform="rotate(60 1075.2 1686.6)" fill="#a8a8a8" opacity="0.7"/><ellipse cx="1064.9" cy="1730.4" rx="4.8" ry="1.9" transform="rotate(141 1064.9 1730.4)" fill="#a8a8a8" opacity="0.7"/><ellipse cx="1126.7" cy="1701.6" rx="3.7" ry="1.4" transform="rotate(105 1126.7 1701.6)" fill="#8a8a8a" opacity="0.7"/><ellipse cx="1041.4" cy="1738.9" rx="2.4" ry="3.2" transform="rotate(83 1041.4 1738.9)" fill="#8a8a8a" opacity="0.7"/><ellipse cx="1082.0" cy="1741.4" rx="5.5" ry="2.7" transform="rotate(82 1082.0 1741.4)" fill="#a8a8a8" opacity="0.7"/><ellipse cx="1039.4" cy="1685.5" rx="2.6" ry="2.1" transform="rotate(143 1039.4 1685.5)" fill="#6a6a6a" opacity="0.7"/><ellipse cx="1043.4" cy="1750.3" rx="2.8" ry="1.2" transform="rotate(86 1043.4 1750.3)" fill="#a8a8a8" opacity="0.7"/><ellipse cx="1128.0" cy="1722.9" rx="5.2" ry="1.7" transform="rotate(29 1128.0 1722.9)" fill="#444" opacity="0.7"/><ellipse cx="1103.1" cy="1698.1" rx="3.3" ry="3.1" transform="rotate(10 1103.1 1698.1)" fill="#a8a8a8" opacity="0.7"/><ellipse cx="1037.9" cy="1729.1" rx="2.9" ry="2.8" transform="rotate(179 1037.9 1729.1)" fill="#444" opacity="0.7"/><ellipse cx="1064.8" cy="1705.1" rx="5.2" ry="3.0" transform="rotate(170 1064.8 1705.1)" fill="#8a8a8a" opacity="0.7"/><ellipse cx="1119.5" cy="1741.9" rx="2.6" ry="3.0" transform="rotate(5 1119.5 1741.9)" fill="#444" opacity="0.7"/><ellipse cx="1073.7" cy="1744.3" rx="3.7" ry="2.5" transform="rotate(6 1073.7 1744.3)" fill="#444" opacity="0.7"/><ellipse cx="1094.2" cy="1705.8" rx="4.8" ry="2.5" transform="rotate(95 1094.2 1705.8)" fill="#a8a8a8" opacity="0.7"/><ellipse cx="1094.4" cy="1685.8" rx="3.5" ry="2.9" transform="rotate(20 1094.4 1685.8)" fill="#8a8a8a" opacity="0.7"/><ellipse cx="1064.4" cy="1706.3" rx="2.5" ry="3.0" transform="rotate(106 1064.4 1706.3)" fill="#8a8a8a" opacity="0.7"/><ellipse cx="1033.9" cy="1750.1" rx="5.1" ry="2.0" transform="rotate(108 1033.9 1750.1)" fill="#6a6a6a" opacity="0.7"/><ellipse cx="1035.7" cy="1751.6" rx="3.2" ry="2.4" transform="rotate(45 1035.7 1751.6)" fill="#6a6a6a" opacity="0.7"/><ellipse cx="1136.5" cy="1706.6" rx="4.9" ry="1.8" transform="rotate(108 1136.5 1706.6)" fill="#6a6a6a" opacity="0.7"/><ellipse cx="1066.9" cy="1772.3" rx="5.7" ry="2.3" transform="rotate(130 1066.9 1772.3)" fill="#6a6a6a" opacity="0.7"/><ellipse cx="1034.5" cy="1722.2" rx="3.4" ry="2.9" transform="rotate(167 1034.5 1722.2)" fill="#6a6a6a" opacity="0.7"/></g>
<ellipse cx="1140" cy="1830" rx="12" ry="9" fill="#555" filter="url(#blur1)"/>
<ellipse cx="1184" cy="1644" rx="36" ry="24" fill="#696969"/>
<g><path d="M1151.6 1663.2 q 6 -16.8 14.0 -31.2" stroke="#575757" stroke-width="1.5" fill="none"/><path d="M1159.5 1663.2 q 6 -16.8 15.0 -31.2" stroke="#575757" stroke-width="1.5" fill="none"/><path d="M1167.4 1663.2 q 6 -16.8 16.0 -31.2" stroke="#575757" stroke-width="1.5" fill="none"/><path d="M1175.4 1663.2 q 6 -16.8 17.0 -31.2" stroke="#575757" stroke-width="1.5" fill="none"/><path d="M1183.3 1663.2 q 6 -16.8 18.0 -31.2" stroke="#575757" stroke-width="1.5" fill="none"/><path d="M1191.2 1663.2 q 6 -16.8 19.0 -31.2" stroke="#575757" stroke-width="1.5" fill="none"/><path d="M1199.1 1663.2 q 6 -16.8 20.0 -31.2" stroke="#575757" stroke-width="1.5" fill="none"/><path d="M1207.0 1663.2 q 6 -16.8 21.0 -31.2" stroke="#575757" stroke-width="1.5" fill="none"/><path d="M1215.0 1663.2 q 6 -16.8 22.0 -31.2" stroke="#575757" stroke-width="1.5" fill="none"/></g>
<path d="M1145 1666 L1195 1668 L1194 1760 L1176 1792 L1160 1750 L1150 1700 Z" fill="#1c1c1c" filter="url(#blur1)"/>
<clipPath id="cpS2b"><path d="M1200 1690 Q1218 1676 1233 1678 L1233 1850 Q1215 1846 1200 1835 Q1190 1790 1192 1745 Q1193 1710 1200 1690 Z"/></clipPath>
<path d="M1200 1690 Q1218 1676 1233 1678 L1233 1850 Q1215 1846 1200 1835 Q1190 1790 1192 1745 Q1193 1710 1200 1690 Z" fill="#6a6a6a" filter="url(#blur1)"/>
<g clip-path="url(#cpS2b)"><g filter="url(#blur1)"><ellipse cx="1208.0" cy="1777.5" rx="7.1" ry="4.5" transform="rotate(159 1208.0 1777.5)" fill="#e8e8e8" opacity="0.9"/><ellipse cx="1230.6" cy="1686.3" rx="7.8" ry="2.6" transform="rotate(105 1230.6 1686.3)" fill="#b0b0b0" opacity="0.9"/><ellipse cx="1185.1" cy="1735.7" rx="2.5" ry="2.0" transform="rotate(94 1185.1 1735.7)" fill="#d6d6d6" opacity="0.9"/><ellipse cx="1199.6" cy="1804.5" rx="6.4" ry="1.7" transform="rotate(70 1199.6 1804.5)" fill="#b0b0b0" opacity="0.9"/><ellipse cx="1211.2" cy="1786.4" rx="4.1" ry="2.5" transform="rotate(37 1211.2 1786.4)" fill="#3a3a3a" opacity="0.9"/><ellipse cx="1189.5" cy="1697.9" rx="6.5" ry="3.3" transform="rotate(43 1189.5 1697.9)" fill="#909090" opacity="0.9"/><ellipse cx="1223.2" cy="1776.7" rx="6.6" ry="4.2" transform="rotate(51 1223.2 1776.7)" fill="#d6d6d6" opacity="0.9"/><ellipse cx="1210.8" cy="1834.9" rx="3.6" ry="2.1" transform="rotate(141 1210.8 1834.9)" fill="#e8e8e8" opacity="0.9"/><ellipse cx="1203.9" cy="1833.8" rx="5.4" ry="4.2" transform="rotate(85 1203.9 1833.8)" fill="#505050" opacity="0.9"/><ellipse cx="1199.2" cy="1752.7" rx="3.3" ry="2.0" transform="rotate(56 1199.2 1752.7)" fill="#e8e8e8" opacity="0.9"/><ellipse cx="1207.4" cy="1777.3" rx="4.1" ry="4.6" transform="rotate(73 1207.4 1777.3)" fill="#e8e8e8" opacity="0.9"/><ellipse cx="1220.4" cy="1835.7" rx="6.5" ry="2.7" transform="rotate(134 1220.4 1835.7)" fill="#505050" opacity="0.9"/><ellipse cx="1183.5" cy="1803.5" rx="4.3" ry="2.6" transform="rotate(139 1183.5 1803.5)" fill="#909090" opacity="0.9"/><ellipse cx="1202.0" cy="1759.3" rx="6.1" ry="1.5" transform="rotate(129 1202.0 1759.3)" fill="#909090" opacity="0.9"/><ellipse cx="1193.8" cy="1768.2" rx="2.8" ry="2.4" transform="rotate(90 1193.8 1768.2)" fill="#d6d6d6" opacity="0.9"/><ellipse cx="1225.5" cy="1770.8" rx="6.7" ry="2.3" transform="rotate(125 1225.5 1770.8)" fill="#b0b0b0" opacity="0.9"/><ellipse cx="1204.8" cy="1706.5" rx="6.1" ry="3.9" transform="rotate(68 1204.8 1706.5)" fill="#b0b0b0" opacity="0.9"/><ellipse cx="1185.9" cy="1732.0" rx="3.4" ry="1.9" transform="rotate(134 1185.9 1732.0)" fill="#505050" opacity="0.9"/><ellipse cx="1217.3" cy="1825.1" rx="6.5" ry="4.3" transform="rotate(109 1217.3 1825.1)" fill="#3a3a3a" opacity="0.9"/><ellipse cx="1231.2" cy="1679.1" rx="7.0" ry="3.6" transform="rotate(113 1231.2 1679.1)" fill="#b0b0b0" opacity="0.9"/><ellipse cx="1187.7" cy="1744.6" rx="7.7" ry="2.5" transform="rotate(177 1187.7 1744.6)" fill="#3a3a3a" opacity="0.9"/><ellipse cx="1204.0" cy="1713.1" rx="7.3" ry="4.7" transform="rotate(56 1204.0 1713.1)" fill="#909090" opacity="0.9"/><ellipse cx="1194.1" cy="1772.0" rx="6.6" ry="3.7" transform="rotate(27 1194.1 1772.0)" fill="#3a3a3a" opacity="0.9"/><ellipse cx="1213.6" cy="1792.5" rx="4.0" ry="4.4" transform="rotate(140 1213.6 1792.5)" fill="#505050" opacity="0.9"/><ellipse cx="1206.4" cy="1769.3" rx="3.9" ry="4.5" transform="rotate(64 1206.4 1769.3)" fill="#d6d6d6" opacity="0.9"/><ellipse cx="1229.7" cy="1734.7" rx="6.8" ry="2.5" transform="rotate(159 1229.7 1734.7)" fill="#e8e8e8" opacity="0.9"/><ellipse cx="1216.1" cy="1681.2" rx="4.2" ry="2.1" transform="rotate(91 1216.1 1681.2)" fill="#d6d6d6" opacity="0.9"/><ellipse cx="1180.5" cy="1803.7" rx="5.7" ry="3.5" transform="rotate(71 1180.5 1803.7)" fill="#d6d6d6" opacity="0.9"/><ellipse cx="1230.0" cy="1774.5" rx="7.2" ry="2.9" transform="rotate(110 1230.0 1774.5)" fill="#b0b0b0" opacity="0.9"/><ellipse cx="1220.4" cy="1743.5" rx="6.0" ry="3.6" transform="rotate(155 1220.4 1743.5)" fill="#e8e8e8" opacity="0.9"/><ellipse cx="1219.7" cy="1682.8" rx="7.9" ry="3.3" transform="rotate(122 1219.7 1682.8)" fill="#505050" opacity="0.9"/><ellipse cx="1198.4" cy="1712.9" rx="7.0" ry="4.1" transform="rotate(68 1198.4 1712.9)" fill="#b0b0b0" opacity="0.9"/><ellipse cx="1217.6" cy="1687.7" rx="5.6" ry="4.1" transform="rotate(9 1217.6 1687.7)" fill="#d6d6d6" opacity="0.9"/><ellipse cx="1193.9" cy="1737.3" rx="4.3" ry="2.5" transform="rotate(175 1193.9 1737.3)" fill="#505050" opacity="0.9"/><ellipse cx="1222.1" cy="1773.4" rx="4.2" ry="3.0" transform="rotate(107 1222.1 1773.4)" fill="#3a3a3a" opacity="0.9"/><ellipse cx="1219.4" cy="1813.8" rx="4.4" ry="2.3" transform="rotate(10 1219.4 1813.8)" fill="#b0b0b0" opacity="0.9"/><ellipse cx="1192.3" cy="1739.5" rx="6.9" ry="1.9" transform="rotate(167 1192.3 1739.5)" fill="#3a3a3a" opacity="0.9"/><ellipse cx="1205.1" cy="1815.2" rx="3.9" ry="1.9" transform="rotate(156 1205.1 1815.2)" fill="#b0b0b0" opacity="0.9"/><ellipse cx="1217.6" cy="1722.7" rx="4.3" ry="4.3" transform="rotate(25 1217.6 1722.7)" fill="#e8e8e8" opacity="0.9"/><ellipse cx="1200.3" cy="1739.3" rx="7.0" ry="3.8" transform="rotate(92 1200.3 1739.3)" fill="#d6d6d6" opacity="0.9"/><ellipse cx="1201.2" cy="1712.7" rx="6.5" ry="3.7" transform="rotate(168 1201.2 1712.7)" fill="#b0b0b0" opacity="0.9"/><ellipse cx="1216.5" cy="1776.0" rx="7.1" ry="1.7" transform="rotate(110 1216.5 1776.0)" fill="#e8e8e8" opacity="0.9"/><ellipse cx="1180.3" cy="1799.2" rx="6.0" ry="4.8" transform="rotate(54 1180.3 1799.2)" fill="#e8e8e8" opacity="0.9"/><ellipse cx="1183.1" cy="1759.2" rx="7.9" ry="3.3" transform="rotate(112 1183.1 1759.2)" fill="#3a3a3a" opacity="0.9"/><ellipse cx="1220.6" cy="1699.6" rx="6.1" ry="2.5" transform="rotate(38 1220.6 1699.6)" fill="#909090" opacity="0.9"/><ellipse cx="1197.2" cy="1797.3" rx="7.7" ry="4.6" transform="rotate(153 1197.2 1797.3)" fill="#909090" opacity="0.9"/><ellipse cx="1214.4" cy="1769.4" rx="3.1" ry="1.7" transform="rotate(54 1214.4 1769.4)" fill="#505050" opacity="0.9"/><ellipse cx="1208.0" cy="1826.6" rx="7.4" ry="1.6" transform="rotate(50 1208.0 1826.6)" fill="#909090" opacity="0.9"/><ellipse cx="1184.7" cy="1811.0" rx="6.9" ry="4.0" transform="rotate(20 1184.7 1811.0)" fill="#d6d6d6" opacity="0.9"/><ellipse cx="1202.4" cy="1817.4" rx="5.0" ry="4.7" transform="rotate(142 1202.4 1817.4)" fill="#909090" opacity="0.9"/><ellipse cx="1186.1" cy="1689.1" rx="6.3" ry="3.7" transform="rotate(64 1186.1 1689.1)" fill="#3a3a3a" opacity="0.9"/><ellipse cx="1228.1" cy="1796.4" rx="7.2" ry="1.8" transform="rotate(167 1228.1 1796.4)" fill="#505050" opacity="0.9"/><ellipse cx="1230.9" cy="1707.6" rx="5.4" ry="2.2" transform="rotate(76 1230.9 1707.6)" fill="#b0b0b0" opacity="0.9"/><ellipse cx="1187.1" cy="1683.4" rx="7.3" ry="3.3" transform="rotate(22 1187.1 1683.4)" fill="#505050" opacity="0.9"/><ellipse cx="1230.8" cy="1766.9" rx="7.3" ry="3.7" transform="rotate(140 1230.8 1766.9)" fill="#b0b0b0" opacity="0.9"/><ellipse cx="1219.8" cy="1761.8" rx="4.4" ry="3.1" transform="rotate(18 1219.8 1761.8)" fill="#d6d6d6" opacity="0.9"/><ellipse cx="1214.7" cy="1732.8" rx="4.6" ry="4.0" transform="rotate(45 1214.7 1732.8)" fill="#d6d6d6" opacity="0.9"/><ellipse cx="1198.9" cy="1813.1" rx="5.4" ry="2.4" transform="rotate(71 1198.9 1813.1)" fill="#505050" opacity="0.9"/><ellipse cx="1219.6" cy="1765.1" rx="3.6" ry="1.7" transform="rotate(122 1219.6 1765.1)" fill="#909090" opacity="0.9"/><ellipse cx="1196.4" cy="1819.0" rx="7.8" ry="4.2" transform="rotate(93 1196.4 1819.0)" fill="#909090" opacity="0.9"/><ellipse cx="1209.8" cy="1793.9" rx="6.7" ry="4.7" transform="rotate(73 1209.8 1793.9)" fill="#b0b0b0" opacity="0.9"/><ellipse cx="1224.4" cy="1802.7" rx="3.7" ry="1.8" transform="rotate(122 1224.4 1802.7)" fill="#e8e8e8" opacity="0.9"/><ellipse cx="1191.8" cy="1706.3" rx="3.3" ry="2.1" transform="rotate(111 1191.8 1706.3)" fill="#3a3a3a" opacity="0.9"/><ellipse cx="1217.0" cy="1771.8" rx="2.6" ry="3.0" transform="rotate(113 1217.0 1771.8)" fill="#909090" opacity="0.9"/><ellipse cx="1194.6" cy="1733.7" rx="4.5" ry="3.9" transform="rotate(52 1194.6 1733.7)" fill="#505050" opacity="0.9"/><ellipse cx="1209.1" cy="1783.0" rx="3.1" ry="4.4" transform="rotate(85 1209.1 1783.0)" fill="#505050" opacity="0.9"/><ellipse cx="1208.0" cy="1721.8" rx="4.6" ry="2.4" transform="rotate(123 1208.0 1721.8)" fill="#909090" opacity="0.9"/><ellipse cx="1199.2" cy="1847.2" rx="6.6" ry="4.0" transform="rotate(159 1199.2 1847.2)" fill="#b0b0b0" opacity="0.9"/><ellipse cx="1223.0" cy="1800.3" rx="7.9" ry="3.5" transform="rotate(92 1223.0 1800.3)" fill="#505050" opacity="0.9"/><ellipse cx="1214.8" cy="1815.5" rx="3.8" ry="3.1" transform="rotate(45 1214.8 1815.5)" fill="#3a3a3a" opacity="0.9"/></g></g>
<path d="M1118 1619 L1143 1619 L1150 1690 L1160 1760 L1176 1840 L1190 1888 L1172 1888 L1158 1840 L1146 1780 L1128 1714 L1118 1671 Z" fill="none" stroke="#151515" stroke-width="12" stroke-linejoin="round"/>
<path d="M1075 1619 L1125 1619 L1125 1675 L1105 1680 L1088 1660 Z" fill="#7a7a7a"/>
<path d="M1118 1619 L1143 1619 L1150 1690 L1160 1760 L1176 1840 L1190 1888 L1172 1888 L1158 1840 L1146 1780 L1128 1714 L1118 1671 Z" fill="#838383"/>
</g>
<rect x="1030.2" y="1618.8" width="202.79999999999995" height="266.70000000000005" fill="none" stroke="#4A1A5A" stroke-width="2.8"/>
<circle cx="850.8" cy="1343.3" r="21.5" fill="#fff" stroke="#C8541E" stroke-width="5.5"/>
<text x="850.8" y="1353.7" font-size="29" font-weight="bold" text-anchor="middle" fill="#000">1</text>
<circle cx="1064.7" cy="1343.1" r="21.5" fill="#fff" stroke="#C8541E" stroke-width="5.5"/>
<text x="1064.7" y="1353.5" font-size="29" font-weight="bold" text-anchor="middle" fill="#000">1</text>
<circle cx="849.1" cy="1649" r="20.1" fill="#fff" stroke="#275870" stroke-width="5.4"/>
<text x="849.1" y="1659.4" font-size="29" font-weight="bold" text-anchor="middle" fill="#000">2</text>
<circle cx="1063.5" cy="1647.5" r="20.1" fill="#fff" stroke="#275870" stroke-width="5.4"/>
<text x="1063.5" y="1657.9" font-size="29" font-weight="bold" text-anchor="middle" fill="#000">2</text>
<line x1="872" y1="1438" x2="890.9" y2="1453.4" stroke="#F02010" stroke-width="5"/>
<path d="M899 1460 L885.9 1459.6 L896.0 1447.2 Z" fill="#F02010"/>
<line x1="1207" y1="1432" x2="1185.4" y2="1447.8" stroke="#F02010" stroke-width="5"/>
<path d="M1177 1454 L1180.7 1441.4 L1190.1 1454.3 Z" fill="#F02010"/>
<line x1="860" y1="1737" x2="879.8" y2="1752.6" stroke="#F02010" stroke-width="5"/>
<path d="M888 1759 L874.9 1758.9 L884.8 1746.3 Z" fill="#F02010"/>
<line x1="1200" y1="1745" x2="1176.4" y2="1761.9" stroke="#F02010" stroke-width="5"/>
<path d="M1168 1768 L1171.8 1755.4 L1181.1 1768.4 Z" fill="#F02010"/>
<path d="M1164.5 1460 V1472 M1164.5 1466 H1176.4 M1176.4 1460 V1472" stroke="#F02010" stroke-width="1.6" fill="none"/>
<path d="M1151 1783 V1797 M1151 1790 H1173 M1173 1783 V1797" stroke="#F02010" stroke-width="1.6" fill="none"/>
<text x="1" y="59.5" font-size="40" fill="#000" font-weight="bold">a</text>
<text x="55" y="59.5" font-size="33" fill="#000" textLength="326.7" lengthAdjust="spacingAndGlyphs">Brain damage outcome</text>
<text x="885" y="23.4" font-size="26.5" fill="#000" textLength="252.6" lengthAdjust="spacingAndGlyphs">1<tspan font-size="16" dy="-10">st</tspan><tspan dy="10"> PCA component:</tspan></text>
<text x="920.8" y="57.3" font-size="28.5" fill="#7030A0" textLength="183" lengthAdjust="spacingAndGlyphs">Brain Damage</text>
<path d="M56 79 V560.5 H742" fill="none" stroke="#333" stroke-width="2"/>
<rect x="618" y="78.5" width="125.5" height="92.8" fill="#fff" stroke="#555" stroke-width="1.6"/>
<text x="176" y="122.7" font-size="24" fill="#111" textLength="398.7" lengthAdjust="spacingAndGlyphs"><tspan font-style="italic">R</tspan> = 0.47   <tspan font-style="italic">R</tspan><tspan font-size="14.879999999999999" dy="-11.2">2</tspan><tspan dy="11.2"> </tspan>= 0.22   <tspan font-style="italic">p</tspan> &lt; 2.2e-16</text>
<text x="87" y="503" font-size="27.5" fill="#111" textLength="105.4" lengthAdjust="spacingAndGlyphs">n<tspan font-size="19.8" dy="7.7">s</tspan><tspan dy="-7.7"> = 469</tspan></text>
<text x="87" y="537" font-size="27.5" fill="#111" textLength="105.4" lengthAdjust="spacingAndGlyphs">n<tspan font-size="19.8" dy="7.7">p</tspan><tspan dy="-7.7"> = 232</tspan></text>
<text x="428" y="527.7" font-size="21.5" fill="#333" textLength="76.4" lengthAdjust="spacingAndGlyphs">BPFr =</text>
<line x1="515" y1="517.3" x2="749.4" y2="517.3" stroke="#444" stroke-width="2"/>
<text x="526.9" y="506.7" font-size="21.5" fill="#C4957F" textLength="213" lengthAdjust="spacingAndGlyphs">brain tissue volume</text>
<text x="531" y="543" font-size="21.5" fill="#333" textLength="208.4" lengthAdjust="spacingAndGlyphs">intracranial volume</text>
<text x="184.5" y="597.4" font-size="28" fill="#111" textLength="428.5" lengthAdjust="spacingAndGlyphs">Brain parenchymal fraction (BPFr)</text>
<text transform="translate(32.8,544.7) rotate(-90)" font-size="30.5" fill="#111" textLength="449.9" lengthAdjust="spacingAndGlyphs">Symbol-digit modalities test (SDMT)</text>
<path d="M821.5 79 V289 H1232" fill="none" stroke="#333" stroke-width="2"/>
<path d="M821.5 350 V560.5 H1232" fill="none" stroke="#333" stroke-width="2"/>
<text x="841.6" y="112.4" font-size="26" fill="#111" textLength="381" lengthAdjust="spacingAndGlyphs"><tspan font-style="italic">R</tspan> = − 0.84  <tspan font-style="italic">R</tspan><tspan font-size="16.12" dy="-12.1">2</tspan><tspan dy="12.1"> </tspan>= 0.71 <tspan font-style="italic">p</tspan> &lt; 2.2e-16</text>
<text x="841.6" y="383.6" font-size="26" fill="#111" textLength="381" lengthAdjust="spacingAndGlyphs"><tspan font-style="italic">R</tspan> = − 0.87  <tspan font-style="italic">R</tspan><tspan font-size="16.12" dy="-12.1">2</tspan><tspan dy="12.1"> </tspan>= 0.76 <tspan font-style="italic">p</tspan> &lt; 2.2e-16</text>
<text x="841.5" y="241.5" font-size="26.5" fill="#111" textLength="97" lengthAdjust="spacingAndGlyphs">n<tspan font-size="19.1" dy="7.4">s</tspan><tspan dy="-7.4"> = 469</tspan></text>
<text x="841.5" y="269.8" font-size="26.5" fill="#111" textLength="98.5" lengthAdjust="spacingAndGlyphs">n<tspan font-size="19.1" dy="7.4">p</tspan><tspan dy="-7.4"> = 232</tspan></text>
<text x="841.5" y="513.5" font-size="26.5" fill="#111" textLength="97" lengthAdjust="spacingAndGlyphs">n<tspan font-size="19.1" dy="7.4">s</tspan><tspan dy="-7.4"> = 469</tspan></text>
<text x="841.5" y="540.7" font-size="26.5" fill="#111" textLength="98.5" lengthAdjust="spacingAndGlyphs">n<tspan font-size="19.1" dy="7.4">p</tspan><tspan dy="-7.4"> = 232</tspan></text>
<text x="1028" y="324.4" font-size="27" fill="#111" text-anchor="middle">BPFr</text>
<text x="1026.4" y="597.2" font-size="27" fill="#111" text-anchor="middle">SDMT</text>
<text transform="translate(798.9,408.8) rotate(-90)" font-size="31.4" fill="#7030A0" textLength="176.2" lengthAdjust="spacingAndGlyphs">Brain damage</text>
<text x="2.7" y="656.3" font-size="40" fill="#000" font-weight="bold">b</text>
<text x="56" y="658.4" font-size="33" fill="#000" textLength="566" lengthAdjust="spacingAndGlyphs">Combinatorial Weigh-adjusted Disability</text>
<text x="56" y="693.7" font-size="33" fill="#000" textLength="416.5" lengthAdjust="spacingAndGlyphs">Scale (CombiWISE) outcome</text>
<rect x="55" y="721.6" width="689.8" height="474.8" fill="none" stroke="#555" stroke-width="2"/>
<text x="190.3" y="786.2" font-size="30.5" fill="#111A55" textLength="431" lengthAdjust="spacingAndGlyphs">Scripps Neurological Rating Scale</text>
<text x="190.3" y="821.3" font-size="30.5" fill="#111A55" textLength="95.5" lengthAdjust="spacingAndGlyphs">(SNRS)</text>
<text x="190.8" y="882.5" font-size="30.5" fill="#111A55" textLength="423" lengthAdjust="spacingAndGlyphs">Expanded Disability Status Scale</text>
<text x="190.3" y="916.8" font-size="30.5" fill="#111A55" textLength="97.3" lengthAdjust="spacingAndGlyphs">(EDSS)</text>
<text x="192" y="1007.2" font-size="28" fill="#111" textLength="240.6" lengthAdjust="spacingAndGlyphs">Timed 25 foot walk</text>
<text x="192" y="1041.2" font-size="28" fill="#111" textLength="112.6" lengthAdjust="spacingAndGlyphs">(T25FW)</text>
<text x="192" y="1102.3" font-size="28" fill="#111" textLength="449.2" lengthAdjust="spacingAndGlyphs">Non-dominant hand 9 hole peg test</text>
<text x="192" y="1136.3" font-size="28" fill="#111" textLength="91.1" lengthAdjust="spacingAndGlyphs">(9HPT)</text>
<text x="1018.8" y="659.6" font-size="28" fill="#111" text-anchor="middle">calculation formula:</text>
<text x="1018.8" y="693.5" font-size="28" fill="#7030A0" text-anchor="middle">CombiWISE</text>
<path d="M818 721 V932 H1229.3" fill="none" stroke="#333" stroke-width="2"/>
<path d="M818 985.5 V1194.6 H1229.3" fill="none" stroke="#333" stroke-width="2"/>
<text x="839" y="756.5" font-size="26" fill="#111" textLength="381.6" lengthAdjust="spacingAndGlyphs"><tspan font-style="italic">R</tspan> = 0.96   <tspan font-style="italic">R</tspan><tspan font-size="16.12" dy="-12.1">2</tspan><tspan dy="12.1"> </tspan>= 0.91   <tspan font-style="italic">p</tspan> &lt; 2.2e-16</text>
<text x="839" y="1020.6" font-size="26" fill="#111" textLength="381.6" lengthAdjust="spacingAndGlyphs"><tspan font-style="italic">R</tspan> = 0.78   <tspan font-style="italic">R</tspan><tspan font-size="16.12" dy="-12.1">2</tspan><tspan dy="12.1"> </tspan>= 0.61   <tspan font-style="italic">p</tspan> &lt; 2.2e-16</text>
<text x="1111.3" y="881" font-size="27" fill="#111" textLength="98" lengthAdjust="spacingAndGlyphs">n<tspan font-size="19.4" dy="7.6">s</tspan><tspan dy="-7.6"> = 580</tspan></text>
<text x="1111.3" y="912.4" font-size="27" fill="#111" textLength="98" lengthAdjust="spacingAndGlyphs">n<tspan font-size="19.4" dy="7.6">p</tspan><tspan dy="-7.6"> = 295</tspan></text>
<text x="1111.3" y="1142.6" font-size="27" fill="#111" textLength="98" lengthAdjust="spacingAndGlyphs">n<tspan font-size="19.4" dy="7.6">s</tspan><tspan dy="-7.6"> = 542</tspan></text>
<text x="1111.3" y="1175" font-size="27" fill="#111" textLength="98" lengthAdjust="spacingAndGlyphs">n<tspan font-size="19.4" dy="7.6">p</tspan><tspan dy="-7.6"> = 287</tspan></text>
<text x="1023.4" y="967.8" font-size="27" fill="#111" text-anchor="middle">EDSS</text>
<text x="1024.5" y="1231.5" font-size="27" fill="#111" text-anchor="middle">T25FW</text>
<text transform="translate(798.9,1025.6) rotate(-90)" font-size="31.4" fill="#7030A0" textLength="153.7" lengthAdjust="spacingAndGlyphs">CombiWISE</text>
<text x="3" y="1293" font-size="40" fill="#000" font-weight="bold">c</text>
<text x="54" y="1293" font-size="33" fill="#000" textLength="547.5" lengthAdjust="spacingAndGlyphs">Spinal cord (SC) disability outcome</text>
<path d="M52.3 1311.5 V1880.2 H740" fill="none" stroke="#333" stroke-width="2"/>
<line x1="758.3" y1="1311.5" x2="758.3" y2="1882" stroke="#222" stroke-width="1.5"/>
<text x="76.2" y="1348.3" font-size="28.4" fill="#C1440E" textLength="169.9" lengthAdjust="spacingAndGlyphs">proportionally</text>
<text x="76.2" y="1381.7" font-size="28.4" fill="#C1440E" textLength="218.4" lengthAdjust="spacingAndGlyphs">physical disability</text>
<text x="335" y="1359.5" font-size="24" fill="#111" textLength="387.6" lengthAdjust="spacingAndGlyphs"><tspan font-style="italic">R</tspan> = 0.59  <tspan font-style="italic">R</tspan><tspan font-size="14.879999999999999" dy="-11.2">2</tspan><tspan dy="11.2"> </tspan>= 0.35 <tspan font-style="italic">p</tspan> &lt; 2.2e-16</text>
<text x="529" y="1830.4" font-size="28.4" fill="#430D4A" textLength="169.5" lengthAdjust="spacingAndGlyphs">proportionally</text>
<text x="492" y="1864.3" font-size="28.4" fill="#430D4A" textLength="228.8" lengthAdjust="spacingAndGlyphs">cognitive disability</text>
<text x="100" y="1863" font-size="27" fill="#111" textLength="237" lengthAdjust="spacingAndGlyphs">n<tspan font-size="19" dy="7.5">s</tspan><tspan dy="-7.5"> = 456   n</tspan><tspan font-size="19" dy="7.5">p</tspan><tspan dy="-7.5"> = 229</tspan></text>
<text x="176.5" y="1918.4" font-size="28" fill="#111" textLength="438.5" lengthAdjust="spacingAndGlyphs">Cognitive disability (Brain damage)</text>
<text transform="translate(29.8,1796.4) rotate(-90)" font-size="29.8" fill="#111" textLength="399.5" lengthAdjust="spacingAndGlyphs">Physical disability (CombiWISE)</text>
<text x="846.3" y="1603" font-size="30" fill="#C1440E" textLength="166.6" lengthAdjust="spacingAndGlyphs">brain atrophy</text>
<text x="1071" y="1603" font-size="30" fill="#C1440E" textLength="146.5" lengthAdjust="spacingAndGlyphs">SC atrophy</text>
<text x="860.4" y="1917" font-size="29.5" fill="#430D4A" textLength="169.3" lengthAdjust="spacingAndGlyphs">brain atrophy</text>
<text x="1059" y="1917" font-size="29.5" fill="#430D4A" textLength="145.7" lengthAdjust="spacingAndGlyphs">SC atrophy</text>
<text x="2.5" y="2007.7" font-size="40" fill="#000" font-weight="bold">d</text>
<text x="54.2" y="2006.7" font-size="30" fill="#000" textLength="266.8" lengthAdjust="spacingAndGlyphs">Untreated samples</text>
<text x="673.7" y="2007.7" font-size="30" fill="#000" textLength="177" lengthAdjust="spacingAndGlyphs">All samples (</text>
<text x="884.8" y="2007.7" font-size="30" fill="#000" textLength="107.4" lengthAdjust="spacingAndGlyphs">treated)</text>
<circle cx="867.8" cy="1997.6" r="8" fill="none" stroke="#E8201C" stroke-width="3"/>
<path d="M52.7 2029 V2445.4 H611" fill="none" stroke="#333" stroke-width="2"/>
<path d="M670.2 2029 V2445.4 H1229" fill="none" stroke="#333" stroke-width="2"/>
<text x="79.3" y="2068" font-size="26.5" fill="#111" textLength="121.4" lengthAdjust="spacingAndGlyphs"><tspan font-style="italic">R</tspan> = − 0.38</text>
<text x="257" y="2068" font-size="26.5" fill="#111" textLength="114.2" lengthAdjust="spacingAndGlyphs"><tspan font-style="italic">R</tspan><tspan font-size="16.43" dy="-12.3">2</tspan><tspan dy="12.3"> </tspan>= 0.14</text>
<text x="419" y="2068" font-size="26.5" fill="#111" textLength="115.2" lengthAdjust="spacingAndGlyphs"><tspan font-style="italic">p</tspan> = 1e-04</text>
<text x="697.8" y="2068" font-size="26.5" fill="#111" textLength="121.4" lengthAdjust="spacingAndGlyphs"><tspan font-style="italic">R</tspan> = − 0.43</text>
<text x="875.3" y="2068" font-size="26.5" fill="#111" textLength="114.2" lengthAdjust="spacingAndGlyphs"><tspan font-style="italic">R</tspan><tspan font-size="16.43" dy="-12.3">2</tspan><tspan dy="12.3"> </tspan>= 0.19</text>
<text x="1036.4" y="2068" font-size="26.5" fill="#111" textLength="133.9" lengthAdjust="spacingAndGlyphs"><tspan font-style="italic">p</tspan> = 3.8e-11</text>
<text x="78.8" y="2376.7" font-size="26.5" fill="#111" textLength="102.8" lengthAdjust="spacingAndGlyphs">n<tspan font-size="19.1" dy="7.4">s</tspan><tspan dy="-7.4"> = 101</tspan></text>
<text x="78.8" y="2416.8" font-size="26.5" fill="#111" textLength="88.2" lengthAdjust="spacingAndGlyphs">n<tspan font-size="19.1" dy="7.4">p</tspan><tspan dy="-7.4"> = 79</tspan></text>
<text x="696.3" y="2376.7" font-size="26.5" fill="#111" textLength="106.3" lengthAdjust="spacingAndGlyphs">n<tspan font-size="19.1" dy="7.4">s</tspan><tspan dy="-7.4"> = 212</tspan></text>
<text x="696.3" y="2416.8" font-size="26.5" fill="#111" textLength="106.3" lengthAdjust="spacingAndGlyphs">n<tspan font-size="19.1" dy="7.4">p</tspan><tspan dy="-7.4"> = 150</tspan></text>
<text x="173" y="2489.5" font-size="28" fill="#111" textLength="317.6" lengthAdjust="spacingAndGlyphs">MRI C1-2 SC area (mm<tspan font-size="17" dy="-11">2</tspan><tspan dy="11">)</tspan></text>
<text x="791.6" y="2489.5" font-size="28" fill="#111" textLength="316" lengthAdjust="spacingAndGlyphs">MRI C1-2 SC area (mm<tspan font-size="17" dy="-11">2</tspan><tspan dy="11">)</tspan></text>
<text transform="translate(30.8,2313.7) rotate(-90)" font-size="31" fill="#111" textLength="155" lengthAdjust="spacingAndGlyphs">SC disability</text>
<text transform="translate(648.6,2313.6) rotate(-90)" font-size="31" fill="#111" textLength="155" lengthAdjust="spacingAndGlyphs">SC disability</text>
<circle class="dy" cx="634.2" cy="100.8" r="6.8"/>
<text x="663.9" y="108.5" font-size="24" fill="#111">RRMS</text>
<circle class="dp" cx="634.2" cy="126" r="6.8"/>
<text x="663.9" y="134" font-size="24" fill="#111">SPMS</text>
<circle class="db" cx="634.2" cy="151.3" r="6.8"/>
<text x="663.9" y="159.4" font-size="24" fill="#111">PPMS</text>
<rect x="111.3" y="83.9" width="14.8" height="8.0" fill="#000"/>
<rect x="114.5" y="91.6" width="7.4" height="5.9" fill="#000"/>
<path d="M117.7 127.7 L117.7 99.35000000000001 A28.349999999999998 28.349999999999998 0 0 1 144.5 118.5 Z" fill="#cfcfcf"/>
<circle cx="117.7" cy="127.7" r="29.7" fill="none" stroke="#000" stroke-width="2.7"/>
<rect x="116.1" y="99.4" width="3.2" height="6.5" fill="#000"/>
<rect x="116.1" y="149.6" width="3.2" height="6.5" fill="#000"/>
<rect x="89.4" y="126.1" width="6.5" height="3.2" fill="#000"/>
<rect x="139.6" y="126.1" width="6.5" height="3.2" fill="#000"/>
<line x1="115.7" y1="127.7" x2="143.5" y2="118.8" stroke="#444" stroke-width="3"/>
<rect x="106.6" y="1022.2" width="15.8" height="8.5" fill="#000"/>
<rect x="110.0" y="1030.4" width="7.9" height="6.3" fill="#000"/>
<path d="M113.5 1069 L113.5 1039.05 A29.950000000000003 29.950000000000003 0 0 1 141.8 1059.2 Z" fill="#cfcfcf"/>
<circle cx="113.5" cy="1069" r="31.6" fill="none" stroke="#000" stroke-width="3.3"/>
<rect x="111.7" y="1039.0" width="3.6" height="7" fill="#000"/>
<rect x="111.7" y="1092.0" width="3.6" height="7" fill="#000"/>
<rect x="83.5" y="1067.2" width="7" height="3.6" fill="#000"/>
<rect x="136.4" y="1067.2" width="7" height="3.6" fill="#000"/>
<line x1="111.5" y1="1069" x2="141.0" y2="1059.5" stroke="#444" stroke-width="3"/>
<rect x="77.7" y="172.5" width="19.2" height="25.8" fill="#fff" stroke="#333" stroke-width="1.1"/>
<rect x="77.7" y="201.6" width="19.2" height="26.6" fill="#fff" stroke="#333" stroke-width="1.1"/>
<text x="87.3" y="221.5" font-size="17.5" text-anchor="middle" fill="#000">7</text>
<rect x="98.6" y="172.5" width="19.2" height="25.8" fill="#fff" stroke="#333" stroke-width="1.1"/>
<rect x="98.6" y="201.6" width="19.2" height="26.6" fill="#fff" stroke="#333" stroke-width="1.1"/>
<text x="108.2" y="221.5" font-size="17.5" text-anchor="middle" fill="#000">5</text>
<rect x="119.5" y="172.5" width="19.2" height="25.8" fill="#fff" stroke="#333" stroke-width="1.1"/>
<rect x="119.5" y="201.6" width="19.2" height="26.6" fill="#fff" stroke="#333" stroke-width="1.1"/>
<text x="129.1" y="221.5" font-size="17.5" text-anchor="middle" fill="#000">1</text>
<rect x="140.4" y="172.5" width="19.2" height="25.8" fill="#fff" stroke="#333" stroke-width="1.1"/>
<rect x="140.4" y="201.6" width="19.2" height="26.6" fill="#fff" stroke="#333" stroke-width="1.1"/>
<text x="150.0" y="221.5" font-size="17.5" text-anchor="middle" fill="#000">8</text>
<path d="M86.5 194.5 V180.5 M80.5 186.5 L86.5 180.5 L92.5 186.5" fill="none" stroke="#000" stroke-width="1.4"/>
<text x="107.2" y="191" font-size="15" text-anchor="middle" fill="#000">+</text>
<text x="129.1" y="193" font-size="16" text-anchor="middle" fill="#000">(</text>
<path d="M144.6 186.5 L150.0 192 L155.4 186.5" fill="none" stroke="#000" stroke-width="1.2"/>
<g fill="none" stroke="#1B2466" stroke-width="2.8"><circle cx="113.7" cy="809.5" r="18.4"/><path d="M81.6 865.3 V855.8 Q81.6 833.8 103.6 833.8 H126.7 Q148.7 833.8 148.7 855.8 V865.3 Q148.7 873.3 140.7 873.3 H89.6 Q81.6 873.3 81.6 865.3 Z"/><path d="M105.7 832.5 Q99 840 97.2 848.5"/><path d="M90.5 861 V855.5 Q90.5 848.8 96.6 848.8 Q102.6 848.8 102.6 855.5 V861" stroke-linecap="butt"/><path d="M124.8 832.5 Q130.5 840 132.2 848"/></g>
<circle cx="132.6" cy="852.8" r="6.2" fill="#1B2466"/>
<path d="M679.2 731 L728 731 L728 1172 Z" fill="url(#weightG)"/>
<text transform="translate(715.8,814.3) rotate(-90)" font-size="24.5" fill="#111" textLength="71.6" lengthAdjust="spacingAndGlyphs">weight</text>
<g><path d="M348 518 Q347 487 382 487 Q416 487 416 518 Q416.5 544 402 544 Q391 544 389 531 Q387 526.5 381.5 526.5 Q376 526.5 374.5 531 Q372 544 361 544 Q348 544 348 518 Z" fill="#E5C9A6" stroke="#EADCC2" stroke-width="3"/><path d="M353 520 Q352 493 381 492 Q411 493 411 520 Q411 538 402 539" fill="none" stroke="#D9A5A5" stroke-width="1.3" opacity="0.8"/><path d="M381 492 V515 M362 525 Q358 515 363 506 M400 525 Q405 515 399 506 M356 530 Q352 522 355 512 M407 530 Q411 522 408 512" fill="none" stroke="#D39C9C" stroke-width="1.2" opacity="0.8"/><path d="M377 513 L381 517 L385 513 L383 518 L379 518 Z" fill="#fff"/><path d="M374.5 526 Q381.5 522 389 526 L388 529 Q381.5 526 375.5 529 Z" fill="#F2F2F8"/></g>
<rect x="758.5" y="1312" width="42.5" height="572" fill="url(#scbarG)" stroke="#111" stroke-width="1.5"/>
<circle cx="223.5" cy="1461.9" r="20.2" fill="#fff" stroke="#B85A28" stroke-width="5.8"/>
<text x="223.5" y="1472.3" font-size="29" font-weight="bold" text-anchor="middle" fill="#000">1</text>
<circle cx="427" cy="1809.7" r="20" fill="#fff" stroke="#244E62" stroke-width="5.8"/>
<text x="427" y="1820.1" font-size="29" font-weight="bold" text-anchor="middle" fill="#000">2</text>
<line x1="252.8" y1="1483.1" x2="282.8" y2="1501.7" stroke="#F02010" stroke-width="5.3"/>
<path d="M297.3 1510.6 L277.3 1510.6 L288.4 1492.7 Z" fill="#F02010"/>
<line x1="392.6" y1="1802.3" x2="352.4" y2="1793.2" stroke="#F02010" stroke-width="4.8"/>
<path d="M336.8 1789.7 L354.7 1783.0 L350.1 1803.5 Z" fill="#F02010"/>
<text x="589.1" y="1633.2" font-size="27" fill="#7030A0" textLength="114.2" lengthAdjust="spacingAndGlyphs">residuals</text>
<text transform="translate(792.8,1685.1) rotate(-90)" font-size="34" fill="#7030A0" textLength="173.8" lengthAdjust="spacingAndGlyphs">SC disability</text>
<path d="M782.6 1375 L782.6 1342 M776.1 1351 L782.6 1342 L789.1 1351" fill="none" stroke="#C1440E" stroke-width="2.2" stroke-linejoin="miter"/>
<path d="M783.1 1832 L783.1 1864 M776.3000000000001 1855.5 L783.1 1864 L789.9 1855.5" fill="none" stroke="#430D4A" stroke-width="2.2" stroke-linejoin="miter"/>
<path d="M261.3 1355 L261.3 1333 M256.3 1339 L261.3 1333 L266.3 1339" fill="none" stroke="#C1440E" stroke-width="1.8" stroke-linejoin="miter"/>
<path d="M713.4 1838 L713.4 1816 M708.4 1822 L713.4 1816 L718.4 1822" fill="none" stroke="#430D4A" stroke-width="1.8" stroke-linejoin="miter"/>
<path d="M831.1 1585 L831.1 1610 M825.6 1603.5 L831.1 1610 L836.6 1603.5" fill="none" stroke="#C1440E" stroke-width="2" stroke-linejoin="miter"/>
<path d="M1057 1610 L1057 1585 M1051.5 1591.5 L1057 1585 L1062.5 1591.5" fill="none" stroke="#C1440E" stroke-width="2" stroke-linejoin="miter"/>
<path d="M846.4 1924 L846.4 1899 M840.9 1905.5 L846.4 1899 L851.9 1905.5" fill="none" stroke="#430D4A" stroke-width="2" stroke-linejoin="miter"/>
<path d="M1045 1899 L1045 1924 M1039.5 1917.5 L1045 1924 L1050.5 1917.5" fill="none" stroke="#430D4A" stroke-width="2" stroke-linejoin="miter"/>
</svg></body></html>
